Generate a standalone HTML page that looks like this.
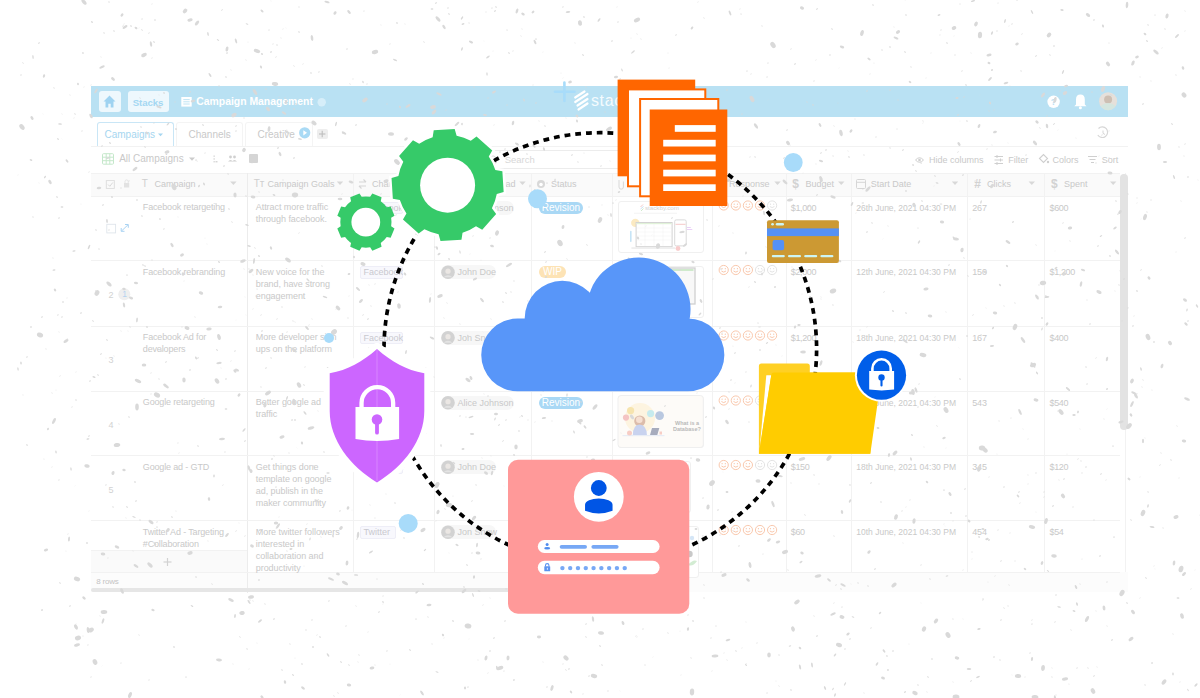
<!DOCTYPE html><html><head><meta charset="utf-8"><style>
*{margin:0;padding:0;box-sizing:border-box}
html,body{width:1200px;height:698px;overflow:hidden;background:#fff}
body{position:relative;font-family:"Liberation Sans",sans-serif}
.t{position:absolute;white-space:nowrap;line-height:1.2;z-index:1}
.b{position:absolute}
svg{position:absolute;left:0;top:0}
</style></head><body><div id="ui"><div class="b" style="left:91px;top:86px;width:1037px;height:30.5px;background:#b9e1f3"></div><div class="b" style="left:98.5px;top:90.7px;width:22px;height:21px;background:#eef8fd;border-radius:3px"></div><div class="b" style="left:127.5px;top:90.7px;width:41px;height:21px;background:#eef8fd;border-radius:3px"></div><div class="t" style="left:132.8px;top:96.5px;font-size:9.6px;color:#a3d7f2;letter-spacing:-0.1px;font-weight:700;">Stacks</div><div class="t" style="left:196.3px;top:95.8px;font-size:10.4px;color:#fff;letter-spacing:0px;font-weight:700;">Campaign Management</div><div class="t" style="left:591px;top:90.9px;font-size:16px;color:#f4fbfe;letter-spacing:0.6px;font-weight:400;">stac</div><div class="t" style="left:1050.8px;top:96.6px;font-size:9px;color:#b9e1f3;letter-spacing:0px;font-weight:700;">?</div><div class="b" style="left:96.5px;top:122px;width:77px;height:25px;border:1px solid #c9e6f6;border-bottom:none;border-radius:3px 3px 0 0;background:#fff"></div><div class="t" style="left:104.5px;top:129.0px;font-size:10px;color:#a6d6f0;letter-spacing:0px;font-weight:400;">Campaigns</div><div class="b" style="left:176px;top:122px;width:66.5px;height:24px;border:1px solid #f4f4f4;border-bottom:none;border-radius:3px 3px 0 0"></div><div class="t" style="left:188.5px;top:129.0px;font-size:10px;color:#c9c9c9;letter-spacing:0px;font-weight:400;">Channels</div><div class="b" style="left:245px;top:122px;width:68px;height:24px;border:1px solid #f4f4f4;border-bottom:none;border-radius:3px 3px 0 0"></div><div class="t" style="left:257.5px;top:129.0px;font-size:10px;color:#c9c9c9;letter-spacing:0px;font-weight:400;">Creative</div><div class="b" style="left:316.7px;top:128.7px;width:11px;height:10.5px;background:#eeeeee;border-radius:2px"></div><div class="b" style="left:91px;top:146px;width:1037px;height:1px;background:#f2f2f2"></div><div class="t" style="left:119.2px;top:153.0px;font-size:10px;color:#c9c9c9;letter-spacing:0px;font-weight:400;">All Campaigns</div><div class="b" style="left:249px;top:154px;width:8.5px;height:8.5px;background:#d5d5d5;border-radius:1px"></div><div class="b" style="left:470px;top:149.6px;width:190px;height:19.2px;border:1px solid #ececec;border-radius:3px;background:#fff"></div><div class="t" style="left:504.7px;top:153.8px;font-size:9.5px;color:#d8d8d8;letter-spacing:0px;font-weight:400;">Search</div><div class="t" style="left:929.1px;top:154.6px;font-size:9px;color:#c9c9c9;letter-spacing:0px;font-weight:400;">Hide columns</div><div class="t" style="left:1008.2px;top:154.6px;font-size:9px;color:#c9c9c9;letter-spacing:0px;font-weight:400;">Filter</div><div class="t" style="left:1052.4px;top:154.6px;font-size:9px;color:#c9c9c9;letter-spacing:0px;font-weight:400;">Colors</div><div class="t" style="left:1101.7px;top:154.6px;font-size:9px;color:#c9c9c9;letter-spacing:0px;font-weight:400;">Sort</div><div class="b" style="left:91px;top:172.5px;width:1029px;height:23px;background:#fafafa"></div><div class="b" style="left:91px;top:572px;width:1037px;height:19.5px;background:#fcfcfc"></div><div class="b" style="left:91px;top:172.5px;width:1029px;height:1px;background:#f2f2f2"></div><div class="b" style="left:91px;top:195.5px;width:1029px;height:1px;background:#f2f2f2"></div><div class="b" style="left:246.5px;top:172.5px;width:1px;height:399.5px;background:#f2f2f2"></div><div class="b" style="left:352.5px;top:172.5px;width:1px;height:399.5px;background:#f2f2f2"></div><div class="b" style="left:433.75px;top:172.5px;width:1px;height:399.5px;background:#f2f2f2"></div><div class="b" style="left:531.25px;top:172.5px;width:1px;height:399.5px;background:#f2f2f2"></div><div class="b" style="left:611.5px;top:172.5px;width:1px;height:399.5px;background:#f2f2f2"></div><div class="b" style="left:711.7px;top:172.5px;width:1px;height:399.5px;background:#f2f2f2"></div><div class="b" style="left:785.5px;top:172.5px;width:1px;height:399.5px;background:#f2f2f2"></div><div class="b" style="left:851.25px;top:172.5px;width:1px;height:399.5px;background:#f2f2f2"></div><div class="b" style="left:967px;top:172.5px;width:1px;height:399.5px;background:#f2f2f2"></div><div class="b" style="left:1044px;top:172.5px;width:1px;height:399.5px;background:#f2f2f2"></div><div class="b" style="left:1125px;top:172.5px;width:1px;height:399.5px;background:#f2f2f2"></div><div class="b" style="left:246.5px;top:172.5px;width:1.5px;height:420px;background:#ececec"></div><div class="b" style="left:91px;top:260px;width:1029px;height:1px;background:#f2f2f2"></div><div class="b" style="left:91px;top:325.5px;width:1029px;height:1px;background:#f2f2f2"></div><div class="b" style="left:91px;top:390.5px;width:1029px;height:1px;background:#f2f2f2"></div><div class="b" style="left:91px;top:455px;width:1029px;height:1px;background:#f2f2f2"></div><div class="b" style="left:91px;top:520px;width:1029px;height:1px;background:#f2f2f2"></div><div class="b" style="left:91px;top:571.5px;width:1029px;height:1px;background:#f2f2f2"></div><div class="t" style="left:154.4px;top:179.1px;font-size:9px;color:#c9c9c9;letter-spacing:0px;font-weight:400;">Campaign</div><div class="t" style="left:267.5px;top:179.1px;font-size:9px;color:#c9c9c9;letter-spacing:0px;font-weight:400;">Campaign Goals</div><div class="t" style="left:372px;top:179.1px;font-size:9px;color:#c9c9c9;letter-spacing:0px;font-weight:400;">Channels</div><div class="t" style="left:495.5px;top:179.1px;font-size:9px;color:#c9c9c9;letter-spacing:0px;font-weight:400;">Lead</div><div class="t" style="left:551px;top:179.1px;font-size:9px;color:#c9c9c9;letter-spacing:0px;font-weight:400;">Status</div><div class="t" style="left:729px;top:179.1px;font-size:9px;color:#c9c9c9;letter-spacing:0px;font-weight:400;">Response</div><div class="t" style="left:805.5px;top:179.1px;font-size:9px;color:#c9c9c9;letter-spacing:0px;font-weight:400;">Budget</div><div class="t" style="left:870.75px;top:179.1px;font-size:9px;color:#c9c9c9;letter-spacing:0px;font-weight:400;">Start Date</div><div class="t" style="left:987.1px;top:179.1px;font-size:9px;color:#c9c9c9;letter-spacing:0px;font-weight:400;">Clicks</div><div class="t" style="left:1063.9px;top:179.1px;font-size:9px;color:#c9c9c9;letter-spacing:0px;font-weight:400;">Spent</div><div class="t" style="left:141.7px;top:178.0px;font-size:10px;color:#cfcfcf;letter-spacing:0px;font-weight:400;">T</div><div class="t" style="left:253.75px;top:178.0px;font-size:10px;color:#cfcfcf;letter-spacing:0px;font-weight:400;">T&#1090;</div><div class="t" style="left:792.3px;top:177.1px;font-size:12px;color:#d2d2d2;letter-spacing:0px;font-weight:700;">$</div><div class="t" style="left:974.3px;top:177.1px;font-size:12px;color:#d2d2d2;letter-spacing:0px;font-weight:700;">#</div><div class="t" style="left:1051.1px;top:177.1px;font-size:12px;color:#d2d2d2;letter-spacing:0px;font-weight:700;">$</div><div class="t" style="left:142.8px;top:202.0px;font-size:9px;color:#c9c9c9;letter-spacing:-0.15px;font-weight:400;">Facebook retargeting</div><div class="t" style="left:255.75px;top:202.0px;font-size:9px;color:#c9c9c9;letter-spacing:-0.05px;font-weight:400;">Attract more traffic</div><div class="t" style="left:255.75px;top:214.0px;font-size:9px;color:#c9c9c9;letter-spacing:-0.05px;font-weight:400;">through facebook.</div><div class="b" style="left:360px;top:201.5px;width:42.5px;height:12.5px;background:#f8f8fd;border:1px solid #eeeef7;border-radius:2px"></div><div class="t" style="left:363.5px;top:202.9px;font-size:9px;color:#c9c9cf;letter-spacing:0px;font-weight:400;">Facebook</div><div class="b" style="left:441px;top:200.7px;width:73px;height:14px;background:#f7f7f7;border-radius:7px"></div><div class="t" style="left:457.5px;top:202.5px;font-size:9px;color:#c9c9c9;letter-spacing:0px;font-weight:400;">Alice Johnson</div><div class="b" style="left:538.5px;top:201.79999999999998px;width:44px;height:11.8px;background:#a9d8f5;border-radius:6px"></div><div class="t" style="left:541.8px;top:201.8px;font-size:10px;color:#fff;letter-spacing:0px;font-weight:400;">Revision</div><div class="t" style="left:790.75px;top:202.5px;font-size:9px;color:#c9c9c9;letter-spacing:-0.35px;font-weight:400;">$1,000</div><div class="t" style="left:856.25px;top:202.8px;font-size:8.5px;color:#c9c9c9;letter-spacing:0px;font-weight:400;">26th June, 2021 04:30 PM</div><div class="t" style="left:972.3px;top:202.5px;font-size:9px;color:#c9c9c9;letter-spacing:-0.2px;font-weight:400;">267</div><div class="t" style="left:1049.5px;top:202.5px;font-size:9px;color:#c9c9c9;letter-spacing:-0.35px;font-weight:400;">$600</div><div class="b" style="left:617.5px;top:201.0px;width:86px;height:52px;border:1px solid #f0f0f0;border-radius:3px;background:#fff"></div><div class="t" style="left:142.8px;top:266.5px;font-size:9px;color:#c9c9c9;letter-spacing:-0.15px;font-weight:400;">Facebook rebranding</div><div class="t" style="left:255.75px;top:266.5px;font-size:9px;color:#c9c9c9;letter-spacing:-0.05px;font-weight:400;">New voice for the</div><div class="t" style="left:255.75px;top:278.5px;font-size:9px;color:#c9c9c9;letter-spacing:-0.05px;font-weight:400;">brand, have strong</div><div class="t" style="left:255.75px;top:290.5px;font-size:9px;color:#c9c9c9;letter-spacing:-0.05px;font-weight:400;">engagement</div><div class="t" style="left:108.5px;top:289.6px;font-size:9px;color:#d2d2d2;letter-spacing:0px;font-weight:400;">2</div><div class="b" style="left:360px;top:266.0px;width:42.5px;height:12.5px;background:#f8f8fd;border:1px solid #eeeef7;border-radius:2px"></div><div class="t" style="left:363.5px;top:267.4px;font-size:9px;color:#c9c9cf;letter-spacing:0px;font-weight:400;">Facebook</div><div class="b" style="left:441px;top:265.2px;width:55px;height:14px;background:#f7f7f7;border-radius:7px"></div><div class="t" style="left:457.5px;top:267.0px;font-size:9px;color:#c9c9c9;letter-spacing:0px;font-weight:400;">John Doe</div><div class="b" style="left:538.5px;top:266.3px;width:27px;height:11.8px;background:#fde3b5;border-radius:6px"></div><div class="t" style="left:543px;top:266.3px;font-size:10px;color:#fff;letter-spacing:0px;font-weight:400;">WIP</div><div class="t" style="left:790.75px;top:267.0px;font-size:9px;color:#c9c9c9;letter-spacing:-0.35px;font-weight:400;">$2,000</div><div class="t" style="left:856.25px;top:267.3px;font-size:8.5px;color:#c9c9c9;letter-spacing:0px;font-weight:400;">12th June, 2021 04:30 PM</div><div class="t" style="left:972.3px;top:267.0px;font-size:9px;color:#c9c9c9;letter-spacing:-0.2px;font-weight:400;">150</div><div class="t" style="left:1049.5px;top:267.0px;font-size:9px;color:#c9c9c9;letter-spacing:-0.35px;font-weight:400;">$1,200</div><div class="b" style="left:617.5px;top:265.5px;width:86px;height:52px;border:1px solid #f0f0f0;border-radius:3px;background:#fff"></div><div class="t" style="left:142.8px;top:332.0px;font-size:9px;color:#c9c9c9;letter-spacing:-0.15px;font-weight:400;">Facebook Ad for</div><div class="t" style="left:142.8px;top:344.0px;font-size:9px;color:#c9c9c9;letter-spacing:-0.15px;font-weight:400;">developers</div><div class="t" style="left:255.75px;top:332.0px;font-size:9px;color:#c9c9c9;letter-spacing:-0.05px;font-weight:400;">More developer sign</div><div class="t" style="left:255.75px;top:344.0px;font-size:9px;color:#c9c9c9;letter-spacing:-0.05px;font-weight:400;">ups on the platform</div><div class="t" style="left:108.5px;top:355.1px;font-size:9px;color:#d2d2d2;letter-spacing:0px;font-weight:400;">3</div><div class="b" style="left:360px;top:331.5px;width:42.5px;height:12.5px;background:#f8f8fd;border:1px solid #eeeef7;border-radius:2px"></div><div class="t" style="left:363.5px;top:332.9px;font-size:9px;color:#c9c9cf;letter-spacing:0px;font-weight:400;">Facebook</div><div class="b" style="left:441px;top:330.7px;width:55px;height:14px;background:#f7f7f7;border-radius:7px"></div><div class="t" style="left:457.5px;top:332.5px;font-size:9px;color:#c9c9c9;letter-spacing:0px;font-weight:400;">Jon Snow</div><div class="t" style="left:790.75px;top:332.5px;font-size:9px;color:#c9c9c9;letter-spacing:-0.35px;font-weight:400;">$1,200</div><div class="t" style="left:856.25px;top:332.8px;font-size:8.5px;color:#c9c9c9;letter-spacing:0px;font-weight:400;">18th June, 2021 04:30 PM</div><div class="t" style="left:972.3px;top:332.5px;font-size:9px;color:#c9c9c9;letter-spacing:-0.2px;font-weight:400;">167</div><div class="t" style="left:1049.5px;top:332.5px;font-size:9px;color:#c9c9c9;letter-spacing:-0.35px;font-weight:400;">$400</div><div class="t" style="left:142.8px;top:397.0px;font-size:9px;color:#c9c9c9;letter-spacing:-0.15px;font-weight:400;">Google retargeting</div><div class="t" style="left:255.75px;top:397.0px;font-size:9px;color:#c9c9c9;letter-spacing:-0.05px;font-weight:400;">Better google ad</div><div class="t" style="left:255.75px;top:409.0px;font-size:9px;color:#c9c9c9;letter-spacing:-0.05px;font-weight:400;">traffic</div><div class="t" style="left:108.5px;top:420.1px;font-size:9px;color:#d2d2d2;letter-spacing:0px;font-weight:400;">4</div><div class="b" style="left:360px;top:396.5px;width:42.5px;height:12.5px;background:#f8f8fd;border:1px solid #eeeef7;border-radius:2px"></div><div class="t" style="left:363.5px;top:397.9px;font-size:9px;color:#c9c9cf;letter-spacing:0px;font-weight:400;">Facebook</div><div class="b" style="left:441px;top:395.7px;width:73px;height:14px;background:#f7f7f7;border-radius:7px"></div><div class="t" style="left:457.5px;top:397.5px;font-size:9px;color:#c9c9c9;letter-spacing:0px;font-weight:400;">Alice Johnson</div><div class="b" style="left:538.5px;top:396.8px;width:44px;height:11.8px;background:#a9d8f5;border-radius:6px"></div><div class="t" style="left:541.8px;top:396.8px;font-size:10px;color:#fff;letter-spacing:0px;font-weight:400;">Revision</div><div class="t" style="left:790.75px;top:397.5px;font-size:9px;color:#c9c9c9;letter-spacing:-0.35px;font-weight:400;">$1,500</div><div class="t" style="left:856.25px;top:397.8px;font-size:8.5px;color:#c9c9c9;letter-spacing:0px;font-weight:400;">18th June, 2021 04:30 PM</div><div class="t" style="left:972.3px;top:397.5px;font-size:9px;color:#c9c9c9;letter-spacing:-0.2px;font-weight:400;">543</div><div class="t" style="left:1049.5px;top:397.5px;font-size:9px;color:#c9c9c9;letter-spacing:-0.35px;font-weight:400;">$540</div><div class="b" style="left:617.5px;top:396.0px;width:86px;height:52px;border:1px solid #f0f0f0;border-radius:3px;background:#fff"></div><div class="t" style="left:142.8px;top:461.5px;font-size:9px;color:#c9c9c9;letter-spacing:-0.15px;font-weight:400;">Google ad - GTD</div><div class="t" style="left:255.75px;top:461.5px;font-size:9px;color:#c9c9c9;letter-spacing:-0.05px;font-weight:400;">Get things done</div><div class="t" style="left:255.75px;top:473.5px;font-size:9px;color:#c9c9c9;letter-spacing:-0.05px;font-weight:400;">template on google</div><div class="t" style="left:255.75px;top:485.5px;font-size:9px;color:#c9c9c9;letter-spacing:-0.05px;font-weight:400;">ad, publish in the</div><div class="t" style="left:255.75px;top:497.5px;font-size:9px;color:#c9c9c9;letter-spacing:-0.05px;font-weight:400;">maker community</div><div class="t" style="left:108.5px;top:484.6px;font-size:9px;color:#d2d2d2;letter-spacing:0px;font-weight:400;">5</div><div class="b" style="left:360px;top:461.0px;width:42.5px;height:12.5px;background:#f8f8fd;border:1px solid #eeeef7;border-radius:2px"></div><div class="t" style="left:363.5px;top:462.4px;font-size:9px;color:#c9c9cf;letter-spacing:0px;font-weight:400;">Facebook</div><div class="b" style="left:441px;top:460.2px;width:55px;height:14px;background:#f7f7f7;border-radius:7px"></div><div class="t" style="left:457.5px;top:462.0px;font-size:9px;color:#c9c9c9;letter-spacing:0px;font-weight:400;">John Doe</div><div class="t" style="left:790.75px;top:462.0px;font-size:9px;color:#c9c9c9;letter-spacing:-0.35px;font-weight:400;">$150</div><div class="t" style="left:856.25px;top:462.3px;font-size:8.5px;color:#c9c9c9;letter-spacing:0px;font-weight:400;">18th June, 2021 04:30 PM</div><div class="t" style="left:972.3px;top:462.0px;font-size:9px;color:#c9c9c9;letter-spacing:-0.2px;font-weight:400;">345</div><div class="t" style="left:1049.5px;top:462.0px;font-size:9px;color:#c9c9c9;letter-spacing:-0.35px;font-weight:400;">$120</div><div class="b" style="left:617.5px;top:460.5px;width:73.5px;height:52px;border:1px solid #f0f0f0;border-radius:3px;background:#fff"></div><div class="t" style="left:142.8px;top:526.5px;font-size:9px;color:#c9c9c9;letter-spacing:-0.15px;font-weight:400;">Twitter Ad - Targeting</div><div class="t" style="left:142.8px;top:538.5px;font-size:9px;color:#c9c9c9;letter-spacing:-0.15px;font-weight:400;">#Collaboration</div><div class="t" style="left:255.75px;top:526.5px;font-size:9px;color:#c9c9c9;letter-spacing:-0.05px;font-weight:400;">More twitter followers</div><div class="t" style="left:255.75px;top:538.5px;font-size:9px;color:#c9c9c9;letter-spacing:-0.05px;font-weight:400;">interested in</div><div class="t" style="left:255.75px;top:550.5px;font-size:9px;color:#c9c9c9;letter-spacing:-0.05px;font-weight:400;">collaboration and</div><div class="t" style="left:255.75px;top:562.5px;font-size:9px;color:#c9c9c9;letter-spacing:-0.05px;font-weight:400;">productivity</div><div class="b" style="left:360px;top:526.0px;width:36px;height:12.5px;background:#f8f8fd;border:1px solid #eeeef7;border-radius:2px"></div><div class="t" style="left:363.5px;top:527.4px;font-size:9px;color:#c9c9cf;letter-spacing:0px;font-weight:400;">Twitter</div><div class="b" style="left:441px;top:525.2px;width:55px;height:14px;background:#f7f7f7;border-radius:7px"></div><div class="t" style="left:457.5px;top:527.0px;font-size:9px;color:#c9c9c9;letter-spacing:0px;font-weight:400;">Jon Snow</div><div class="t" style="left:790.75px;top:527.0px;font-size:9px;color:#c9c9c9;letter-spacing:-0.35px;font-weight:400;">$60</div><div class="t" style="left:856.25px;top:527.3px;font-size:8.5px;color:#c9c9c9;letter-spacing:0px;font-weight:400;">10th June, 2021 04:30 PM</div><div class="t" style="left:972.3px;top:527.0px;font-size:9px;color:#c9c9c9;letter-spacing:-0.2px;font-weight:400;">454</div><div class="t" style="left:1049.5px;top:527.0px;font-size:9px;color:#c9c9c9;letter-spacing:-0.35px;font-weight:400;">$54</div><div class="b" style="left:617.5px;top:525.5px;width:81.5px;height:52px;border:1px solid #f0f0f0;border-radius:3px;background:#fff"></div><div class="t" style="left:122.2px;top:289.4px;font-size:8.5px;color:#b5d3f0;letter-spacing:0px;font-weight:400;">1</div><div class="t" style="left:675px;top:419.7px;font-size:5.5px;color:#b9b9b9;letter-spacing:0px;font-weight:700;">What is a</div><div class="t" style="left:673px;top:425.5px;font-size:5.5px;color:#b9b9b9;letter-spacing:0px;font-weight:700;">Database?</div><div class="b" style="left:91px;top:550px;width:156px;height:21.5px;background:#fafafa"></div><div class="b" style="left:91px;top:550px;width:156px;height:1px;background:#f2f2f2"></div><div class="t" style="left:96.2px;top:577.2px;font-size:8px;color:#c4c4c4;letter-spacing:-0.2px;font-weight:400;">8 rows</div><div class="b" style="left:91px;top:587.5px;width:470px;height:4.5px;background:#e6e6e6;border-radius:3px"></div><div class="b" style="left:1120px;top:174px;width:7.5px;height:256px;background:#e3e3e3;border-radius:4px"></div><svg width="1200" height="698"><path d="M109.5 95.5 L103.5 101.5 H105.5 V107.5 H108.3 V103.8 H110.7 V107.5 H113.5 V101.5 H115.5Z" fill="#9fd3f1"/><rect x="181.3" y="97" width="10.4" height="9.6" fill="#fff"/><g stroke="#b9e1f3" stroke-width="0.9"><line x1="183.3" y1="99.6" x2="189.7" y2="99.6"/><line x1="183.3" y1="101.8" x2="189.7" y2="101.8"/><line x1="183.3" y1="104" x2="189.7" y2="104"/></g><circle cx="321.7" cy="102.2" r="4.2" fill="#d6eef9"/><g stroke="#a8dcfa" stroke-width="2.6" stroke-linecap="round"><line x1="564.4" y1="82.5" x2="564.4" y2="101"/><line x1="555" y1="91.7" x2="574.5" y2="91.7"/></g><g stroke="#fff" stroke-width="2.2" stroke-linecap="round"><line x1="575.2" y1="97.5" x2="584.5" y2="91.5"/><line x1="575.2" y1="102" x2="587.5" y2="94"/><line x1="577.5" y1="105.5" x2="587.5" y2="99"/><line x1="578.5" y1="109.5" x2="587.5" y2="103.5"/></g><circle cx="1053.6" cy="101.8" r="6.2" fill="#fff"/><path d="M1080.4 94.5 Q1076 94.5 1076 99.5 V104.5 L1074.3 106.3 H1086.5 L1084.8 104.5 V99.5 Q1084.8 94.5 1080.4 94.5Z" fill="#fff"/><circle cx="1080.4" cy="107.8" r="1.5" fill="#fff"/><circle cx="1108.1" cy="101.2" r="9" fill="#e6e0da"/><circle cx="1108.1" cy="99.5" r="4" fill="#cdbfb3"/><path d="M1100.5 106 Q1108 100 1115.7 106 Q1112 110.2 1108.1 110.2 Q1104 110.2 1100.5 106Z" fill="#d5e6df"/><path d="M158 133.5 H163 L160.5 136.3Z" fill="#a6d6f0"/><circle cx="304.7" cy="132.8" r="5.6" fill="#a9daf5"/><path d="M303.3 130.2 L307 132.8 L303.3 135.4Z" fill="#fff"/><g stroke="#bdbdbd" stroke-width="1.1"><line x1="322.2" y1="130.8" x2="322.2" y2="137.2"/><line x1="319" y1="134" x2="325.4" y2="134"/></g><path d="M1098.5 128.5 A5.3 5.3 0 1 1 1097.8 135" fill="none" stroke="#d6d6d6" stroke-width="1.2"/><path d="M1103 130.5 V133.3 L1105 134.5" fill="none" stroke="#d6d6d6" stroke-width="1"/><g fill="none" stroke="#c5e8cb" stroke-width="1"><rect x="102.5" y="153.7" width="11" height="10.5" rx="1"/><line x1="106.2" y1="153.7" x2="106.2" y2="164.2"/><line x1="109.8" y1="153.7" x2="109.8" y2="164.2"/><line x1="102.5" y1="157.2" x2="113.5" y2="157.2"/><line x1="102.5" y1="160.7" x2="113.5" y2="160.7"/></g><path d="M189 157.5 H195 L192 160.8Z" fill="#cccccc"/><g fill="#d2d2d2"><rect x="213.5" y="155.5" width="1.3" height="1.3"/><rect x="213.5" y="158.3" width="1.3" height="1.3"/><rect x="213.5" y="161.1" width="1.3" height="1.3"/><rect x="215.5" y="161.1" width="2" height="1.3"/></g><g fill="#d0d0d0"><circle cx="230.5" cy="157" r="1.4"/><circle cx="234.5" cy="157" r="1.4"/><path d="M228 161.5 Q230.5 158.5 233 161.5Z M232 161.5 Q234.5 158.5 237 161.5Z"/></g><circle cx="493" cy="158.5" r="2.6" fill="none" stroke="#d8d8d8" stroke-width="1"/><path d="M915.5 160 Q919.5 155.5 923.5 160 Q919.5 164.5 915.5 160Z" fill="none" stroke="#cfcfcf" stroke-width="1"/><circle cx="919.5" cy="160" r="1.3" fill="#cfcfcf"/><g stroke="#cfcfcf" stroke-width="1"><line x1="994.5" y1="156.5" x2="1003" y2="156.5"/><line x1="994.5" y1="160" x2="1003" y2="160"/><line x1="994.5" y1="163.5" x2="1003" y2="163.5"/><line x1="997" y1="155" x2="997" y2="158"/><line x1="1000.5" y1="158.5" x2="1000.5" y2="161.5"/><line x1="997" y1="162" x2="997" y2="165"/></g><path d="M1039.5 158.5 L1043.5 154.5 L1047.5 158.5 L1043.5 162.5Z" fill="none" stroke="#cfcfcf" stroke-width="1.1"/><circle cx="1048" cy="162" r="1.2" fill="#cfcfcf"/><g stroke="#cfcfcf" stroke-width="1"><line x1="1088" y1="156.5" x2="1097" y2="156.5"/><line x1="1089.5" y1="159.5" x2="1095.5" y2="159.5"/><line x1="1091" y1="162.5" x2="1094" y2="162.5"/></g><path d="M230.20000000000002 181.5 H236.6 L233.4 185Z" fill="#d8d8d8"/><path d="M336.8 181.5 H343.2 L340 185Z" fill="#d8d8d8"/><path d="M417.8 181.5 H424.2 L421 185Z" fill="#d8d8d8"/><path d="M519.3 181.5 H525.7 L522.5 185Z" fill="#d8d8d8"/><path d="M774.3 181.5 H780.7 L777.5 185Z" fill="#d8d8d8"/><path d="M838.05 181.5 H844.45 L841.25 185Z" fill="#d8d8d8"/><path d="M951.8 181.5 H958.2 L955 185Z" fill="#d8d8d8"/><path d="M1028.6 181.5 H1035.0 L1031.8 185Z" fill="#d8d8d8"/><path d="M1110.0 181.5 H1116.4 L1113.2 185Z" fill="#d8d8d8"/><rect x="106.3" y="180.6" width="8" height="7.8" fill="none" stroke="#dcdcdc" stroke-width="0.9"/><path d="M108 184.5 L109.8 186.3 L112.8 182.5" fill="none" stroke="#cfcfcf" stroke-width="0.8"/><rect x="124" y="183" width="5.2" height="4.5" fill="#e2e2e2"/><path d="M125 183 V181.5 A1.6 1.6 0 0 1 128.2 181.5 V183" fill="none" stroke="#e2e2e2" stroke-width="0.9"/><g stroke="#d6d6d6" stroke-width="1.1" fill="none"><path d="M359 182 H366 M363.5 179.5 L366 182 M359 186 H366 M361.5 188.5 L359 186"/></g><circle cx="541" cy="184" r="4" fill="#d8d8d8"/><circle cx="541" cy="184.5" r="1.8" fill="#fff"/><path d="M619 180 V187 A2.2 2.2 0 0 0 623.4 187 V181.5" fill="none" stroke="#d8d8d8" stroke-width="1"/><rect x="856.5" y="179.5" width="9" height="9" rx="1" fill="none" stroke="#d6d6d6" stroke-width="1"/><line x1="856.5" y1="182.3" x2="865.5" y2="182.3" stroke="#d6d6d6" stroke-width="1"/><circle cx="448" cy="207.7" r="6.8" fill="#d2d2d2"/><circle cx="448" cy="206.7" r="2.6" fill="#ebe7e4"/><path d="M443.5 212.7 Q448 208.9 452.5 212.7Z" fill="#e3e3e3"/><g fill="none" stroke="#f8c2a4" stroke-width="0.9"><circle cx="723.7" cy="205.5" r="4.6"/><path d="M721.4 206.5 Q723.7 208.7 726.0 206.5"/></g><g fill="#f8c2a4"><circle cx="722.1" cy="204.2" r="0.6"/><circle cx="725.3" cy="204.2" r="0.6"/></g><g fill="none" stroke="#f8c2a4" stroke-width="0.9"><circle cx="735.8" cy="205.5" r="4.6"/><path d="M733.5 206.5 Q735.8 208.7 738.1 206.5"/></g><g fill="#f8c2a4"><circle cx="734.2" cy="204.2" r="0.6"/><circle cx="737.4" cy="204.2" r="0.6"/></g><g fill="none" stroke="#f8c2a4" stroke-width="0.9"><circle cx="747.9" cy="205.5" r="4.6"/><path d="M745.6 206.5 Q747.9 208.7 750.2 206.5"/></g><g fill="#f8c2a4"><circle cx="746.3" cy="204.2" r="0.6"/><circle cx="749.5" cy="204.2" r="0.6"/></g><g fill="none" stroke="#f8c2a4" stroke-width="0.9"><circle cx="760.0" cy="205.5" r="4.6"/><path d="M757.7 206.5 Q760.0 208.7 762.3 206.5"/></g><g fill="#f8c2a4"><circle cx="758.4" cy="204.2" r="0.6"/><circle cx="761.6" cy="204.2" r="0.6"/></g><g fill="none" stroke="#e0e0e0" stroke-width="0.9"><circle cx="772.1" cy="205.5" r="4.6"/><path d="M769.8 206.5 Q772.1 208.7 774.4 206.5"/></g><g fill="#e0e0e0"><circle cx="770.5" cy="204.2" r="0.6"/><circle cx="773.7" cy="204.2" r="0.6"/></g><circle cx="448" cy="272.2" r="6.8" fill="#d2d2d2"/><circle cx="448" cy="271.2" r="2.6" fill="#ebe7e4"/><path d="M443.5 277.2 Q448 273.4 452.5 277.2Z" fill="#e3e3e3"/><g fill="none" stroke="#f8c2a4" stroke-width="0.9"><circle cx="723.7" cy="270.0" r="4.6"/><path d="M721.4 271.0 Q723.7 273.2 726.0 271.0"/></g><g fill="#f8c2a4"><circle cx="722.1" cy="268.7" r="0.6"/><circle cx="725.3" cy="268.7" r="0.6"/></g><g fill="none" stroke="#f8c2a4" stroke-width="0.9"><circle cx="735.8" cy="270.0" r="4.6"/><path d="M733.5 271.0 Q735.8 273.2 738.1 271.0"/></g><g fill="#f8c2a4"><circle cx="734.2" cy="268.7" r="0.6"/><circle cx="737.4" cy="268.7" r="0.6"/></g><g fill="none" stroke="#f8c2a4" stroke-width="0.9"><circle cx="747.9" cy="270.0" r="4.6"/><path d="M745.6 271.0 Q747.9 273.2 750.2 271.0"/></g><g fill="#f8c2a4"><circle cx="746.3" cy="268.7" r="0.6"/><circle cx="749.5" cy="268.7" r="0.6"/></g><g fill="none" stroke="#e0e0e0" stroke-width="0.9"><circle cx="760.0" cy="270.0" r="4.6"/><path d="M757.7 271.0 Q760.0 273.2 762.3 271.0"/></g><g fill="#e0e0e0"><circle cx="758.4" cy="268.7" r="0.6"/><circle cx="761.6" cy="268.7" r="0.6"/></g><g fill="none" stroke="#e0e0e0" stroke-width="0.9"><circle cx="772.1" cy="270.0" r="4.6"/><path d="M769.8 271.0 Q772.1 273.2 774.4 271.0"/></g><g fill="#e0e0e0"><circle cx="770.5" cy="268.7" r="0.6"/><circle cx="773.7" cy="268.7" r="0.6"/></g><circle cx="448" cy="337.7" r="6.8" fill="#d2d2d2"/><circle cx="448" cy="336.7" r="2.6" fill="#ebe7e4"/><path d="M443.5 342.7 Q448 338.9 452.5 342.7Z" fill="#e3e3e3"/><g fill="none" stroke="#f8c2a4" stroke-width="0.9"><circle cx="723.7" cy="335.5" r="4.6"/><path d="M721.4 336.5 Q723.7 338.7 726.0 336.5"/></g><g fill="#f8c2a4"><circle cx="722.1" cy="334.2" r="0.6"/><circle cx="725.3" cy="334.2" r="0.6"/></g><g fill="none" stroke="#f8c2a4" stroke-width="0.9"><circle cx="735.8" cy="335.5" r="4.6"/><path d="M733.5 336.5 Q735.8 338.7 738.1 336.5"/></g><g fill="#f8c2a4"><circle cx="734.2" cy="334.2" r="0.6"/><circle cx="737.4" cy="334.2" r="0.6"/></g><g fill="none" stroke="#f8c2a4" stroke-width="0.9"><circle cx="747.9" cy="335.5" r="4.6"/><path d="M745.6 336.5 Q747.9 338.7 750.2 336.5"/></g><g fill="#f8c2a4"><circle cx="746.3" cy="334.2" r="0.6"/><circle cx="749.5" cy="334.2" r="0.6"/></g><g fill="none" stroke="#f8c2a4" stroke-width="0.9"><circle cx="760.0" cy="335.5" r="4.6"/><path d="M757.7 336.5 Q760.0 338.7 762.3 336.5"/></g><g fill="#f8c2a4"><circle cx="758.4" cy="334.2" r="0.6"/><circle cx="761.6" cy="334.2" r="0.6"/></g><g fill="none" stroke="#f8c2a4" stroke-width="0.9"><circle cx="772.1" cy="335.5" r="4.6"/><path d="M769.8 336.5 Q772.1 338.7 774.4 336.5"/></g><g fill="#f8c2a4"><circle cx="770.5" cy="334.2" r="0.6"/><circle cx="773.7" cy="334.2" r="0.6"/></g><circle cx="448" cy="402.7" r="6.8" fill="#d2d2d2"/><circle cx="448" cy="401.7" r="2.6" fill="#ebe7e4"/><path d="M443.5 407.7 Q448 403.9 452.5 407.7Z" fill="#e3e3e3"/><g fill="none" stroke="#f8c2a4" stroke-width="0.9"><circle cx="723.7" cy="400.5" r="4.6"/><path d="M721.4 401.5 Q723.7 403.7 726.0 401.5"/></g><g fill="#f8c2a4"><circle cx="722.1" cy="399.2" r="0.6"/><circle cx="725.3" cy="399.2" r="0.6"/></g><g fill="none" stroke="#f8c2a4" stroke-width="0.9"><circle cx="735.8" cy="400.5" r="4.6"/><path d="M733.5 401.5 Q735.8 403.7 738.1 401.5"/></g><g fill="#f8c2a4"><circle cx="734.2" cy="399.2" r="0.6"/><circle cx="737.4" cy="399.2" r="0.6"/></g><g fill="none" stroke="#f8c2a4" stroke-width="0.9"><circle cx="747.9" cy="400.5" r="4.6"/><path d="M745.6 401.5 Q747.9 403.7 750.2 401.5"/></g><g fill="#f8c2a4"><circle cx="746.3" cy="399.2" r="0.6"/><circle cx="749.5" cy="399.2" r="0.6"/></g><g fill="none" stroke="#e0e0e0" stroke-width="0.9"><circle cx="760.0" cy="400.5" r="4.6"/><path d="M757.7 401.5 Q760.0 403.7 762.3 401.5"/></g><g fill="#e0e0e0"><circle cx="758.4" cy="399.2" r="0.6"/><circle cx="761.6" cy="399.2" r="0.6"/></g><g fill="none" stroke="#e0e0e0" stroke-width="0.9"><circle cx="772.1" cy="400.5" r="4.6"/><path d="M769.8 401.5 Q772.1 403.7 774.4 401.5"/></g><g fill="#e0e0e0"><circle cx="770.5" cy="399.2" r="0.6"/><circle cx="773.7" cy="399.2" r="0.6"/></g><circle cx="448" cy="467.2" r="6.8" fill="#d2d2d2"/><circle cx="448" cy="466.2" r="2.6" fill="#ebe7e4"/><path d="M443.5 472.2 Q448 468.4 452.5 472.2Z" fill="#e3e3e3"/><g fill="none" stroke="#f8c2a4" stroke-width="0.9"><circle cx="723.7" cy="465.0" r="4.6"/><path d="M721.4 466.0 Q723.7 468.2 726.0 466.0"/></g><g fill="#f8c2a4"><circle cx="722.1" cy="463.7" r="0.6"/><circle cx="725.3" cy="463.7" r="0.6"/></g><g fill="none" stroke="#f8c2a4" stroke-width="0.9"><circle cx="735.8" cy="465.0" r="4.6"/><path d="M733.5 466.0 Q735.8 468.2 738.1 466.0"/></g><g fill="#f8c2a4"><circle cx="734.2" cy="463.7" r="0.6"/><circle cx="737.4" cy="463.7" r="0.6"/></g><g fill="none" stroke="#f8c2a4" stroke-width="0.9"><circle cx="747.9" cy="465.0" r="4.6"/><path d="M745.6 466.0 Q747.9 468.2 750.2 466.0"/></g><g fill="#f8c2a4"><circle cx="746.3" cy="463.7" r="0.6"/><circle cx="749.5" cy="463.7" r="0.6"/></g><g fill="none" stroke="#e0e0e0" stroke-width="0.9"><circle cx="760.0" cy="465.0" r="4.6"/><path d="M757.7 466.0 Q760.0 468.2 762.3 466.0"/></g><g fill="#e0e0e0"><circle cx="758.4" cy="463.7" r="0.6"/><circle cx="761.6" cy="463.7" r="0.6"/></g><g fill="none" stroke="#e0e0e0" stroke-width="0.9"><circle cx="772.1" cy="465.0" r="4.6"/><path d="M769.8 466.0 Q772.1 468.2 774.4 466.0"/></g><g fill="#e0e0e0"><circle cx="770.5" cy="463.7" r="0.6"/><circle cx="773.7" cy="463.7" r="0.6"/></g><circle cx="448" cy="532.2" r="6.8" fill="#d2d2d2"/><circle cx="448" cy="531.2" r="2.6" fill="#ebe7e4"/><path d="M443.5 537.2 Q448 533.4 452.5 537.2Z" fill="#e3e3e3"/><g fill="none" stroke="#f8c2a4" stroke-width="0.9"><circle cx="723.7" cy="530.0" r="4.6"/><path d="M721.4 531.0 Q723.7 533.2 726.0 531.0"/></g><g fill="#f8c2a4"><circle cx="722.1" cy="528.7" r="0.6"/><circle cx="725.3" cy="528.7" r="0.6"/></g><g fill="none" stroke="#f8c2a4" stroke-width="0.9"><circle cx="735.8" cy="530.0" r="4.6"/><path d="M733.5 531.0 Q735.8 533.2 738.1 531.0"/></g><g fill="#f8c2a4"><circle cx="734.2" cy="528.7" r="0.6"/><circle cx="737.4" cy="528.7" r="0.6"/></g><g fill="none" stroke="#f8c2a4" stroke-width="0.9"><circle cx="747.9" cy="530.0" r="4.6"/><path d="M745.6 531.0 Q747.9 533.2 750.2 531.0"/></g><g fill="#f8c2a4"><circle cx="746.3" cy="528.7" r="0.6"/><circle cx="749.5" cy="528.7" r="0.6"/></g><g fill="none" stroke="#f8c2a4" stroke-width="0.9"><circle cx="760.0" cy="530.0" r="4.6"/><path d="M757.7 531.0 Q760.0 533.2 762.3 531.0"/></g><g fill="#f8c2a4"><circle cx="758.4" cy="528.7" r="0.6"/><circle cx="761.6" cy="528.7" r="0.6"/></g><g fill="none" stroke="#f8c2a4" stroke-width="0.9"><circle cx="772.1" cy="530.0" r="4.6"/><path d="M769.8 531.0 Q772.1 533.2 774.4 531.0"/></g><g fill="#f8c2a4"><circle cx="770.5" cy="528.7" r="0.6"/><circle cx="773.7" cy="528.7" r="0.6"/></g><rect x="106.8" y="224.3" width="8.8" height="8.6" fill="none" stroke="#dfe5ec" stroke-width="0.9"/><g stroke="#a9d3f3" stroke-width="1" fill="none"><path d="M121.5 231 L128 224.8 M125 224.5 H128.3 V227.8 M121.2 228 V231.3 H124.5"/></g><circle cx="124.3" cy="294.3" r="6" fill="#efefef"/><g><text x="645" y="209.8" font-size="6.2" fill="#d2d2d2" font-family="Liberation Sans">stackby.com</text><g stroke-width="1"><line x1="640.5" y1="207" x2="643" y2="204.5" stroke="#f3c8c8"/><line x1="640.5" y1="209" x2="643.5" y2="206.5" stroke="#c8e0f3"/><line x1="641" y1="211" x2="643.5" y2="208.5" stroke="#cfeacc"/></g><rect x="634" y="212.8" width="43" height="0.8" fill="#f1f1f1"/><circle cx="635.3" cy="222.9" r="4.2" fill="#fbeac2"/><rect x="636.1" y="222.5" width="36" height="24.2" fill="#fff" stroke="#d3d3d3" stroke-width="1"/><rect x="636.6" y="223" width="35" height="1.2" fill="#e0f2d8"/><g stroke="#f3f3f3" stroke-width="0.5"><line x1="637" y1="228" x2="671.5" y2="228"/><line x1="637" y1="232" x2="671.5" y2="232"/><line x1="637" y1="236" x2="671.5" y2="236"/><line x1="637" y1="240" x2="671.5" y2="240"/><line x1="645" y1="224" x2="645" y2="246"/><line x1="654" y1="224" x2="654" y2="246"/><line x1="663" y1="224" x2="663" y2="246"/></g><rect x="631.4" y="247.3" width="43.8" height="1.5" fill="#ececec"/><rect x="674.7" y="219.9" width="11.5" height="26" rx="1.5" fill="#fff" stroke="#dadada" stroke-width="1"/><rect x="675.5" y="223.8" width="10" height="1" fill="#f5c9c9"/><circle cx="678" cy="248.5" r="2.4" fill="#f8cccc"/><rect x="630" y="230.8" width="1.6" height="11.2" rx="0.8" fill="#c6e4f6"/><rect x="686.8" y="227" width="4" height="1" fill="#ead0f7"/><rect x="686.8" y="229" width="5.5" height="1" fill="#ead0f7"/></g><rect x="667.5" y="268" width="27.5" height="36" fill="#f8f8f8" stroke="#d0d0d0" stroke-width="1.3"/><rect x="668.5" y="269" width="25" height="2" fill="#cfeacc"/><rect x="618" y="395.5" width="85.3" height="52" rx="3" fill="#fdfbf8" stroke="#efefef" stroke-width="1"/><g><circle cx="640" cy="418" r="15" fill="#fdf4e0"/><circle cx="630.6" cy="410.6" r="3.6" fill="#f6e4ae"/><circle cx="626" cy="417.6" r="3.1" fill="#f4c4c4"/><circle cx="650.6" cy="413.6" r="3.6" fill="#c6ebee"/><circle cx="659.6" cy="415.6" r="4.4" fill="#b9c8e0"/><circle cx="639.8" cy="421" r="5.6" fill="#dcbcaa"/><circle cx="639.3" cy="419.8" r="3.3" fill="#f6e0d2"/><path d="M632.8 435.5 Q633 424.5 639.5 424.5 Q646.5 424.5 647 435.5Z" fill="#c9d3ef"/><path d="M650 435 L652 428 H659.3 L657.3 435Z" fill="#a7acbd"/><rect x="622.5" y="435" width="42" height="1.2" fill="#e8edf6"/><circle cx="629.5" cy="433" r="2.5" fill="#f7cdc5"/><rect x="659.5" y="431.5" width="2.5" height="3" fill="#f7cdc5"/></g><circle cx="692" cy="538" r="2.2" fill="#d5e6f6"/><circle cx="689.5" cy="554" r="3.2" fill="#c9c9c9"/><path d="M688 565 Q693 559 697 561 Q693 567 688 565Z" fill="#d3ecd3"/><g stroke="#d2d2d2" stroke-width="1.2"><line x1="167.5" y1="558" x2="167.5" y2="566"/><line x1="163.5" y1="562" x2="171.5" y2="562"/></g></svg></div><svg width="1200" height="698" style="z-index:3"><g fill="#d9d9d9"><ellipse cx="543" cy="391" rx="0.8" ry="0.5" transform="rotate(33 543 391)"/><ellipse cx="614" cy="440" rx="1.9" ry="0.7" transform="rotate(146 614 440)"/><ellipse cx="832" cy="29" rx="0.9" ry="0.5" transform="rotate(28 832 29)"/><ellipse cx="18" cy="369" rx="1.8" ry="0.7" transform="rotate(84 18 369)"/><ellipse cx="529" cy="588" rx="0.8" ry="0.5" transform="rotate(82 529 588)"/><ellipse cx="334" cy="696" rx="0.9" ry="0.4" transform="rotate(41 334 696)"/><ellipse cx="347" cy="49" rx="1.0" ry="0.5" transform="rotate(172 347 49)"/><ellipse cx="1017" cy="0" rx="0.8" ry="0.6" transform="rotate(72 1017 0)"/><ellipse cx="88" cy="439" rx="1.5" ry="0.7" transform="rotate(174 88 439)"/><ellipse cx="910" cy="82" rx="1.4" ry="1.0" transform="rotate(32 910 82)"/><ellipse cx="671" cy="312" rx="0.6" ry="0.4" transform="rotate(21 671 312)"/><ellipse cx="505" cy="149" rx="1.0" ry="0.5" transform="rotate(159 505 149)"/><ellipse cx="253" cy="275" rx="0.6" ry="0.4" transform="rotate(38 253 275)"/><ellipse cx="310" cy="539" rx="1.5" ry="0.6" transform="rotate(105 310 539)"/><ellipse cx="292" cy="420" rx="1.1" ry="0.6" transform="rotate(103 292 420)"/><ellipse cx="1040" cy="128" rx="1.0" ry="0.4" transform="rotate(34 1040 128)"/><ellipse cx="887" cy="656" rx="1.0" ry="0.6" transform="rotate(76 887 656)"/><ellipse cx="125" cy="27" rx="2.8" ry="1.3" transform="rotate(148 125 27)"/><ellipse cx="716" cy="205" rx="0.5" ry="0.2" transform="rotate(101 716 205)"/><ellipse cx="1023" cy="429" rx="0.6" ry="0.2" transform="rotate(48 1023 429)"/><ellipse cx="535" cy="42" rx="2.5" ry="1.0" transform="rotate(65 535 42)"/><ellipse cx="1069" cy="684" rx="0.9" ry="0.3" transform="rotate(6 1069 684)"/><ellipse cx="1155" cy="15" rx="0.9" ry="0.4" transform="rotate(180 1155 15)"/><ellipse cx="90" cy="381" rx="0.9" ry="0.6" transform="rotate(143 90 381)"/><ellipse cx="1098" cy="246" rx="1.0" ry="0.5" transform="rotate(142 1098 246)"/><ellipse cx="1036" cy="400" rx="2.5" ry="1.5" transform="rotate(14 1036 400)"/><ellipse cx="767" cy="693" rx="0.7" ry="0.5" transform="rotate(105 767 693)"/><ellipse cx="529" cy="585" rx="0.5" ry="0.3" transform="rotate(87 529 585)"/><ellipse cx="276" cy="487" rx="1.1" ry="0.5" transform="rotate(2 276 487)"/><ellipse cx="361" cy="473" rx="3.2" ry="2.0" transform="rotate(80 361 473)"/><ellipse cx="1070" cy="228" rx="2.2" ry="1.5" transform="rotate(165 1070 228)"/><ellipse cx="1056" cy="268" rx="1.6" ry="0.9" transform="rotate(151 1056 268)"/><ellipse cx="1018" cy="496" rx="1.7" ry="0.9" transform="rotate(50 1018 496)"/><ellipse cx="257" cy="289" rx="0.7" ry="0.5" transform="rotate(177 257 289)"/><ellipse cx="543" cy="52" rx="0.5" ry="0.3" transform="rotate(103 543 52)"/><ellipse cx="371" cy="552" rx="2.3" ry="0.8" transform="rotate(149 371 552)"/><ellipse cx="285" cy="98" rx="0.8" ry="0.5" transform="rotate(118 285 98)"/><ellipse cx="969" cy="669" rx="2.3" ry="1.0" transform="rotate(2 969 669)"/><ellipse cx="567" cy="498" rx="2.0" ry="1.3" transform="rotate(94 567 498)"/><ellipse cx="737" cy="528" rx="1.0" ry="0.4" transform="rotate(168 737 528)"/><ellipse cx="867" cy="91" rx="1.0" ry="0.5" transform="rotate(102 867 91)"/><ellipse cx="1055" cy="556" rx="0.9" ry="0.4" transform="rotate(130 1055 556)"/><ellipse cx="982" cy="448" rx="3.2" ry="2.4" transform="rotate(176 982 448)"/><ellipse cx="644" cy="552" rx="1.0" ry="0.5" transform="rotate(15 644 552)"/><ellipse cx="529" cy="384" rx="0.5" ry="0.3" transform="rotate(12 529 384)"/><ellipse cx="960" cy="121" rx="0.6" ry="0.2" transform="rotate(93 960 121)"/><ellipse cx="868" cy="586" rx="0.8" ry="0.6" transform="rotate(15 868 586)"/><ellipse cx="266" cy="368" rx="0.9" ry="0.5" transform="rotate(152 266 368)"/><ellipse cx="672" cy="218" rx="1.0" ry="0.5" transform="rotate(153 672 218)"/><ellipse cx="1162" cy="366" rx="2.4" ry="1.3" transform="rotate(109 1162 366)"/><ellipse cx="481" cy="559" rx="0.9" ry="0.3" transform="rotate(97 481 559)"/><ellipse cx="497" cy="668" rx="2.3" ry="0.9" transform="rotate(78 497 668)"/><ellipse cx="979" cy="629" rx="1.7" ry="1.0" transform="rotate(167 979 629)"/><ellipse cx="155" cy="544" rx="1.8" ry="1.1" transform="rotate(58 155 544)"/><ellipse cx="426" cy="433" rx="0.6" ry="0.3" transform="rotate(45 426 433)"/><ellipse cx="237" cy="370" rx="2.2" ry="1.2" transform="rotate(29 237 370)"/><ellipse cx="245" cy="441" rx="1.0" ry="0.6" transform="rotate(154 245 441)"/><ellipse cx="279" cy="517" rx="0.7" ry="0.3" transform="rotate(166 279 517)"/><ellipse cx="262" cy="697" rx="1.8" ry="1.2" transform="rotate(47 262 697)"/><ellipse cx="116" cy="581" rx="0.6" ry="0.3" transform="rotate(123 116 581)"/><ellipse cx="1094" cy="676" rx="1.0" ry="0.5" transform="rotate(123 1094 676)"/><ellipse cx="227" cy="49" rx="2.5" ry="1.4" transform="rotate(102 227 49)"/><ellipse cx="176" cy="129" rx="1.1" ry="0.8" transform="rotate(17 176 129)"/><ellipse cx="918" cy="228" rx="0.8" ry="0.4" transform="rotate(2 918 228)"/><ellipse cx="841" cy="589" rx="0.9" ry="0.5" transform="rotate(35 841 589)"/><ellipse cx="198" cy="358" rx="1.0" ry="0.6" transform="rotate(155 198 358)"/><ellipse cx="755" cy="282" rx="1.1" ry="0.7" transform="rotate(46 755 282)"/><ellipse cx="1094" cy="520" rx="0.7" ry="0.5" transform="rotate(158 1094 520)"/><ellipse cx="834" cy="536" rx="0.9" ry="0.4" transform="rotate(62 834 536)"/><ellipse cx="563" cy="7" rx="0.9" ry="0.4" transform="rotate(170 563 7)"/><ellipse cx="799" cy="236" rx="0.8" ry="0.4" transform="rotate(180 799 236)"/><ellipse cx="771" cy="489" rx="0.5" ry="0.3" transform="rotate(133 771 489)"/><ellipse cx="308" cy="280" rx="2.1" ry="0.8" transform="rotate(45 308 280)"/><ellipse cx="1087" cy="384" rx="0.8" ry="0.6" transform="rotate(115 1087 384)"/><ellipse cx="971" cy="53" rx="0.5" ry="0.4" transform="rotate(29 971 53)"/><ellipse cx="566" cy="118" rx="0.5" ry="0.4" transform="rotate(76 566 118)"/><ellipse cx="632" cy="417" rx="2.7" ry="1.5" transform="rotate(51 632 417)"/><ellipse cx="860" cy="207" rx="1.4" ry="0.6" transform="rotate(136 860 207)"/><ellipse cx="468" cy="626" rx="3.4" ry="2.5" transform="rotate(13 468 626)"/><ellipse cx="1087" cy="300" rx="0.6" ry="0.4" transform="rotate(169 1087 300)"/><ellipse cx="867" cy="327" rx="0.9" ry="0.3" transform="rotate(112 867 327)"/><ellipse cx="547" cy="142" rx="0.6" ry="0.3" transform="rotate(120 547 142)"/><ellipse cx="547" cy="183" rx="1.0" ry="0.5" transform="rotate(180 547 183)"/><ellipse cx="1143" cy="513" rx="3.2" ry="2.1" transform="rotate(112 1143 513)"/><ellipse cx="431" cy="190" rx="0.9" ry="0.5" transform="rotate(136 431 190)"/><ellipse cx="228" cy="174" rx="1.0" ry="0.4" transform="rotate(11 228 174)"/><ellipse cx="325" cy="297" rx="2.4" ry="0.9" transform="rotate(16 325 297)"/><ellipse cx="812" cy="384" rx="2.3" ry="1.0" transform="rotate(62 812 384)"/><ellipse cx="894" cy="585" rx="3.0" ry="1.8" transform="rotate(138 894 585)"/><ellipse cx="256" cy="296" rx="0.7" ry="0.4" transform="rotate(178 256 296)"/><ellipse cx="390" cy="383" rx="0.8" ry="0.4" transform="rotate(17 390 383)"/><ellipse cx="1050" cy="55" rx="0.8" ry="0.5" transform="rotate(54 1050 55)"/><ellipse cx="931" cy="53" rx="0.5" ry="0.3" transform="rotate(130 931 53)"/><ellipse cx="833" cy="197" rx="2.8" ry="1.4" transform="rotate(21 833 197)"/><ellipse cx="851" cy="397" rx="1.0" ry="0.6" transform="rotate(145 851 397)"/><ellipse cx="366" cy="222" rx="1.0" ry="0.5" transform="rotate(65 366 222)"/><ellipse cx="439" cy="254" rx="1.7" ry="1.0" transform="rotate(143 439 254)"/><ellipse cx="649" cy="584" rx="2.9" ry="2.0" transform="rotate(51 649 584)"/><ellipse cx="681" cy="675" rx="0.5" ry="0.3" transform="rotate(142 681 675)"/><ellipse cx="101" cy="57" rx="0.6" ry="0.3" transform="rotate(26 101 57)"/><ellipse cx="895" cy="453" rx="2.9" ry="1.6" transform="rotate(138 895 453)"/><ellipse cx="473" cy="236" rx="0.8" ry="0.4" transform="rotate(130 473 236)"/><ellipse cx="850" cy="639" rx="0.9" ry="0.6" transform="rotate(145 850 639)"/><ellipse cx="1001" cy="620" rx="0.8" ry="0.5" transform="rotate(144 1001 620)"/><ellipse cx="506" cy="293" rx="1.1" ry="0.5" transform="rotate(30 506 293)"/><ellipse cx="245" cy="297" rx="0.5" ry="0.3" transform="rotate(21 245 297)"/><ellipse cx="778" cy="542" rx="2.3" ry="1.3" transform="rotate(164 778 542)"/><ellipse cx="44" cy="76" rx="1.8" ry="1.1" transform="rotate(107 44 76)"/><ellipse cx="269" cy="129" rx="2.9" ry="1.4" transform="rotate(99 269 129)"/><ellipse cx="981" cy="335" rx="1.0" ry="0.5" transform="rotate(99 981 335)"/><ellipse cx="1148" cy="337" rx="3.3" ry="2.2" transform="rotate(69 1148 337)"/><ellipse cx="633" cy="360" rx="0.9" ry="0.4" transform="rotate(2 633 360)"/><ellipse cx="567" cy="259" rx="0.9" ry="0.4" transform="rotate(28 567 259)"/><ellipse cx="386" cy="181" rx="0.9" ry="0.7" transform="rotate(48 386 181)"/><ellipse cx="641" cy="105" rx="3.0" ry="2.1" transform="rotate(148 641 105)"/><ellipse cx="99" cy="188" rx="2.3" ry="1.2" transform="rotate(172 99 188)"/><ellipse cx="704" cy="598" rx="0.8" ry="0.5" transform="rotate(16 704 598)"/><ellipse cx="992" cy="145" rx="0.6" ry="0.4" transform="rotate(56 992 145)"/><ellipse cx="373" cy="53" rx="0.9" ry="0.5" transform="rotate(124 373 53)"/><ellipse cx="127" cy="275" rx="1.0" ry="0.6" transform="rotate(2 127 275)"/><ellipse cx="453" cy="496" rx="0.8" ry="0.3" transform="rotate(178 453 496)"/><ellipse cx="959" cy="144" rx="2.1" ry="1.2" transform="rotate(54 959 144)"/><ellipse cx="405" cy="274" rx="1.7" ry="1.1" transform="rotate(59 405 274)"/><ellipse cx="1134" cy="393" rx="3.0" ry="1.2" transform="rotate(25 1134 393)"/><ellipse cx="113" cy="473" rx="2.1" ry="1.5" transform="rotate(107 113 473)"/><ellipse cx="108" cy="158" rx="2.2" ry="0.8" transform="rotate(166 108 158)"/><ellipse cx="512" cy="357" rx="1.0" ry="0.5" transform="rotate(60 512 357)"/><ellipse cx="495" cy="11" rx="1.1" ry="0.7" transform="rotate(119 495 11)"/><ellipse cx="730" cy="13" rx="2.7" ry="1.0" transform="rotate(68 730 13)"/><ellipse cx="611" cy="550" rx="0.6" ry="0.4" transform="rotate(163 611 550)"/><ellipse cx="658" cy="246" rx="2.8" ry="2.1" transform="rotate(93 658 246)"/><ellipse cx="858" cy="583" rx="0.9" ry="0.4" transform="rotate(15 858 583)"/><ellipse cx="294" cy="402" rx="3.3" ry="1.6" transform="rotate(83 294 402)"/><ellipse cx="149" cy="680" rx="0.8" ry="0.5" transform="rotate(101 149 680)"/><ellipse cx="317" cy="635" rx="0.9" ry="0.3" transform="rotate(148 317 635)"/><ellipse cx="346" cy="626" rx="1.0" ry="0.4" transform="rotate(99 346 626)"/><ellipse cx="92" cy="22" rx="1.1" ry="0.7" transform="rotate(55 92 22)"/><ellipse cx="805" cy="515" rx="1.0" ry="0.4" transform="rotate(36 805 515)"/><ellipse cx="562" cy="100" rx="0.6" ry="0.3" transform="rotate(47 562 100)"/><ellipse cx="682" cy="232" rx="2.7" ry="1.1" transform="rotate(173 682 232)"/><ellipse cx="720" cy="328" rx="0.9" ry="0.6" transform="rotate(135 720 328)"/><ellipse cx="583" cy="694" rx="0.7" ry="0.4" transform="rotate(102 583 694)"/><ellipse cx="1086" cy="367" rx="1.0" ry="0.5" transform="rotate(10 1086 367)"/><ellipse cx="871" cy="628" rx="1.0" ry="0.4" transform="rotate(107 871 628)"/><ellipse cx="84" cy="87" rx="0.7" ry="0.3" transform="rotate(125 84 87)"/><ellipse cx="631" cy="167" rx="1.8" ry="0.7" transform="rotate(164 631 167)"/><ellipse cx="1160" cy="465" rx="1.0" ry="0.4" transform="rotate(134 1160 465)"/><ellipse cx="680" cy="631" rx="0.6" ry="0.3" transform="rotate(171 680 631)"/><ellipse cx="390" cy="44" rx="0.7" ry="0.4" transform="rotate(105 390 44)"/><ellipse cx="369" cy="348" rx="0.8" ry="0.3" transform="rotate(53 369 348)"/><ellipse cx="1107" cy="626" rx="0.7" ry="0.4" transform="rotate(31 1107 626)"/><ellipse cx="1056" cy="695" rx="0.6" ry="0.4" transform="rotate(9 1056 695)"/><ellipse cx="127" cy="507" rx="1.0" ry="0.6" transform="rotate(24 127 507)"/><ellipse cx="835" cy="655" rx="1.8" ry="0.8" transform="rotate(128 835 655)"/><ellipse cx="236" cy="126" rx="1.0" ry="0.5" transform="rotate(119 236 126)"/><ellipse cx="1061" cy="412" rx="3.2" ry="2.0" transform="rotate(50 1061 412)"/><ellipse cx="768" cy="63" rx="0.8" ry="0.5" transform="rotate(8 768 63)"/><ellipse cx="720" cy="199" rx="0.6" ry="0.3" transform="rotate(136 720 199)"/><ellipse cx="295" cy="195" rx="3.2" ry="2.4" transform="rotate(6 295 195)"/><ellipse cx="554" cy="524" rx="0.8" ry="0.3" transform="rotate(100 554 524)"/><ellipse cx="774" cy="251" rx="0.8" ry="0.4" transform="rotate(152 774 251)"/><ellipse cx="821" cy="363" rx="2.9" ry="1.2" transform="rotate(109 821 363)"/><ellipse cx="282" cy="307" rx="1.0" ry="0.4" transform="rotate(88 282 307)"/><ellipse cx="265" cy="405" rx="2.6" ry="1.6" transform="rotate(103 265 405)"/><ellipse cx="1047" cy="126" rx="2.3" ry="1.2" transform="rotate(80 1047 126)"/><ellipse cx="316" cy="557" rx="0.8" ry="0.5" transform="rotate(142 316 557)"/><ellipse cx="286" cy="102" rx="2.0" ry="1.2" transform="rotate(95 286 102)"/><ellipse cx="318" cy="411" rx="0.6" ry="0.3" transform="rotate(29 318 411)"/><ellipse cx="829" cy="580" rx="2.2" ry="1.1" transform="rotate(39 829 580)"/><ellipse cx="1165" cy="29" rx="1.1" ry="0.4" transform="rotate(82 1165 29)"/><ellipse cx="894" cy="27" rx="0.6" ry="0.3" transform="rotate(54 894 27)"/><ellipse cx="509" cy="53" rx="1.0" ry="0.6" transform="rotate(41 509 53)"/><ellipse cx="304" cy="385" rx="1.1" ry="0.5" transform="rotate(61 304 385)"/><ellipse cx="1177" cy="426" rx="0.9" ry="0.3" transform="rotate(62 1177 426)"/><ellipse cx="834" cy="603" rx="0.8" ry="0.4" transform="rotate(152 834 603)"/><ellipse cx="457" cy="545" rx="1.7" ry="1.0" transform="rotate(29 457 545)"/><ellipse cx="244" cy="150" rx="2.2" ry="1.7" transform="rotate(122 244 150)"/><ellipse cx="1035" cy="143" rx="2.8" ry="1.4" transform="rotate(49 1035 143)"/><ellipse cx="22" cy="127" rx="3.2" ry="2.1" transform="rotate(48 22 127)"/><ellipse cx="433" cy="107" rx="2.9" ry="1.9" transform="rotate(163 433 107)"/><ellipse cx="100" cy="616" rx="0.8" ry="0.3" transform="rotate(71 100 616)"/><ellipse cx="286" cy="28" rx="0.5" ry="0.2" transform="rotate(76 286 28)"/><ellipse cx="653" cy="95" rx="2.8" ry="1.7" transform="rotate(26 653 95)"/><ellipse cx="246" cy="196" rx="0.7" ry="0.5" transform="rotate(41 246 196)"/><ellipse cx="350" cy="241" rx="1.4" ry="0.8" transform="rotate(102 350 241)"/><ellipse cx="971" cy="681" rx="1.1" ry="0.5" transform="rotate(124 971 681)"/><ellipse cx="800" cy="667" rx="2.6" ry="1.0" transform="rotate(77 800 667)"/><ellipse cx="471" cy="42" rx="2.3" ry="1.1" transform="rotate(29 471 42)"/><ellipse cx="483" cy="332" rx="0.6" ry="0.2" transform="rotate(62 483 332)"/><ellipse cx="507" cy="105" rx="0.8" ry="0.5" transform="rotate(4 507 105)"/><ellipse cx="470" cy="254" rx="0.5" ry="0.3" transform="rotate(105 470 254)"/><ellipse cx="563" cy="227" rx="2.0" ry="1.4" transform="rotate(102 563 227)"/><ellipse cx="314" cy="466" rx="0.9" ry="0.6" transform="rotate(65 314 466)"/><ellipse cx="691" cy="658" rx="0.9" ry="0.4" transform="rotate(75 691 658)"/><ellipse cx="331" cy="579" rx="3.2" ry="1.2" transform="rotate(24 331 579)"/><ellipse cx="608" cy="215" rx="0.6" ry="0.3" transform="rotate(41 608 215)"/><ellipse cx="816" cy="164" rx="0.7" ry="0.3" transform="rotate(89 816 164)"/><ellipse cx="780" cy="383" rx="1.0" ry="0.7" transform="rotate(60 780 383)"/><ellipse cx="416" cy="619" rx="0.9" ry="0.6" transform="rotate(174 416 619)"/><ellipse cx="989" cy="111" rx="0.8" ry="0.4" transform="rotate(51 989 111)"/><ellipse cx="899" cy="373" rx="2.0" ry="0.8" transform="rotate(92 899 373)"/><ellipse cx="151" cy="44" rx="2.8" ry="1.1" transform="rotate(81 151 44)"/><ellipse cx="927" cy="336" rx="1.0" ry="0.4" transform="rotate(46 927 336)"/><ellipse cx="609" cy="556" rx="0.7" ry="0.4" transform="rotate(59 609 556)"/><ellipse cx="401" cy="530" rx="0.8" ry="0.4" transform="rotate(127 401 530)"/><ellipse cx="748" cy="580" rx="2.1" ry="1.3" transform="rotate(42 748 580)"/><ellipse cx="222" cy="10" rx="1.1" ry="0.4" transform="rotate(124 222 10)"/><ellipse cx="503" cy="441" rx="1.1" ry="0.4" transform="rotate(128 503 441)"/><ellipse cx="142" cy="30" rx="1.1" ry="0.4" transform="rotate(59 142 30)"/><ellipse cx="448" cy="216" rx="0.7" ry="0.3" transform="rotate(111 448 216)"/><ellipse cx="918" cy="685" rx="0.8" ry="0.6" transform="rotate(26 918 685)"/><ellipse cx="210" cy="75" rx="2.3" ry="0.9" transform="rotate(58 210 75)"/><ellipse cx="23" cy="395" rx="0.7" ry="0.3" transform="rotate(87 23 395)"/><ellipse cx="439" cy="181" rx="3.2" ry="1.5" transform="rotate(14 439 181)"/><ellipse cx="219" cy="337" rx="3.1" ry="1.7" transform="rotate(75 219 337)"/><ellipse cx="968" cy="276" rx="0.9" ry="0.5" transform="rotate(50 968 276)"/><ellipse cx="1127" cy="603" rx="1.0" ry="0.6" transform="rotate(32 1127 603)"/><ellipse cx="32" cy="118" rx="2.1" ry="1.3" transform="rotate(56 32 118)"/><ellipse cx="617" cy="7" rx="0.5" ry="0.3" transform="rotate(146 617 7)"/><ellipse cx="951" cy="513" rx="1.0" ry="0.7" transform="rotate(177 951 513)"/><ellipse cx="121" cy="663" rx="0.7" ry="0.5" transform="rotate(4 121 663)"/><ellipse cx="692" cy="159" rx="2.7" ry="1.8" transform="rotate(66 692 159)"/><ellipse cx="766" cy="247" rx="0.7" ry="0.3" transform="rotate(60 766 247)"/><ellipse cx="890" cy="148" rx="0.9" ry="0.4" transform="rotate(19 890 148)"/><ellipse cx="172" cy="245" rx="2.4" ry="1.2" transform="rotate(58 172 245)"/><ellipse cx="645" cy="665" rx="0.7" ry="0.5" transform="rotate(20 645 665)"/><ellipse cx="1185" cy="300" rx="2.2" ry="1.4" transform="rotate(32 1185 300)"/><ellipse cx="328" cy="473" rx="1.7" ry="0.8" transform="rotate(178 328 473)"/><ellipse cx="178" cy="443" rx="0.6" ry="0.4" transform="rotate(160 178 443)"/><ellipse cx="1028" cy="439" rx="0.6" ry="0.4" transform="rotate(124 1028 439)"/><ellipse cx="544" cy="464" rx="1.8" ry="1.1" transform="rotate(103 544 464)"/><ellipse cx="618" cy="22" rx="0.9" ry="0.5" transform="rotate(168 618 22)"/><ellipse cx="182" cy="327" rx="0.7" ry="0.4" transform="rotate(178 182 327)"/><ellipse cx="483" cy="605" rx="0.8" ry="0.4" transform="rotate(151 483 605)"/><ellipse cx="779" cy="655" rx="0.8" ry="0.6" transform="rotate(12 779 655)"/><ellipse cx="1044" cy="497" rx="0.8" ry="0.4" transform="rotate(156 1044 497)"/><ellipse cx="235" cy="195" rx="2.5" ry="1.6" transform="rotate(88 235 195)"/><ellipse cx="290" cy="558" rx="0.8" ry="0.6" transform="rotate(143 290 558)"/><ellipse cx="182" cy="255" rx="2.0" ry="1.4" transform="rotate(150 182 255)"/><ellipse cx="141" cy="127" rx="0.9" ry="0.6" transform="rotate(13 141 127)"/><ellipse cx="1185" cy="144" rx="0.9" ry="0.4" transform="rotate(120 1185 144)"/><ellipse cx="517" cy="11" rx="2.6" ry="1.2" transform="rotate(109 517 11)"/><ellipse cx="834" cy="126" rx="0.8" ry="0.3" transform="rotate(21 834 126)"/><ellipse cx="1129" cy="426" rx="3.4" ry="2.1" transform="rotate(133 1129 426)"/><ellipse cx="432" cy="217" rx="2.6" ry="1.4" transform="rotate(148 432 217)"/><ellipse cx="491" cy="319" rx="0.7" ry="0.4" transform="rotate(42 491 319)"/><ellipse cx="695" cy="199" rx="3.1" ry="1.9" transform="rotate(82 695 199)"/><ellipse cx="1120" cy="271" rx="0.8" ry="0.3" transform="rotate(75 1120 271)"/><ellipse cx="338" cy="308" rx="2.8" ry="1.7" transform="rotate(44 338 308)"/><ellipse cx="494" cy="92" rx="2.2" ry="1.1" transform="rotate(148 494 92)"/><ellipse cx="1020" cy="412" rx="3.2" ry="1.2" transform="rotate(65 1020 412)"/><ellipse cx="449" cy="505" rx="3.2" ry="2.3" transform="rotate(4 449 505)"/><ellipse cx="760" cy="327" rx="0.7" ry="0.4" transform="rotate(109 760 327)"/><ellipse cx="1164" cy="682" rx="3.0" ry="1.9" transform="rotate(126 1164 682)"/><ellipse cx="482" cy="458" rx="0.6" ry="0.3" transform="rotate(26 482 458)"/><ellipse cx="474" cy="518" rx="2.7" ry="1.6" transform="rotate(134 474 518)"/><ellipse cx="304" cy="566" rx="0.6" ry="0.3" transform="rotate(3 304 566)"/><ellipse cx="1032" cy="659" rx="2.0" ry="1.1" transform="rotate(96 1032 659)"/><ellipse cx="133" cy="551" rx="0.6" ry="0.3" transform="rotate(23 133 551)"/><ellipse cx="106" cy="358" rx="0.6" ry="0.3" transform="rotate(10 106 358)"/><ellipse cx="261" cy="315" rx="1.0" ry="0.4" transform="rotate(153 261 315)"/><ellipse cx="186" cy="677" rx="0.9" ry="0.6" transform="rotate(173 186 677)"/><ellipse cx="496" cy="7" rx="0.9" ry="0.6" transform="rotate(28 496 7)"/><ellipse cx="637" cy="20" rx="3.3" ry="2.0" transform="rotate(153 637 20)"/><ellipse cx="55" cy="290" rx="1.5" ry="1.1" transform="rotate(59 55 290)"/><ellipse cx="587" cy="457" rx="0.8" ry="0.5" transform="rotate(163 587 457)"/><ellipse cx="473" cy="209" rx="2.1" ry="1.1" transform="rotate(86 473 209)"/><ellipse cx="430" cy="300" rx="3.1" ry="1.1" transform="rotate(95 430 300)"/><ellipse cx="657" cy="279" rx="2.1" ry="1.0" transform="rotate(87 657 279)"/><ellipse cx="276" cy="523" rx="2.2" ry="1.6" transform="rotate(1 276 523)"/><ellipse cx="712" cy="671" rx="0.7" ry="0.3" transform="rotate(110 712 671)"/><ellipse cx="707" cy="220" rx="1.0" ry="0.4" transform="rotate(17 707 220)"/><ellipse cx="302" cy="189" rx="1.0" ry="0.5" transform="rotate(51 302 189)"/><ellipse cx="816" cy="60" rx="0.7" ry="0.3" transform="rotate(147 816 60)"/><ellipse cx="946" cy="448" rx="0.5" ry="0.3" transform="rotate(99 946 448)"/><ellipse cx="1113" cy="446" rx="1.0" ry="0.6" transform="rotate(1 1113 446)"/><ellipse cx="884" cy="292" rx="1.1" ry="0.4" transform="rotate(141 884 292)"/><ellipse cx="529" cy="525" rx="0.8" ry="0.3" transform="rotate(58 529 525)"/><ellipse cx="882" cy="50" rx="0.9" ry="0.5" transform="rotate(20 882 50)"/><ellipse cx="142" cy="216" rx="1.1" ry="0.5" transform="rotate(75 142 216)"/><ellipse cx="644" cy="586" rx="0.8" ry="0.3" transform="rotate(78 644 586)"/><ellipse cx="453" cy="471" rx="0.9" ry="0.5" transform="rotate(140 453 471)"/><ellipse cx="126" cy="518" rx="0.6" ry="0.3" transform="rotate(29 126 518)"/><ellipse cx="420" cy="413" rx="2.5" ry="1.7" transform="rotate(64 420 413)"/><ellipse cx="701" cy="335" rx="2.8" ry="1.2" transform="rotate(47 701 335)"/><ellipse cx="876" cy="401" rx="3.0" ry="1.5" transform="rotate(129 876 401)"/><ellipse cx="519" cy="431" rx="1.0" ry="0.6" transform="rotate(88 519 431)"/><ellipse cx="278" cy="526" rx="3.1" ry="1.1" transform="rotate(126 278 526)"/><ellipse cx="682" cy="385" rx="3.3" ry="2.2" transform="rotate(145 682 385)"/><ellipse cx="117" cy="547" rx="2.4" ry="1.4" transform="rotate(22 117 547)"/><ellipse cx="918" cy="407" rx="0.9" ry="0.5" transform="rotate(171 918 407)"/><ellipse cx="862" cy="203" rx="0.7" ry="0.3" transform="rotate(4 862 203)"/><ellipse cx="645" cy="177" rx="1.6" ry="0.9" transform="rotate(49 645 177)"/><ellipse cx="342" cy="194" rx="0.6" ry="0.4" transform="rotate(154 342 194)"/><ellipse cx="731" cy="380" rx="0.9" ry="0.6" transform="rotate(140 731 380)"/><ellipse cx="312" cy="38" rx="3.0" ry="1.3" transform="rotate(82 312 38)"/><ellipse cx="445" cy="509" rx="0.8" ry="0.4" transform="rotate(42 445 509)"/><ellipse cx="1140" cy="77" rx="0.5" ry="0.4" transform="rotate(18 1140 77)"/><ellipse cx="679" cy="84" rx="3.1" ry="1.2" transform="rotate(120 679 84)"/><ellipse cx="1179" cy="478" rx="0.8" ry="0.3" transform="rotate(95 1179 478)"/><ellipse cx="221" cy="368" rx="0.6" ry="0.4" transform="rotate(75 221 368)"/><ellipse cx="583" cy="55" rx="1.1" ry="0.6" transform="rotate(24 583 55)"/><ellipse cx="360" cy="234" rx="1.1" ry="0.8" transform="rotate(167 360 234)"/><ellipse cx="1030" cy="653" rx="0.9" ry="0.5" transform="rotate(110 1030 653)"/><ellipse cx="736" cy="651" rx="1.1" ry="0.4" transform="rotate(20 736 651)"/><ellipse cx="1043" cy="668" rx="3.0" ry="1.9" transform="rotate(94 1043 668)"/><ellipse cx="696" cy="529" rx="1.4" ry="1.0" transform="rotate(176 696 529)"/><ellipse cx="1000" cy="285" rx="1.3" ry="0.9" transform="rotate(47 1000 285)"/><ellipse cx="703" cy="367" rx="0.8" ry="0.3" transform="rotate(159 703 367)"/><ellipse cx="211" cy="105" rx="1.0" ry="0.5" transform="rotate(43 211 105)"/><ellipse cx="785" cy="182" rx="3.1" ry="1.3" transform="rotate(42 785 182)"/><ellipse cx="362" cy="230" rx="1.0" ry="0.6" transform="rotate(14 362 230)"/><ellipse cx="916" cy="171" rx="1.1" ry="0.5" transform="rotate(64 916 171)"/><ellipse cx="1093" cy="691" rx="3.0" ry="2.0" transform="rotate(61 1093 691)"/><ellipse cx="949" cy="265" rx="0.9" ry="0.5" transform="rotate(147 949 265)"/><ellipse cx="78" cy="638" rx="3.1" ry="2.3" transform="rotate(168 78 638)"/><ellipse cx="410" cy="650" rx="1.1" ry="0.5" transform="rotate(24 410 650)"/><ellipse cx="814" cy="616" rx="0.8" ry="0.4" transform="rotate(22 814 616)"/><ellipse cx="328" cy="655" rx="2.0" ry="0.8" transform="rotate(55 328 655)"/><ellipse cx="219" cy="86" rx="0.8" ry="0.6" transform="rotate(95 219 86)"/><ellipse cx="1137" cy="57" rx="1.9" ry="1.3" transform="rotate(166 1137 57)"/><ellipse cx="605" cy="112" rx="0.7" ry="0.5" transform="rotate(175 605 112)"/><ellipse cx="552" cy="421" rx="0.6" ry="0.4" transform="rotate(176 552 421)"/><ellipse cx="62" cy="114" rx="0.6" ry="0.2" transform="rotate(40 62 114)"/><ellipse cx="959" cy="348" rx="0.6" ry="0.2" transform="rotate(55 959 348)"/><ellipse cx="50" cy="182" rx="2.3" ry="1.4" transform="rotate(57 50 182)"/><ellipse cx="428" cy="617" rx="0.8" ry="0.4" transform="rotate(60 428 617)"/><ellipse cx="1096" cy="163" rx="1.0" ry="0.4" transform="rotate(92 1096 163)"/><ellipse cx="1181" cy="201" rx="0.6" ry="0.4" transform="rotate(28 1181 201)"/><ellipse cx="1137" cy="198" rx="0.7" ry="0.4" transform="rotate(90 1137 198)"/><ellipse cx="1107" cy="359" rx="2.3" ry="1.1" transform="rotate(103 1107 359)"/><ellipse cx="758" cy="323" rx="0.8" ry="0.5" transform="rotate(175 758 323)"/><ellipse cx="336" cy="309" rx="0.6" ry="0.4" transform="rotate(144 336 309)"/><ellipse cx="306" cy="630" rx="0.8" ry="0.6" transform="rotate(88 306 630)"/><ellipse cx="579" cy="203" rx="0.7" ry="0.3" transform="rotate(39 579 203)"/><ellipse cx="1001" cy="561" rx="0.9" ry="0.6" transform="rotate(128 1001 561)"/><ellipse cx="972" cy="559" rx="0.7" ry="0.3" transform="rotate(166 972 559)"/><ellipse cx="27" cy="357" rx="0.9" ry="0.6" transform="rotate(168 27 357)"/><ellipse cx="773" cy="45" rx="3.4" ry="2.3" transform="rotate(56 773 45)"/><ellipse cx="223" cy="485" rx="0.9" ry="0.3" transform="rotate(131 223 485)"/><ellipse cx="70" cy="606" rx="1.0" ry="0.6" transform="rotate(170 70 606)"/><ellipse cx="767" cy="343" rx="1.3" ry="0.6" transform="rotate(143 767 343)"/><ellipse cx="274" cy="456" rx="0.8" ry="0.4" transform="rotate(49 274 456)"/><ellipse cx="225" cy="452" rx="0.7" ry="0.5" transform="rotate(164 225 452)"/><ellipse cx="349" cy="665" rx="1.0" ry="0.5" transform="rotate(50 349 665)"/><ellipse cx="627" cy="341" rx="0.8" ry="0.4" transform="rotate(134 627 341)"/><ellipse cx="300" cy="139" rx="2.0" ry="0.8" transform="rotate(9 300 139)"/><ellipse cx="426" cy="368" rx="0.7" ry="0.4" transform="rotate(42 426 368)"/><ellipse cx="569" cy="669" rx="0.9" ry="0.6" transform="rotate(100 569 669)"/><ellipse cx="769" cy="655" rx="2.4" ry="1.8" transform="rotate(95 769 655)"/><ellipse cx="227" cy="535" rx="2.5" ry="1.1" transform="rotate(130 227 535)"/><ellipse cx="872" cy="223" rx="0.9" ry="0.5" transform="rotate(78 872 223)"/><ellipse cx="128" cy="331" rx="0.5" ry="0.2" transform="rotate(48 128 331)"/><ellipse cx="833" cy="305" rx="0.8" ry="0.5" transform="rotate(73 833 305)"/><ellipse cx="780" cy="476" rx="2.8" ry="1.1" transform="rotate(10 780 476)"/><ellipse cx="568" cy="12" rx="2.3" ry="0.9" transform="rotate(172 568 12)"/><ellipse cx="1023" cy="340" rx="3.4" ry="1.3" transform="rotate(55 1023 340)"/><ellipse cx="265" cy="604" rx="0.7" ry="0.5" transform="rotate(46 265 604)"/><ellipse cx="950" cy="494" rx="2.2" ry="1.2" transform="rotate(57 950 494)"/><ellipse cx="749" cy="287" rx="0.8" ry="0.4" transform="rotate(158 749 287)"/><ellipse cx="546" cy="262" rx="1.0" ry="0.5" transform="rotate(121 546 262)"/><ellipse cx="889" cy="207" rx="0.9" ry="0.6" transform="rotate(78 889 207)"/><ellipse cx="784" cy="158" rx="1.1" ry="0.5" transform="rotate(128 784 158)"/><ellipse cx="311" cy="428" rx="3.4" ry="1.5" transform="rotate(164 311 428)"/><ellipse cx="72" cy="407" rx="0.7" ry="0.4" transform="rotate(128 72 407)"/><ellipse cx="914" cy="521" rx="2.8" ry="1.6" transform="rotate(98 914 521)"/><ellipse cx="1184" cy="95" rx="2.8" ry="2.1" transform="rotate(49 1184 95)"/><ellipse cx="681" cy="369" rx="2.6" ry="1.8" transform="rotate(119 681 369)"/><ellipse cx="347" cy="563" rx="2.6" ry="1.4" transform="rotate(95 347 563)"/><ellipse cx="423" cy="530" rx="2.8" ry="1.7" transform="rotate(149 423 530)"/><ellipse cx="456" cy="191" rx="0.5" ry="0.3" transform="rotate(118 456 191)"/><ellipse cx="178" cy="217" rx="0.6" ry="0.3" transform="rotate(21 178 217)"/><ellipse cx="103" cy="554" rx="2.3" ry="1.5" transform="rotate(5 103 554)"/><ellipse cx="983" cy="600" rx="0.9" ry="0.4" transform="rotate(158 983 600)"/><ellipse cx="262" cy="331" rx="1.0" ry="0.6" transform="rotate(110 262 331)"/><ellipse cx="1184" cy="156" rx="0.6" ry="0.4" transform="rotate(61 1184 156)"/><ellipse cx="528" cy="301" rx="0.9" ry="0.4" transform="rotate(64 528 301)"/><ellipse cx="848" cy="151" rx="0.6" ry="0.3" transform="rotate(41 848 151)"/><ellipse cx="862" cy="33" rx="3.1" ry="1.7" transform="rotate(105 862 33)"/><ellipse cx="114" cy="31" rx="0.9" ry="0.6" transform="rotate(11 114 31)"/><ellipse cx="122" cy="15" rx="1.9" ry="1.2" transform="rotate(125 122 15)"/><ellipse cx="387" cy="326" rx="0.7" ry="0.4" transform="rotate(45 387 326)"/><ellipse cx="351" cy="182" rx="2.5" ry="1.2" transform="rotate(20 351 182)"/><ellipse cx="1015" cy="327" rx="3.2" ry="2.1" transform="rotate(112 1015 327)"/><ellipse cx="791" cy="483" rx="0.7" ry="0.4" transform="rotate(84 791 483)"/><ellipse cx="635" cy="372" rx="0.6" ry="0.2" transform="rotate(54 635 372)"/><ellipse cx="343" cy="133" rx="0.9" ry="0.6" transform="rotate(134 343 133)"/><ellipse cx="546" cy="277" rx="1.1" ry="0.8" transform="rotate(150 546 277)"/><ellipse cx="89" cy="172" rx="0.8" ry="0.4" transform="rotate(155 89 172)"/><ellipse cx="620" cy="691" rx="0.5" ry="0.2" transform="rotate(70 620 691)"/><ellipse cx="767" cy="77" rx="0.8" ry="0.5" transform="rotate(107 767 77)"/><ellipse cx="699" cy="121" rx="0.9" ry="0.4" transform="rotate(80 699 121)"/><ellipse cx="652" cy="235" rx="0.5" ry="0.2" transform="rotate(118 652 235)"/><ellipse cx="257" cy="51" rx="3.3" ry="1.9" transform="rotate(18 257 51)"/><ellipse cx="764" cy="183" rx="1.0" ry="0.4" transform="rotate(6 764 183)"/><ellipse cx="957" cy="98" rx="1.6" ry="0.9" transform="rotate(172 957 98)"/><ellipse cx="386" cy="181" rx="2.6" ry="1.6" transform="rotate(168 386 181)"/><ellipse cx="52" cy="393" rx="0.7" ry="0.4" transform="rotate(33 52 393)"/><ellipse cx="594" cy="676" rx="3.2" ry="2.0" transform="rotate(12 594 676)"/><ellipse cx="224" cy="166" rx="0.9" ry="0.7" transform="rotate(121 224 166)"/><ellipse cx="753" cy="267" rx="0.5" ry="0.3" transform="rotate(69 753 267)"/><ellipse cx="637" cy="34" rx="0.7" ry="0.3" transform="rotate(27 637 34)"/><ellipse cx="711" cy="638" rx="0.8" ry="0.5" transform="rotate(102 711 638)"/><ellipse cx="287" cy="132" rx="3.1" ry="1.1" transform="rotate(34 287 132)"/><ellipse cx="561" cy="589" rx="1.0" ry="0.6" transform="rotate(9 561 589)"/><ellipse cx="990" cy="103" rx="1.4" ry="1.0" transform="rotate(69 990 103)"/><ellipse cx="104" cy="33" rx="1.0" ry="0.4" transform="rotate(20 104 33)"/><ellipse cx="344" cy="133" rx="2.6" ry="1.1" transform="rotate(30 344 133)"/><ellipse cx="643" cy="262" rx="0.8" ry="0.4" transform="rotate(85 643 262)"/><ellipse cx="48" cy="429" rx="1.3" ry="0.9" transform="rotate(106 48 429)"/><ellipse cx="471" cy="378" rx="2.1" ry="1.3" transform="rotate(67 471 378)"/><ellipse cx="848" cy="634" rx="1.9" ry="1.2" transform="rotate(141 848 634)"/><ellipse cx="839" cy="645" rx="3.1" ry="2.0" transform="rotate(20 839 645)"/><ellipse cx="1176" cy="517" rx="2.6" ry="1.9" transform="rotate(162 1176 517)"/><ellipse cx="693" cy="621" rx="0.9" ry="0.7" transform="rotate(26 693 621)"/><ellipse cx="484" cy="394" rx="0.5" ry="0.3" transform="rotate(50 484 394)"/><ellipse cx="387" cy="424" rx="1.0" ry="0.8" transform="rotate(47 387 424)"/><ellipse cx="439" cy="484" rx="0.6" ry="0.4" transform="rotate(61 439 484)"/><ellipse cx="394" cy="192" rx="0.5" ry="0.3" transform="rotate(42 394 192)"/><ellipse cx="578" cy="504" rx="0.8" ry="0.4" transform="rotate(72 578 504)"/><ellipse cx="375" cy="518" rx="0.6" ry="0.4" transform="rotate(174 375 518)"/><ellipse cx="244" cy="430" rx="2.2" ry="0.9" transform="rotate(132 244 430)"/><ellipse cx="687" cy="471" rx="1.5" ry="0.5" transform="rotate(83 687 471)"/><ellipse cx="989" cy="477" rx="0.7" ry="0.3" transform="rotate(115 989 477)"/><ellipse cx="31" cy="160" rx="1.4" ry="0.8" transform="rotate(23 31 160)"/><ellipse cx="724" cy="575" rx="2.7" ry="1.7" transform="rotate(159 724 575)"/><ellipse cx="665" cy="406" rx="1.1" ry="0.5" transform="rotate(139 665 406)"/><ellipse cx="759" cy="327" rx="0.7" ry="0.4" transform="rotate(92 759 327)"/><ellipse cx="612" cy="41" rx="0.9" ry="0.7" transform="rotate(143 612 41)"/><ellipse cx="348" cy="318" rx="0.7" ry="0.5" transform="rotate(87 348 318)"/><ellipse cx="478" cy="335" rx="0.5" ry="0.3" transform="rotate(14 478 335)"/><ellipse cx="813" cy="105" rx="0.9" ry="0.6" transform="rotate(80 813 105)"/><ellipse cx="354" cy="257" rx="1.3" ry="0.9" transform="rotate(87 354 257)"/><ellipse cx="159" cy="95" rx="0.5" ry="0.3" transform="rotate(38 159 95)"/><ellipse cx="535" cy="422" rx="0.7" ry="0.3" transform="rotate(140 535 422)"/><ellipse cx="131" cy="26" rx="1.0" ry="0.7" transform="rotate(37 131 26)"/><ellipse cx="54" cy="421" rx="3.2" ry="1.4" transform="rotate(116 54 421)"/><ellipse cx="88" cy="645" rx="0.7" ry="0.4" transform="rotate(163 88 645)"/><ellipse cx="954" cy="28" rx="2.4" ry="1.8" transform="rotate(156 954 28)"/><ellipse cx="299" cy="385" rx="2.9" ry="1.9" transform="rotate(61 299 385)"/><ellipse cx="504" cy="486" rx="0.6" ry="0.2" transform="rotate(31 504 486)"/><ellipse cx="992" cy="346" rx="2.1" ry="0.9" transform="rotate(175 992 346)"/><ellipse cx="727" cy="90" rx="0.9" ry="0.6" transform="rotate(110 727 90)"/><ellipse cx="1052" cy="677" rx="0.7" ry="0.4" transform="rotate(66 1052 677)"/><ellipse cx="777" cy="246" rx="1.0" ry="0.6" transform="rotate(152 777 246)"/><ellipse cx="463" cy="449" rx="1.5" ry="1.0" transform="rotate(166 463 449)"/><ellipse cx="363" cy="264" rx="2.6" ry="1.9" transform="rotate(15 363 264)"/><ellipse cx="306" cy="530" rx="0.7" ry="0.4" transform="rotate(36 306 530)"/><ellipse cx="349" cy="296" rx="0.5" ry="0.3" transform="rotate(144 349 296)"/><ellipse cx="391" cy="134" rx="3.0" ry="1.8" transform="rotate(3 391 134)"/><ellipse cx="544" cy="418" rx="2.2" ry="1.1" transform="rotate(175 544 418)"/><ellipse cx="432" cy="644" rx="0.6" ry="0.4" transform="rotate(16 432 644)"/><ellipse cx="669" cy="68" rx="0.6" ry="0.4" transform="rotate(104 669 68)"/><ellipse cx="1077" cy="668" rx="0.8" ry="0.5" transform="rotate(120 1077 668)"/><ellipse cx="190" cy="370" rx="0.9" ry="0.6" transform="rotate(103 190 370)"/><ellipse cx="947" cy="576" rx="1.4" ry="0.6" transform="rotate(173 947 576)"/><ellipse cx="371" cy="306" rx="0.7" ry="0.4" transform="rotate(60 371 306)"/><ellipse cx="1015" cy="561" rx="0.6" ry="0.4" transform="rotate(12 1015 561)"/><ellipse cx="321" cy="537" rx="0.7" ry="0.4" transform="rotate(37 321 537)"/><ellipse cx="555" cy="180" rx="1.6" ry="0.7" transform="rotate(96 555 180)"/><ellipse cx="698" cy="2" rx="0.7" ry="0.3" transform="rotate(149 698 2)"/><ellipse cx="1172" cy="124" rx="1.1" ry="0.5" transform="rotate(22 1172 124)"/><ellipse cx="197" cy="161" rx="0.8" ry="0.3" transform="rotate(63 197 161)"/><ellipse cx="289" cy="453" rx="0.8" ry="0.4" transform="rotate(84 289 453)"/><ellipse cx="444" cy="318" rx="0.7" ry="0.4" transform="rotate(26 444 318)"/><ellipse cx="54" cy="270" rx="1.5" ry="0.8" transform="rotate(170 54 270)"/><ellipse cx="1005" cy="21" rx="2.0" ry="0.8" transform="rotate(106 1005 21)"/><ellipse cx="1007" cy="266" rx="1.3" ry="0.9" transform="rotate(42 1007 266)"/><ellipse cx="869" cy="552" rx="2.0" ry="1.3" transform="rotate(133 869 552)"/><ellipse cx="363" cy="315" rx="1.0" ry="0.4" transform="rotate(146 363 315)"/><ellipse cx="1104" cy="419" rx="0.6" ry="0.4" transform="rotate(36 1104 419)"/><ellipse cx="966" cy="85" rx="1.0" ry="0.6" transform="rotate(37 966 85)"/><ellipse cx="1077" cy="604" rx="1.9" ry="0.9" transform="rotate(75 1077 604)"/><ellipse cx="1131" cy="415" rx="1.8" ry="1.2" transform="rotate(61 1131 415)"/><ellipse cx="273" cy="44" rx="0.8" ry="0.4" transform="rotate(102 273 44)"/><ellipse cx="349" cy="12" rx="2.3" ry="1.2" transform="rotate(49 349 12)"/><ellipse cx="62" cy="207" rx="1.4" ry="0.7" transform="rotate(4 62 207)"/><ellipse cx="1055" cy="251" rx="0.5" ry="0.2" transform="rotate(141 1055 251)"/><ellipse cx="668" cy="344" rx="0.8" ry="0.5" transform="rotate(150 668 344)"/><ellipse cx="1073" cy="507" rx="0.8" ry="0.5" transform="rotate(95 1073 507)"/><ellipse cx="983" cy="599" rx="0.9" ry="0.5" transform="rotate(163 983 599)"/><ellipse cx="59" cy="332" rx="0.6" ry="0.3" transform="rotate(26 59 332)"/><ellipse cx="905" cy="341" rx="3.2" ry="1.1" transform="rotate(40 905 341)"/><ellipse cx="880" cy="613" rx="1.5" ry="0.9" transform="rotate(132 880 613)"/><ellipse cx="40" cy="335" rx="3.2" ry="2.3" transform="rotate(22 40 335)"/><ellipse cx="535" cy="191" rx="2.0" ry="1.0" transform="rotate(85 535 191)"/><ellipse cx="522" cy="416" rx="1.0" ry="0.7" transform="rotate(41 522 416)"/><ellipse cx="293" cy="321" rx="0.7" ry="0.5" transform="rotate(56 293 321)"/><ellipse cx="23" cy="63" rx="1.0" ry="0.4" transform="rotate(43 23 63)"/><ellipse cx="291" cy="549" rx="1.5" ry="1.1" transform="rotate(175 291 549)"/><ellipse cx="860" cy="330" rx="0.8" ry="0.4" transform="rotate(95 860 330)"/><ellipse cx="795" cy="226" rx="3.3" ry="1.5" transform="rotate(41 795 226)"/><ellipse cx="1152" cy="663" rx="1.0" ry="0.7" transform="rotate(102 1152 663)"/><ellipse cx="89" cy="511" rx="0.5" ry="0.2" transform="rotate(132 89 511)"/><ellipse cx="586" cy="624" rx="0.9" ry="0.6" transform="rotate(125 586 624)"/><ellipse cx="441" cy="446" rx="0.9" ry="0.6" transform="rotate(83 441 446)"/><ellipse cx="246" cy="315" rx="0.6" ry="0.2" transform="rotate(72 246 315)"/><ellipse cx="294" cy="158" rx="0.9" ry="0.7" transform="rotate(122 294 158)"/><ellipse cx="878" cy="428" rx="1.4" ry="0.9" transform="rotate(10 878 428)"/><ellipse cx="817" cy="636" rx="1.0" ry="0.7" transform="rotate(146 817 636)"/><ellipse cx="1188" cy="321" rx="0.9" ry="0.6" transform="rotate(110 1188 321)"/><ellipse cx="436" cy="3" rx="1.1" ry="0.6" transform="rotate(153 436 3)"/><ellipse cx="927" cy="692" rx="0.7" ry="0.3" transform="rotate(59 927 692)"/><ellipse cx="422" cy="693" rx="2.8" ry="1.1" transform="rotate(55 422 693)"/><ellipse cx="474" cy="87" rx="1.0" ry="0.5" transform="rotate(176 474 87)"/><ellipse cx="235" cy="371" rx="1.9" ry="1.4" transform="rotate(52 235 371)"/><ellipse cx="586" cy="366" rx="0.5" ry="0.3" transform="rotate(51 586 366)"/><ellipse cx="979" cy="537" rx="1.0" ry="0.7" transform="rotate(10 979 537)"/><ellipse cx="157" cy="522" rx="1.0" ry="0.4" transform="rotate(102 157 522)"/><ellipse cx="749" cy="422" rx="0.8" ry="0.4" transform="rotate(177 749 422)"/><ellipse cx="462" cy="49" rx="1.8" ry="0.8" transform="rotate(109 462 49)"/><ellipse cx="384" cy="464" rx="1.0" ry="0.7" transform="rotate(46 384 464)"/><ellipse cx="989" cy="63" rx="1.5" ry="1.1" transform="rotate(23 989 63)"/><ellipse cx="861" cy="368" rx="0.5" ry="0.4" transform="rotate(147 861 368)"/><ellipse cx="596" cy="312" rx="0.5" ry="0.3" transform="rotate(167 596 312)"/><ellipse cx="814" cy="81" rx="0.7" ry="0.5" transform="rotate(104 814 81)"/><ellipse cx="496" cy="367" rx="3.2" ry="1.6" transform="rotate(139 496 367)"/><ellipse cx="440" cy="133" rx="1.0" ry="0.7" transform="rotate(106 440 133)"/><ellipse cx="75" cy="114" rx="0.9" ry="0.6" transform="rotate(53 75 114)"/><ellipse cx="280" cy="154" rx="2.3" ry="1.2" transform="rotate(66 280 154)"/><ellipse cx="1141" cy="219" rx="0.6" ry="0.2" transform="rotate(110 1141 219)"/><ellipse cx="1049" cy="35" rx="2.7" ry="1.9" transform="rotate(131 1049 35)"/><ellipse cx="294" cy="109" rx="1.1" ry="0.6" transform="rotate(9 294 109)"/><ellipse cx="443" cy="635" rx="1.4" ry="1.0" transform="rotate(64 443 635)"/><ellipse cx="99" cy="249" rx="0.9" ry="0.5" transform="rotate(17 99 249)"/><ellipse cx="641" cy="39" rx="0.7" ry="0.4" transform="rotate(44 641 39)"/><ellipse cx="472" cy="553" rx="0.8" ry="0.5" transform="rotate(171 472 553)"/><ellipse cx="833" cy="156" rx="0.7" ry="0.4" transform="rotate(16 833 156)"/><ellipse cx="833" cy="291" rx="3.3" ry="2.3" transform="rotate(159 833 291)"/><ellipse cx="468" cy="687" rx="1.1" ry="0.5" transform="rotate(1 468 687)"/><ellipse cx="152" cy="58" rx="0.8" ry="0.3" transform="rotate(116 152 58)"/><ellipse cx="164" cy="93" rx="1.0" ry="0.7" transform="rotate(25 164 93)"/><ellipse cx="365" cy="100" rx="3.1" ry="1.9" transform="rotate(146 365 100)"/><ellipse cx="586" cy="637" rx="1.0" ry="0.4" transform="rotate(62 586 637)"/><ellipse cx="68" cy="534" rx="0.7" ry="0.4" transform="rotate(156 68 534)"/><ellipse cx="1163" cy="528" rx="0.7" ry="0.4" transform="rotate(11 1163 528)"/><ellipse cx="812" cy="665" rx="2.5" ry="0.9" transform="rotate(83 812 665)"/><ellipse cx="96" cy="291" rx="1.0" ry="0.5" transform="rotate(79 96 291)"/><ellipse cx="66" cy="551" rx="0.6" ry="0.3" transform="rotate(11 66 551)"/><ellipse cx="144" cy="55" rx="3.0" ry="1.8" transform="rotate(156 144 55)"/><ellipse cx="664" cy="111" rx="0.9" ry="0.5" transform="rotate(114 664 111)"/><ellipse cx="58" cy="139" rx="1.1" ry="0.6" transform="rotate(47 58 139)"/><ellipse cx="56" cy="390" rx="0.6" ry="0.3" transform="rotate(3 56 390)"/><ellipse cx="185" cy="11" rx="2.6" ry="1.9" transform="rotate(134 185 11)"/><ellipse cx="336" cy="423" rx="0.7" ry="0.5" transform="rotate(122 336 423)"/><ellipse cx="1070" cy="241" rx="0.7" ry="0.4" transform="rotate(56 1070 241)"/><ellipse cx="136" cy="28" rx="1.5" ry="1.0" transform="rotate(26 136 28)"/><ellipse cx="906" cy="191" rx="1.0" ry="0.7" transform="rotate(176 906 191)"/><ellipse cx="724" cy="653" rx="0.7" ry="0.3" transform="rotate(103 724 653)"/><ellipse cx="297" cy="448" rx="0.6" ry="0.2" transform="rotate(66 297 448)"/><ellipse cx="521" cy="591" rx="0.9" ry="0.5" transform="rotate(122 521 591)"/><ellipse cx="669" cy="386" rx="2.2" ry="1.6" transform="rotate(170 669 386)"/><ellipse cx="352" cy="401" rx="0.6" ry="0.4" transform="rotate(15 352 401)"/><ellipse cx="274" cy="195" rx="1.5" ry="0.8" transform="rotate(31 274 195)"/><ellipse cx="771" cy="419" rx="0.9" ry="0.4" transform="rotate(84 771 419)"/><ellipse cx="826" cy="150" rx="1.1" ry="0.6" transform="rotate(99 826 150)"/><ellipse cx="922" cy="201" rx="0.9" ry="0.6" transform="rotate(33 922 201)"/><ellipse cx="1145" cy="685" rx="0.9" ry="0.4" transform="rotate(16 1145 685)"/><ellipse cx="739" cy="546" rx="0.9" ry="0.5" transform="rotate(99 739 546)"/><ellipse cx="801" cy="391" rx="0.9" ry="0.5" transform="rotate(175 801 391)"/><ellipse cx="577" cy="116" rx="1.6" ry="1.2" transform="rotate(32 577 116)"/><ellipse cx="855" cy="119" rx="0.6" ry="0.4" transform="rotate(1 855 119)"/><ellipse cx="1173" cy="634" rx="0.8" ry="0.3" transform="rotate(64 1173 634)"/><ellipse cx="529" cy="607" rx="0.8" ry="0.4" transform="rotate(143 529 607)"/><ellipse cx="719" cy="226" rx="0.7" ry="0.4" transform="rotate(156 719 226)"/><ellipse cx="56" cy="452" rx="1.6" ry="0.7" transform="rotate(79 56 452)"/><ellipse cx="506" cy="420" rx="0.8" ry="0.5" transform="rotate(145 506 420)"/><ellipse cx="285" cy="682" rx="1.8" ry="1.2" transform="rotate(79 285 682)"/><ellipse cx="821" cy="179" rx="3.1" ry="1.6" transform="rotate(72 821 179)"/><ellipse cx="693" cy="365" rx="1.1" ry="0.7" transform="rotate(17 693 365)"/><ellipse cx="1185" cy="11" rx="0.7" ry="0.2" transform="rotate(32 1185 11)"/><ellipse cx="594" cy="589" rx="1.3" ry="0.5" transform="rotate(57 594 589)"/><ellipse cx="589" cy="676" rx="0.9" ry="0.6" transform="rotate(121 589 676)"/><ellipse cx="288" cy="260" rx="3.2" ry="1.8" transform="rotate(36 288 260)"/><ellipse cx="590" cy="562" rx="0.6" ry="0.2" transform="rotate(34 590 562)"/><ellipse cx="607" cy="480" rx="0.9" ry="0.6" transform="rotate(179 607 480)"/><ellipse cx="400" cy="695" rx="0.6" ry="0.2" transform="rotate(116 400 695)"/><ellipse cx="124" cy="24" rx="0.6" ry="0.3" transform="rotate(138 124 24)"/><ellipse cx="536" cy="103" rx="0.9" ry="0.5" transform="rotate(97 536 103)"/><ellipse cx="843" cy="585" rx="2.9" ry="1.2" transform="rotate(23 843 585)"/><ellipse cx="609" cy="129" rx="3.3" ry="1.7" transform="rotate(147 609 129)"/><ellipse cx="1134" cy="316" rx="0.7" ry="0.3" transform="rotate(119 1134 316)"/><ellipse cx="1106" cy="480" rx="0.7" ry="0.4" transform="rotate(139 1106 480)"/><ellipse cx="176" cy="511" rx="0.6" ry="0.4" transform="rotate(78 176 511)"/><ellipse cx="821" cy="297" rx="0.6" ry="0.3" transform="rotate(46 821 297)"/><ellipse cx="358" cy="662" rx="0.6" ry="0.4" transform="rotate(21 358 662)"/><ellipse cx="266" cy="89" rx="1.1" ry="0.5" transform="rotate(2 266 89)"/><ellipse cx="881" cy="463" rx="0.5" ry="0.2" transform="rotate(140 881 463)"/><ellipse cx="921" cy="163" rx="0.9" ry="0.5" transform="rotate(33 921 163)"/><ellipse cx="82" cy="131" rx="0.8" ry="0.5" transform="rotate(102 82 131)"/><ellipse cx="775" cy="287" rx="1.0" ry="0.8" transform="rotate(149 775 287)"/><ellipse cx="927" cy="482" rx="1.5" ry="0.9" transform="rotate(45 927 482)"/><ellipse cx="735" cy="383" rx="0.6" ry="0.3" transform="rotate(125 735 383)"/><ellipse cx="1063" cy="223" rx="0.8" ry="0.5" transform="rotate(136 1063 223)"/><ellipse cx="921" cy="565" rx="0.8" ry="0.4" transform="rotate(117 921 565)"/><ellipse cx="377" cy="579" rx="0.8" ry="0.4" transform="rotate(2 377 579)"/><ellipse cx="334" cy="332" rx="3.2" ry="2.4" transform="rotate(142 334 332)"/><ellipse cx="335" cy="13" rx="1.9" ry="1.4" transform="rotate(121 335 13)"/><ellipse cx="988" cy="582" rx="0.6" ry="0.3" transform="rotate(89 988 582)"/><ellipse cx="981" cy="202" rx="1.8" ry="0.7" transform="rotate(105 981 202)"/><ellipse cx="703" cy="498" rx="0.9" ry="0.5" transform="rotate(157 703 498)"/><ellipse cx="216" cy="204" rx="1.1" ry="0.7" transform="rotate(8 216 204)"/><ellipse cx="1133" cy="326" rx="0.9" ry="0.6" transform="rotate(99 1133 326)"/><ellipse cx="307" cy="328" rx="2.5" ry="1.0" transform="rotate(46 307 328)"/><ellipse cx="142" cy="19" rx="0.7" ry="0.5" transform="rotate(110 142 19)"/><ellipse cx="790" cy="200" rx="3.1" ry="1.4" transform="rotate(171 790 200)"/><ellipse cx="820" cy="125" rx="2.1" ry="1.1" transform="rotate(60 820 125)"/><ellipse cx="434" cy="112" rx="3.0" ry="1.5" transform="rotate(128 434 112)"/><ellipse cx="514" cy="680" rx="1.0" ry="0.7" transform="rotate(167 514 680)"/><ellipse cx="496" cy="414" rx="2.0" ry="1.2" transform="rotate(1 496 414)"/><ellipse cx="905" cy="52" rx="1.0" ry="0.6" transform="rotate(27 905 52)"/><ellipse cx="800" cy="164" rx="1.1" ry="0.6" transform="rotate(49 800 164)"/><ellipse cx="372" cy="668" rx="2.4" ry="1.5" transform="rotate(169 372 668)"/><ellipse cx="96" cy="230" rx="0.9" ry="0.6" transform="rotate(17 96 230)"/><ellipse cx="60" cy="124" rx="1.9" ry="0.8" transform="rotate(5 60 124)"/><ellipse cx="629" cy="529" rx="2.8" ry="1.1" transform="rotate(25 629 529)"/><ellipse cx="589" cy="207" rx="0.8" ry="0.4" transform="rotate(5 589 207)"/><ellipse cx="985" cy="272" rx="2.2" ry="1.2" transform="rotate(28 985 272)"/><ellipse cx="722" cy="333" rx="0.8" ry="0.5" transform="rotate(8 722 333)"/><ellipse cx="353" cy="79" rx="0.7" ry="0.4" transform="rotate(94 353 79)"/><ellipse cx="349" cy="274" rx="1.4" ry="1.0" transform="rotate(158 349 274)"/><ellipse cx="653" cy="657" rx="0.6" ry="0.3" transform="rotate(110 653 657)"/><ellipse cx="491" cy="456" rx="0.6" ry="0.3" transform="rotate(77 491 456)"/><ellipse cx="631" cy="38" rx="0.6" ry="0.3" transform="rotate(179 631 38)"/><ellipse cx="732" cy="512" rx="0.7" ry="0.4" transform="rotate(136 732 512)"/><ellipse cx="31" cy="327" rx="0.9" ry="0.7" transform="rotate(91 31 327)"/><ellipse cx="830" cy="55" rx="0.9" ry="0.5" transform="rotate(92 830 55)"/><ellipse cx="494" cy="125" rx="0.8" ry="0.3" transform="rotate(111 494 125)"/><ellipse cx="997" cy="454" rx="0.6" ry="0.3" transform="rotate(83 997 454)"/><ellipse cx="199" cy="186" rx="1.4" ry="0.8" transform="rotate(120 199 186)"/><ellipse cx="302" cy="664" rx="1.1" ry="0.6" transform="rotate(84 302 664)"/><ellipse cx="896" cy="517" rx="2.8" ry="1.8" transform="rotate(108 896 517)"/><ellipse cx="140" cy="520" rx="0.9" ry="0.5" transform="rotate(14 140 520)"/><ellipse cx="438" cy="512" rx="2.2" ry="1.5" transform="rotate(113 438 512)"/><ellipse cx="276" cy="57" rx="0.9" ry="0.4" transform="rotate(135 276 57)"/><ellipse cx="1148" cy="25" rx="1.0" ry="0.4" transform="rotate(14 1148 25)"/><ellipse cx="1025" cy="677" rx="0.6" ry="0.4" transform="rotate(117 1025 677)"/><ellipse cx="998" cy="530" rx="0.8" ry="0.4" transform="rotate(115 998 530)"/><ellipse cx="946" cy="410" rx="3.2" ry="2.2" transform="rotate(62 946 410)"/><ellipse cx="1152" cy="390" rx="0.6" ry="0.4" transform="rotate(79 1152 390)"/><ellipse cx="259" cy="192" rx="0.8" ry="0.4" transform="rotate(10 259 192)"/><ellipse cx="945" cy="526" rx="0.5" ry="0.2" transform="rotate(83 945 526)"/><ellipse cx="356" cy="575" rx="2.2" ry="0.8" transform="rotate(5 356 575)"/><ellipse cx="727" cy="422" rx="2.5" ry="1.4" transform="rotate(55 727 422)"/><ellipse cx="268" cy="109" rx="2.5" ry="1.6" transform="rotate(50 268 109)"/><ellipse cx="729" cy="180" rx="2.5" ry="1.6" transform="rotate(144 729 180)"/><ellipse cx="637" cy="637" rx="0.7" ry="0.3" transform="rotate(113 637 637)"/><ellipse cx="154" cy="123" rx="0.7" ry="0.5" transform="rotate(145 154 123)"/><ellipse cx="638" cy="238" rx="1.5" ry="1.1" transform="rotate(54 638 238)"/><ellipse cx="930" cy="316" rx="2.3" ry="1.4" transform="rotate(4 930 316)"/><ellipse cx="1101" cy="236" rx="1.5" ry="0.6" transform="rotate(142 1101 236)"/><ellipse cx="1131" cy="639" rx="2.9" ry="1.6" transform="rotate(141 1131 639)"/><ellipse cx="761" cy="395" rx="1.5" ry="0.8" transform="rotate(52 761 395)"/><ellipse cx="1145" cy="34" rx="1.5" ry="1.1" transform="rotate(40 1145 34)"/><ellipse cx="714" cy="408" rx="1.6" ry="1.0" transform="rotate(67 714 408)"/><ellipse cx="721" cy="572" rx="0.7" ry="0.5" transform="rotate(112 721 572)"/><ellipse cx="236" cy="320" rx="0.5" ry="0.2" transform="rotate(91 236 320)"/><ellipse cx="646" cy="149" rx="2.8" ry="1.0" transform="rotate(151 646 149)"/><ellipse cx="539" cy="121" rx="0.6" ry="0.4" transform="rotate(40 539 121)"/><ellipse cx="493" cy="51" rx="0.6" ry="0.3" transform="rotate(98 493 51)"/><ellipse cx="768" cy="100" rx="0.6" ry="0.2" transform="rotate(125 768 100)"/><ellipse cx="1042" cy="563" rx="2.0" ry="1.2" transform="rotate(111 1042 563)"/><ellipse cx="751" cy="386" rx="1.5" ry="0.6" transform="rotate(105 751 386)"/><ellipse cx="104" cy="612" rx="3.3" ry="2.0" transform="rotate(1 104 612)"/><ellipse cx="460" cy="252" rx="1.8" ry="0.6" transform="rotate(81 460 252)"/><ellipse cx="578" cy="162" rx="0.8" ry="0.5" transform="rotate(64 578 162)"/><ellipse cx="903" cy="543" rx="0.7" ry="0.3" transform="rotate(75 903 543)"/><ellipse cx="136" cy="501" rx="1.0" ry="0.6" transform="rotate(164 136 501)"/><ellipse cx="871" cy="483" rx="1.1" ry="0.6" transform="rotate(119 871 483)"/><ellipse cx="660" cy="373" rx="1.7" ry="0.9" transform="rotate(56 660 373)"/><ellipse cx="857" cy="444" rx="2.6" ry="1.3" transform="rotate(122 857 444)"/><ellipse cx="563" cy="78" rx="0.6" ry="0.3" transform="rotate(110 563 78)"/><ellipse cx="735" cy="353" rx="1.0" ry="0.5" transform="rotate(146 735 353)"/><ellipse cx="801" cy="562" rx="1.7" ry="0.8" transform="rotate(147 801 562)"/><ellipse cx="1109" cy="158" rx="0.9" ry="0.5" transform="rotate(161 1109 158)"/><ellipse cx="1108" cy="64" rx="2.6" ry="1.7" transform="rotate(53 1108 64)"/><ellipse cx="368" cy="632" rx="0.6" ry="0.3" transform="rotate(133 368 632)"/><ellipse cx="1148" cy="506" rx="1.7" ry="0.8" transform="rotate(103 1148 506)"/><ellipse cx="387" cy="104" rx="1.0" ry="0.4" transform="rotate(92 387 104)"/><ellipse cx="1176" cy="252" rx="0.5" ry="0.4" transform="rotate(139 1176 252)"/><ellipse cx="883" cy="239" rx="0.5" ry="0.2" transform="rotate(115 883 239)"/><ellipse cx="1143" cy="104" rx="1.0" ry="0.6" transform="rotate(119 1143 104)"/><ellipse cx="62" cy="139" rx="0.6" ry="0.2" transform="rotate(57 62 139)"/><ellipse cx="497" cy="233" rx="2.7" ry="1.9" transform="rotate(114 497 233)"/><ellipse cx="1103" cy="89" rx="3.1" ry="1.8" transform="rotate(111 1103 89)"/><ellipse cx="1097" cy="667" rx="0.6" ry="0.3" transform="rotate(40 1097 667)"/><ellipse cx="838" cy="248" rx="0.6" ry="0.3" transform="rotate(94 838 248)"/><ellipse cx="69" cy="539" rx="2.6" ry="1.0" transform="rotate(95 69 539)"/><ellipse cx="112" cy="197" rx="0.9" ry="0.6" transform="rotate(60 112 197)"/><ellipse cx="420" cy="146" rx="1.7" ry="0.7" transform="rotate(76 420 146)"/><ellipse cx="1004" cy="306" rx="0.8" ry="0.4" transform="rotate(74 1004 306)"/><ellipse cx="869" cy="59" rx="1.9" ry="0.9" transform="rotate(36 869 59)"/><ellipse cx="692" cy="28" rx="1.7" ry="1.1" transform="rotate(124 692 28)"/><ellipse cx="1065" cy="93" rx="2.4" ry="1.6" transform="rotate(150 1065 93)"/><ellipse cx="1032" cy="12" rx="2.2" ry="0.8" transform="rotate(63 1032 12)"/><ellipse cx="153" cy="610" rx="1.7" ry="1.1" transform="rotate(20 153 610)"/><ellipse cx="527" cy="154" rx="0.9" ry="0.6" transform="rotate(64 527 154)"/><ellipse cx="1173" cy="674" rx="1.4" ry="0.8" transform="rotate(88 1173 674)"/><ellipse cx="1035" cy="697" rx="3.4" ry="2.0" transform="rotate(7 1035 697)"/><ellipse cx="249" cy="669" rx="0.9" ry="0.3" transform="rotate(169 249 669)"/><ellipse cx="357" cy="539" rx="0.8" ry="0.6" transform="rotate(150 357 539)"/><ellipse cx="473" cy="595" rx="2.0" ry="0.7" transform="rotate(72 473 595)"/><ellipse cx="575" cy="43" rx="0.7" ry="0.3" transform="rotate(77 575 43)"/><ellipse cx="694" cy="88" rx="0.9" ry="0.5" transform="rotate(178 694 88)"/><ellipse cx="307" cy="524" rx="0.8" ry="0.3" transform="rotate(147 307 524)"/><ellipse cx="1060" cy="91" rx="0.7" ry="0.5" transform="rotate(130 1060 91)"/><ellipse cx="680" cy="270" rx="1.0" ry="0.7" transform="rotate(12 680 270)"/><ellipse cx="684" cy="493" rx="3.2" ry="2.1" transform="rotate(128 684 493)"/><ellipse cx="399" cy="306" rx="2.8" ry="1.8" transform="rotate(83 399 306)"/><ellipse cx="1143" cy="441" rx="2.2" ry="1.0" transform="rotate(90 1143 441)"/><ellipse cx="905" cy="692" rx="1.1" ry="0.7" transform="rotate(133 905 692)"/><ellipse cx="109" cy="284" rx="3.2" ry="1.6" transform="rotate(44 109 284)"/><ellipse cx="98" cy="375" rx="0.9" ry="0.5" transform="rotate(28 98 375)"/><ellipse cx="59" cy="480" rx="0.8" ry="0.4" transform="rotate(163 59 480)"/><ellipse cx="67" cy="161" rx="2.0" ry="1.0" transform="rotate(53 67 161)"/><ellipse cx="911" cy="67" rx="0.7" ry="0.5" transform="rotate(64 911 67)"/><ellipse cx="747" cy="71" rx="0.9" ry="0.5" transform="rotate(7 747 71)"/><ellipse cx="647" cy="604" rx="2.6" ry="1.2" transform="rotate(18 647 604)"/><ellipse cx="89" cy="436" rx="0.9" ry="0.6" transform="rotate(153 89 436)"/><ellipse cx="322" cy="266" rx="0.9" ry="0.5" transform="rotate(62 322 266)"/><ellipse cx="109" cy="230" rx="0.9" ry="0.5" transform="rotate(164 109 230)"/><ellipse cx="444" cy="638" rx="0.6" ry="0.3" transform="rotate(144 444 638)"/><ellipse cx="352" cy="510" rx="0.5" ry="0.3" transform="rotate(177 352 510)"/><ellipse cx="450" cy="194" rx="0.9" ry="0.5" transform="rotate(112 450 194)"/><ellipse cx="468" cy="192" rx="2.8" ry="1.1" transform="rotate(21 468 192)"/><ellipse cx="608" cy="691" rx="0.9" ry="0.4" transform="rotate(92 608 691)"/><ellipse cx="21" cy="363" rx="1.6" ry="0.8" transform="rotate(86 21 363)"/><ellipse cx="262" cy="54" rx="1.1" ry="0.8" transform="rotate(25 262 54)"/><ellipse cx="242" cy="613" rx="2.7" ry="2.0" transform="rotate(167 242 613)"/><ellipse cx="1013" cy="222" rx="1.0" ry="0.8" transform="rotate(137 1013 222)"/><ellipse cx="944" cy="490" rx="1.1" ry="0.6" transform="rotate(5 944 490)"/><ellipse cx="537" cy="608" rx="1.1" ry="0.7" transform="rotate(40 537 608)"/><ellipse cx="842" cy="607" rx="0.8" ry="0.5" transform="rotate(2 842 607)"/><ellipse cx="384" cy="212" rx="1.0" ry="0.6" transform="rotate(164 384 212)"/><ellipse cx="137" cy="200" rx="0.9" ry="0.7" transform="rotate(157 137 200)"/><ellipse cx="636" cy="516" rx="0.9" ry="0.6" transform="rotate(150 636 516)"/><ellipse cx="189" cy="21" rx="0.6" ry="0.4" transform="rotate(136 189 21)"/><ellipse cx="197" cy="108" rx="0.6" ry="0.4" transform="rotate(39 197 108)"/><ellipse cx="1000" cy="660" rx="0.8" ry="0.6" transform="rotate(80 1000 660)"/><ellipse cx="494" cy="163" rx="3.2" ry="1.2" transform="rotate(160 494 163)"/><ellipse cx="386" cy="413" rx="3.1" ry="1.7" transform="rotate(144 386 413)"/><ellipse cx="43" cy="114" rx="0.5" ry="0.2" transform="rotate(68 43 114)"/><ellipse cx="464" cy="591" rx="2.9" ry="1.4" transform="rotate(138 464 591)"/><ellipse cx="791" cy="49" rx="0.8" ry="0.4" transform="rotate(124 791 49)"/><ellipse cx="483" cy="363" rx="0.6" ry="0.2" transform="rotate(49 483 363)"/><ellipse cx="1141" cy="270" rx="0.9" ry="0.5" transform="rotate(134 1141 270)"/><ellipse cx="602" cy="665" rx="0.9" ry="0.5" transform="rotate(32 602 665)"/><ellipse cx="682" cy="299" rx="0.6" ry="0.3" transform="rotate(46 682 299)"/><ellipse cx="1154" cy="342" rx="1.0" ry="0.7" transform="rotate(91 1154 342)"/><ellipse cx="152" cy="260" rx="0.8" ry="0.4" transform="rotate(176 152 260)"/><ellipse cx="639" cy="116" rx="0.8" ry="0.4" transform="rotate(89 639 116)"/><ellipse cx="492" cy="473" rx="2.3" ry="1.1" transform="rotate(105 492 473)"/><ellipse cx="556" cy="531" rx="0.9" ry="0.5" transform="rotate(20 556 531)"/><ellipse cx="876" cy="137" rx="0.7" ry="0.5" transform="rotate(98 876 137)"/><ellipse cx="1167" cy="16" rx="2.5" ry="1.5" transform="rotate(106 1167 16)"/><ellipse cx="1128" cy="308" rx="0.8" ry="0.4" transform="rotate(166 1128 308)"/><ellipse cx="271" cy="52" rx="1.0" ry="0.7" transform="rotate(110 271 52)"/><ellipse cx="613" cy="203" rx="1.0" ry="0.6" transform="rotate(177 613 203)"/><ellipse cx="960" cy="379" rx="1.0" ry="0.7" transform="rotate(32 960 379)"/><ellipse cx="1082" cy="473" rx="0.8" ry="0.5" transform="rotate(91 1082 473)"/><ellipse cx="757" cy="643" rx="0.7" ry="0.5" transform="rotate(120 757 643)"/><ellipse cx="114" cy="356" rx="0.6" ry="0.3" transform="rotate(45 114 356)"/><ellipse cx="337" cy="395" rx="0.9" ry="0.6" transform="rotate(70 337 395)"/><ellipse cx="514" cy="455" rx="1.1" ry="0.7" transform="rotate(12 514 455)"/><ellipse cx="1099" cy="156" rx="0.7" ry="0.3" transform="rotate(109 1099 156)"/><ellipse cx="644" cy="375" rx="1.0" ry="0.6" transform="rotate(127 644 375)"/><ellipse cx="993" cy="328" rx="1.5" ry="0.8" transform="rotate(123 993 328)"/><ellipse cx="282" cy="670" rx="0.8" ry="0.6" transform="rotate(28 282 670)"/><ellipse cx="302" cy="443" rx="1.6" ry="1.1" transform="rotate(80 302 443)"/><ellipse cx="694" cy="171" rx="2.8" ry="1.0" transform="rotate(96 694 171)"/><ellipse cx="390" cy="664" rx="0.5" ry="0.2" transform="rotate(178 390 664)"/><ellipse cx="444" cy="27" rx="2.4" ry="1.2" transform="rotate(55 444 27)"/><ellipse cx="569" cy="327" rx="0.8" ry="0.5" transform="rotate(133 569 327)"/><ellipse cx="544" cy="149" rx="1.9" ry="1.0" transform="rotate(74 544 149)"/><ellipse cx="253" cy="601" rx="0.9" ry="0.3" transform="rotate(78 253 601)"/><ellipse cx="159" cy="379" rx="1.1" ry="0.4" transform="rotate(83 159 379)"/><ellipse cx="800" cy="261" rx="1.0" ry="0.4" transform="rotate(70 800 261)"/><ellipse cx="836" cy="585" rx="1.0" ry="0.5" transform="rotate(128 836 585)"/><ellipse cx="620" cy="79" rx="1.0" ry="0.5" transform="rotate(140 620 79)"/><ellipse cx="46" cy="349" rx="0.7" ry="0.4" transform="rotate(78 46 349)"/><ellipse cx="911" cy="459" rx="1.8" ry="0.9" transform="rotate(76 911 459)"/><ellipse cx="605" cy="534" rx="1.9" ry="1.1" transform="rotate(1 605 534)"/><ellipse cx="762" cy="26" rx="0.7" ry="0.5" transform="rotate(56 762 26)"/><ellipse cx="21" cy="75" rx="0.9" ry="0.5" transform="rotate(159 21 75)"/><ellipse cx="196" cy="160" rx="1.0" ry="0.5" transform="rotate(162 196 160)"/><ellipse cx="758" cy="481" rx="2.5" ry="1.8" transform="rotate(3 758 481)"/><ellipse cx="396" cy="215" rx="0.9" ry="0.4" transform="rotate(127 396 215)"/><ellipse cx="1054" cy="46" rx="1.0" ry="0.6" transform="rotate(91 1054 46)"/><ellipse cx="488" cy="396" rx="0.9" ry="0.5" transform="rotate(159 488 396)"/><ellipse cx="923" cy="355" rx="3.4" ry="2.0" transform="rotate(13 923 355)"/><ellipse cx="625" cy="298" rx="3.2" ry="1.7" transform="rotate(149 625 298)"/><ellipse cx="312" cy="620" rx="0.8" ry="0.6" transform="rotate(101 312 620)"/><ellipse cx="641" cy="254" rx="2.2" ry="1.0" transform="rotate(14 641 254)"/><ellipse cx="438" cy="19" rx="3.2" ry="1.5" transform="rotate(49 438 19)"/><ellipse cx="660" cy="204" rx="3.2" ry="1.2" transform="rotate(10 660 204)"/><ellipse cx="1059" cy="480" rx="0.7" ry="0.4" transform="rotate(49 1059 480)"/><ellipse cx="648" cy="453" rx="2.5" ry="1.4" transform="rotate(157 648 453)"/><ellipse cx="576" cy="603" rx="0.7" ry="0.5" transform="rotate(104 576 603)"/><ellipse cx="637" cy="543" rx="0.9" ry="0.4" transform="rotate(68 637 543)"/><ellipse cx="883" cy="678" rx="2.0" ry="1.4" transform="rotate(19 883 678)"/><ellipse cx="1054" cy="556" rx="2.8" ry="1.7" transform="rotate(5 1054 556)"/><ellipse cx="636" cy="132" rx="0.5" ry="0.3" transform="rotate(2 636 132)"/><ellipse cx="1087" cy="619" rx="3.3" ry="1.5" transform="rotate(117 1087 619)"/><ellipse cx="916" cy="390" rx="2.8" ry="1.1" transform="rotate(68 916 390)"/><ellipse cx="1119" cy="285" rx="0.7" ry="0.5" transform="rotate(66 1119 285)"/><ellipse cx="995" cy="576" rx="0.8" ry="0.3" transform="rotate(164 995 576)"/><ellipse cx="410" cy="427" rx="1.1" ry="0.7" transform="rotate(24 410 427)"/><ellipse cx="795" cy="327" rx="1.6" ry="1.1" transform="rotate(109 795 327)"/><ellipse cx="896" cy="516" rx="0.7" ry="0.4" transform="rotate(78 896 516)"/><ellipse cx="941" cy="204" rx="1.4" ry="0.6" transform="rotate(3 941 204)"/><ellipse cx="509" cy="265" rx="3.4" ry="1.3" transform="rotate(149 509 265)"/><ellipse cx="430" cy="172" rx="1.3" ry="0.5" transform="rotate(122 430 172)"/><ellipse cx="864" cy="693" rx="0.7" ry="0.4" transform="rotate(50 864 693)"/><ellipse cx="494" cy="638" rx="1.0" ry="0.6" transform="rotate(146 494 638)"/><ellipse cx="641" cy="244" rx="0.7" ry="0.5" transform="rotate(17 641 244)"/><ellipse cx="1020" cy="503" rx="0.9" ry="0.3" transform="rotate(121 1020 503)"/><ellipse cx="1039" cy="285" rx="0.8" ry="0.5" transform="rotate(87 1039 285)"/><ellipse cx="144" cy="365" rx="2.3" ry="1.6" transform="rotate(2 144 365)"/><ellipse cx="1036" cy="245" rx="0.8" ry="0.4" transform="rotate(28 1036 245)"/><ellipse cx="505" cy="621" rx="0.9" ry="0.6" transform="rotate(165 505 621)"/><ellipse cx="193" cy="101" rx="2.4" ry="1.2" transform="rotate(165 193 101)"/><ellipse cx="750" cy="157" rx="0.8" ry="0.4" transform="rotate(105 750 157)"/><ellipse cx="74" cy="251" rx="1.7" ry="0.7" transform="rotate(169 74 251)"/><ellipse cx="1043" cy="283" rx="3.2" ry="2.2" transform="rotate(171 1043 283)"/><ellipse cx="1028" cy="475" rx="0.6" ry="0.4" transform="rotate(64 1028 475)"/><ellipse cx="44" cy="459" rx="0.6" ry="0.4" transform="rotate(79 44 459)"/><ellipse cx="57" cy="197" rx="1.0" ry="0.7" transform="rotate(30 57 197)"/><ellipse cx="254" cy="261" rx="2.9" ry="1.0" transform="rotate(97 254 261)"/><ellipse cx="160" cy="219" rx="1.1" ry="0.7" transform="rotate(77 160 219)"/><ellipse cx="1188" cy="177" rx="1.0" ry="0.6" transform="rotate(91 1188 177)"/><ellipse cx="867" cy="232" rx="1.0" ry="0.6" transform="rotate(165 867 232)"/><ellipse cx="563" cy="664" rx="0.7" ry="0.4" transform="rotate(101 563 664)"/><ellipse cx="660" cy="589" rx="2.8" ry="1.6" transform="rotate(73 660 589)"/><ellipse cx="139" cy="635" rx="0.8" ry="0.3" transform="rotate(58 139 635)"/><ellipse cx="395" cy="60" rx="2.2" ry="0.8" transform="rotate(24 395 60)"/><ellipse cx="1142" cy="387" rx="0.7" ry="0.4" transform="rotate(32 1142 387)"/><ellipse cx="893" cy="651" rx="1.0" ry="0.6" transform="rotate(94 893 651)"/><ellipse cx="829" cy="256" rx="1.0" ry="0.6" transform="rotate(7 829 256)"/><ellipse cx="992" cy="33" rx="1.9" ry="0.9" transform="rotate(111 992 33)"/><ellipse cx="853" cy="617" rx="1.4" ry="0.5" transform="rotate(23 853 617)"/><ellipse cx="211" cy="207" rx="0.7" ry="0.4" transform="rotate(141 211 207)"/><ellipse cx="217" cy="350" rx="1.1" ry="0.6" transform="rotate(54 217 350)"/><ellipse cx="760" cy="350" rx="0.9" ry="0.7" transform="rotate(176 760 350)"/><ellipse cx="1154" cy="566" rx="0.6" ry="0.3" transform="rotate(152 1154 566)"/><ellipse cx="523" cy="14" rx="1.9" ry="1.3" transform="rotate(34 523 14)"/><ellipse cx="992" cy="186" rx="2.5" ry="1.5" transform="rotate(129 992 186)"/><ellipse cx="249" cy="468" rx="2.9" ry="1.2" transform="rotate(75 249 468)"/><ellipse cx="137" cy="407" rx="3.4" ry="1.8" transform="rotate(90 137 407)"/><ellipse cx="39" cy="183" rx="0.6" ry="0.2" transform="rotate(26 39 183)"/><ellipse cx="889" cy="455" rx="1.9" ry="1.1" transform="rotate(103 889 455)"/><ellipse cx="159" cy="107" rx="2.7" ry="1.1" transform="rotate(18 159 107)"/><ellipse cx="84" cy="598" rx="2.0" ry="1.2" transform="rotate(39 84 598)"/><ellipse cx="998" cy="3" rx="0.6" ry="0.5" transform="rotate(98 998 3)"/><ellipse cx="157" cy="527" rx="1.0" ry="0.6" transform="rotate(4 157 527)"/><ellipse cx="77" cy="579" rx="3.2" ry="2.2" transform="rotate(19 77 579)"/><ellipse cx="1062" cy="10" rx="1.7" ry="1.0" transform="rotate(8 1062 10)"/><ellipse cx="1159" cy="147" rx="3.2" ry="1.9" transform="rotate(89 1159 147)"/><ellipse cx="913" cy="392" rx="3.0" ry="1.8" transform="rotate(83 913 392)"/><ellipse cx="1186" cy="324" rx="2.1" ry="1.2" transform="rotate(47 1186 324)"/><ellipse cx="863" cy="189" rx="0.8" ry="0.4" transform="rotate(118 863 189)"/><ellipse cx="299" cy="32" rx="0.9" ry="0.6" transform="rotate(48 299 32)"/><ellipse cx="201" cy="293" rx="2.3" ry="1.5" transform="rotate(19 201 293)"/><ellipse cx="209" cy="329" rx="2.7" ry="1.5" transform="rotate(173 209 329)"/><ellipse cx="1145" cy="438" rx="0.7" ry="0.3" transform="rotate(14 1145 438)"/><ellipse cx="829" cy="458" rx="3.4" ry="1.9" transform="rotate(126 829 458)"/><ellipse cx="295" cy="658" rx="0.6" ry="0.3" transform="rotate(4 295 658)"/><ellipse cx="252" cy="546" rx="2.0" ry="1.5" transform="rotate(30 252 546)"/><ellipse cx="499" cy="372" rx="0.5" ry="0.3" transform="rotate(58 499 372)"/><ellipse cx="1197" cy="306" rx="1.9" ry="0.8" transform="rotate(57 1197 306)"/><ellipse cx="830" cy="246" rx="3.0" ry="1.4" transform="rotate(49 830 246)"/><ellipse cx="1018" cy="676" rx="3.1" ry="2.0" transform="rotate(3 1018 676)"/><ellipse cx="345" cy="583" rx="3.4" ry="1.5" transform="rotate(32 345 583)"/><ellipse cx="833" cy="689" rx="1.3" ry="0.6" transform="rotate(120 833 689)"/><ellipse cx="1151" cy="81" rx="0.5" ry="0.4" transform="rotate(56 1151 81)"/><ellipse cx="449" cy="553" rx="0.5" ry="0.3" transform="rotate(27 449 553)"/><ellipse cx="989" cy="540" rx="1.1" ry="0.7" transform="rotate(129 989 540)"/><ellipse cx="432" cy="9" rx="1.4" ry="0.8" transform="rotate(179 432 9)"/><ellipse cx="534" cy="146" rx="2.1" ry="1.0" transform="rotate(48 534 146)"/><ellipse cx="1055" cy="698" rx="2.8" ry="1.1" transform="rotate(83 1055 698)"/><ellipse cx="600" cy="220" rx="3.0" ry="2.0" transform="rotate(113 600 220)"/><ellipse cx="91" cy="85" rx="0.6" ry="0.4" transform="rotate(136 91 85)"/><ellipse cx="1043" cy="95" rx="2.8" ry="1.4" transform="rotate(126 1043 95)"/><ellipse cx="198" cy="446" rx="0.9" ry="0.6" transform="rotate(34 198 446)"/><ellipse cx="940" cy="35" rx="0.5" ry="0.4" transform="rotate(160 940 35)"/><ellipse cx="263" cy="493" rx="0.8" ry="0.4" transform="rotate(158 263 493)"/><ellipse cx="320" cy="637" rx="1.0" ry="0.7" transform="rotate(33 320 637)"/><ellipse cx="791" cy="690" rx="0.9" ry="0.6" transform="rotate(70 791 690)"/><ellipse cx="457" cy="124" rx="3.0" ry="1.1" transform="rotate(137 457 124)"/><ellipse cx="192" cy="606" rx="1.5" ry="0.7" transform="rotate(37 192 606)"/><ellipse cx="1174" cy="563" rx="2.5" ry="1.3" transform="rotate(99 1174 563)"/><ellipse cx="1009" cy="585" rx="0.8" ry="0.4" transform="rotate(27 1009 585)"/><ellipse cx="287" cy="130" rx="0.7" ry="0.3" transform="rotate(20 287 130)"/><ellipse cx="83" cy="636" rx="0.6" ry="0.4" transform="rotate(2 83 636)"/><ellipse cx="941" cy="30" rx="0.8" ry="0.5" transform="rotate(103 941 30)"/><ellipse cx="842" cy="47" rx="2.3" ry="1.2" transform="rotate(19 842 47)"/><ellipse cx="154" cy="42" rx="1.1" ry="0.6" transform="rotate(36 154 42)"/><ellipse cx="733" cy="346" rx="0.7" ry="0.3" transform="rotate(8 733 346)"/><ellipse cx="290" cy="644" rx="0.8" ry="0.4" transform="rotate(64 290 644)"/><ellipse cx="611" cy="215" rx="2.1" ry="0.8" transform="rotate(86 611 215)"/><ellipse cx="636" cy="636" rx="0.8" ry="0.4" transform="rotate(153 636 636)"/><ellipse cx="143" cy="265" rx="0.9" ry="0.7" transform="rotate(33 143 265)"/><ellipse cx="1004" cy="487" rx="1.0" ry="0.5" transform="rotate(170 1004 487)"/><ellipse cx="1110" cy="256" rx="1.0" ry="0.7" transform="rotate(72 1110 256)"/><ellipse cx="441" cy="221" rx="0.9" ry="0.5" transform="rotate(121 441 221)"/><ellipse cx="875" cy="569" rx="1.1" ry="0.6" transform="rotate(148 875 569)"/><ellipse cx="236" cy="131" rx="1.0" ry="0.5" transform="rotate(168 236 131)"/><ellipse cx="997" cy="31" rx="0.8" ry="0.5" transform="rotate(155 997 31)"/><ellipse cx="364" cy="11" rx="0.7" ry="0.5" transform="rotate(2 364 11)"/><ellipse cx="1127" cy="427" rx="0.7" ry="0.3" transform="rotate(93 1127 427)"/><ellipse cx="1037" cy="373" rx="1.6" ry="0.7" transform="rotate(55 1037 373)"/><ellipse cx="566" cy="658" rx="2.9" ry="2.1" transform="rotate(42 566 658)"/><ellipse cx="358" cy="289" rx="2.5" ry="1.1" transform="rotate(42 358 289)"/><ellipse cx="967" cy="336" rx="0.9" ry="0.7" transform="rotate(175 967 336)"/><ellipse cx="134" cy="517" rx="1.8" ry="0.7" transform="rotate(27 134 517)"/><ellipse cx="280" cy="567" rx="0.8" ry="0.5" transform="rotate(106 280 567)"/><ellipse cx="93" cy="321" rx="1.1" ry="0.5" transform="rotate(58 93 321)"/><ellipse cx="698" cy="460" rx="2.3" ry="1.7" transform="rotate(9 698 460)"/><ellipse cx="1068" cy="389" rx="2.7" ry="1.0" transform="rotate(40 1068 389)"/><ellipse cx="779" cy="230" rx="0.8" ry="0.5" transform="rotate(102 779 230)"/><ellipse cx="303" cy="688" rx="2.2" ry="1.1" transform="rotate(37 303 688)"/><ellipse cx="513" cy="51" rx="0.7" ry="0.4" transform="rotate(106 513 51)"/><ellipse cx="467" cy="565" rx="1.0" ry="0.6" transform="rotate(29 467 565)"/><ellipse cx="845" cy="684" rx="1.9" ry="0.7" transform="rotate(120 845 684)"/><ellipse cx="1064" cy="479" rx="0.9" ry="0.5" transform="rotate(144 1064 479)"/><ellipse cx="187" cy="328" rx="2.5" ry="1.8" transform="rotate(16 187 328)"/><ellipse cx="881" cy="502" rx="0.9" ry="0.5" transform="rotate(85 881 502)"/><ellipse cx="528" cy="420" rx="0.8" ry="0.4" transform="rotate(93 528 420)"/><ellipse cx="851" cy="584" rx="0.6" ry="0.2" transform="rotate(22 851 584)"/><ellipse cx="101" cy="354" rx="1.0" ry="0.5" transform="rotate(157 101 354)"/><ellipse cx="432" cy="338" rx="2.5" ry="1.0" transform="rotate(27 432 338)"/><ellipse cx="348" cy="508" rx="1.8" ry="1.3" transform="rotate(105 348 508)"/><ellipse cx="956" cy="697" rx="3.4" ry="2.4" transform="rotate(1 956 697)"/><ellipse cx="1161" cy="453" rx="0.7" ry="0.4" transform="rotate(72 1161 453)"/><ellipse cx="103" cy="621" rx="2.8" ry="1.1" transform="rotate(109 103 621)"/><ellipse cx="533" cy="85" rx="0.5" ry="0.4" transform="rotate(116 533 85)"/><ellipse cx="987" cy="539" rx="1.7" ry="1.1" transform="rotate(171 987 539)"/><ellipse cx="688" cy="465" rx="0.8" ry="0.4" transform="rotate(177 688 465)"/><ellipse cx="147" cy="133" rx="1.7" ry="1.0" transform="rotate(43 147 133)"/><ellipse cx="462" cy="18" rx="1.9" ry="0.7" transform="rotate(125 462 18)"/><ellipse cx="261" cy="387" rx="0.7" ry="0.5" transform="rotate(35 261 387)"/><ellipse cx="356" cy="606" rx="0.8" ry="0.4" transform="rotate(30 356 606)"/><ellipse cx="599" cy="20" rx="2.1" ry="0.9" transform="rotate(128 599 20)"/><ellipse cx="499" cy="425" rx="1.1" ry="0.6" transform="rotate(125 499 425)"/><ellipse cx="668" cy="53" rx="0.5" ry="0.3" transform="rotate(90 668 53)"/><ellipse cx="1137" cy="291" rx="1.1" ry="0.7" transform="rotate(80 1137 291)"/><ellipse cx="518" cy="514" rx="0.9" ry="0.5" transform="rotate(99 518 514)"/><ellipse cx="257" cy="197" rx="0.5" ry="0.2" transform="rotate(37 257 197)"/><ellipse cx="979" cy="469" rx="2.7" ry="1.8" transform="rotate(115 979 469)"/><ellipse cx="858" cy="418" rx="1.0" ry="0.4" transform="rotate(69 858 418)"/><ellipse cx="1180" cy="682" rx="0.6" ry="0.4" transform="rotate(148 1180 682)"/><ellipse cx="240" cy="637" rx="1.0" ry="0.4" transform="rotate(31 240 637)"/><ellipse cx="967" cy="121" rx="1.0" ry="0.5" transform="rotate(74 967 121)"/><ellipse cx="835" cy="695" rx="1.8" ry="0.8" transform="rotate(110 835 695)"/><ellipse cx="864" cy="155" rx="0.8" ry="0.5" transform="rotate(74 864 155)"/><ellipse cx="1065" cy="679" rx="3.1" ry="1.6" transform="rotate(173 1065 679)"/><ellipse cx="1133" cy="63" rx="2.7" ry="1.5" transform="rotate(112 1133 63)"/><ellipse cx="390" cy="414" rx="2.8" ry="1.3" transform="rotate(20 390 414)"/><ellipse cx="779" cy="686" rx="0.9" ry="0.3" transform="rotate(28 779 686)"/><ellipse cx="699" cy="371" rx="2.6" ry="1.0" transform="rotate(136 699 371)"/><ellipse cx="107" cy="340" rx="1.0" ry="0.6" transform="rotate(54 107 340)"/><ellipse cx="766" cy="378" rx="0.8" ry="0.4" transform="rotate(137 766 378)"/><ellipse cx="776" cy="681" rx="0.6" ry="0.3" transform="rotate(89 776 681)"/><ellipse cx="948" cy="635" rx="3.1" ry="2.3" transform="rotate(61 948 635)"/><ellipse cx="721" cy="269" rx="0.9" ry="0.7" transform="rotate(66 721 269)"/><ellipse cx="593" cy="315" rx="1.1" ry="0.8" transform="rotate(5 593 315)"/><ellipse cx="926" cy="78" rx="0.5" ry="0.3" transform="rotate(125 926 78)"/><ellipse cx="418" cy="376" rx="1.8" ry="1.3" transform="rotate(115 418 376)"/><ellipse cx="649" cy="562" rx="0.7" ry="0.4" transform="rotate(58 649 562)"/><ellipse cx="77" cy="645" rx="3.1" ry="1.5" transform="rotate(164 77 645)"/><ellipse cx="763" cy="554" rx="0.6" ry="0.5" transform="rotate(8 763 554)"/><ellipse cx="560" cy="243" rx="3.4" ry="2.5" transform="rotate(62 560 243)"/><ellipse cx="1200" cy="515" rx="0.6" ry="0.3" transform="rotate(129 1200 515)"/><ellipse cx="249" cy="246" rx="1.9" ry="0.8" transform="rotate(17 249 246)"/><ellipse cx="488" cy="57" rx="2.1" ry="0.8" transform="rotate(146 488 57)"/><ellipse cx="227" cy="53" rx="1.1" ry="0.6" transform="rotate(104 227 53)"/><ellipse cx="88" cy="630" rx="3.1" ry="1.3" transform="rotate(87 88 630)"/><ellipse cx="344" cy="396" rx="0.7" ry="0.2" transform="rotate(20 344 396)"/><ellipse cx="946" cy="312" rx="0.7" ry="0.3" transform="rotate(73 946 312)"/><ellipse cx="902" cy="511" rx="0.7" ry="0.5" transform="rotate(115 902 511)"/><ellipse cx="964" cy="258" rx="0.8" ry="0.5" transform="rotate(49 964 258)"/><ellipse cx="942" cy="222" rx="2.1" ry="1.5" transform="rotate(5 942 222)"/><ellipse cx="226" cy="379" rx="0.9" ry="0.6" transform="rotate(108 226 379)"/><ellipse cx="184" cy="380" rx="2.4" ry="1.7" transform="rotate(84 184 380)"/><ellipse cx="912" cy="435" rx="1.1" ry="0.7" transform="rotate(54 912 435)"/><ellipse cx="1086" cy="467" rx="0.9" ry="0.5" transform="rotate(95 1086 467)"/><ellipse cx="383" cy="596" rx="0.7" ry="0.4" transform="rotate(110 383 596)"/><ellipse cx="373" cy="424" rx="0.6" ry="0.4" transform="rotate(155 373 424)"/><ellipse cx="944" cy="524" rx="0.5" ry="0.3" transform="rotate(142 944 524)"/><ellipse cx="253" cy="309" rx="0.9" ry="0.3" transform="rotate(110 253 309)"/><ellipse cx="1054" cy="124" rx="1.3" ry="0.5" transform="rotate(136 1054 124)"/><ellipse cx="231" cy="600" rx="3.0" ry="1.5" transform="rotate(24 231 600)"/><ellipse cx="595" cy="407" rx="3.2" ry="1.6" transform="rotate(130 595 407)"/><ellipse cx="1074" cy="415" rx="1.7" ry="1.0" transform="rotate(178 1074 415)"/><ellipse cx="1165" cy="162" rx="2.1" ry="1.0" transform="rotate(179 1165 162)"/><ellipse cx="460" cy="324" rx="0.6" ry="0.4" transform="rotate(43 460 324)"/><ellipse cx="283" cy="29" rx="0.7" ry="0.3" transform="rotate(134 283 29)"/><ellipse cx="276" cy="528" rx="0.5" ry="0.3" transform="rotate(142 276 528)"/><ellipse cx="953" cy="404" rx="0.8" ry="0.5" transform="rotate(138 953 404)"/><ellipse cx="219" cy="262" rx="1.1" ry="0.8" transform="rotate(47 219 262)"/><ellipse cx="506" cy="366" rx="2.1" ry="1.5" transform="rotate(68 506 366)"/><ellipse cx="1055" cy="622" rx="1.1" ry="0.4" transform="rotate(106 1055 622)"/><ellipse cx="1145" cy="217" rx="3.2" ry="1.8" transform="rotate(107 1145 217)"/><ellipse cx="716" cy="626" rx="0.8" ry="0.4" transform="rotate(174 716 626)"/><ellipse cx="776" cy="345" rx="0.5" ry="0.3" transform="rotate(38 776 345)"/><ellipse cx="470" cy="154" rx="0.6" ry="0.3" transform="rotate(130 470 154)"/><ellipse cx="122" cy="591" rx="2.9" ry="1.5" transform="rotate(66 122 591)"/><ellipse cx="593" cy="304" rx="1.6" ry="1.1" transform="rotate(114 593 304)"/><ellipse cx="383" cy="602" rx="1.0" ry="0.7" transform="rotate(51 383 602)"/><ellipse cx="1179" cy="147" rx="0.8" ry="0.5" transform="rotate(84 1179 147)"/><ellipse cx="935" cy="176" rx="1.0" ry="0.5" transform="rotate(64 935 176)"/><ellipse cx="564" cy="187" rx="0.6" ry="0.4" transform="rotate(160 564 187)"/><ellipse cx="587" cy="245" rx="1.0" ry="0.5" transform="rotate(46 587 245)"/><ellipse cx="994" cy="110" rx="0.8" ry="0.4" transform="rotate(108 994 110)"/><ellipse cx="404" cy="467" rx="1.0" ry="0.4" transform="rotate(49 404 467)"/><ellipse cx="802" cy="444" rx="0.5" ry="0.2" transform="rotate(9 802 444)"/><ellipse cx="646" cy="226" rx="0.5" ry="0.3" transform="rotate(139 646 226)"/><ellipse cx="821" cy="153" rx="1.0" ry="0.5" transform="rotate(116 821 153)"/><ellipse cx="1147" cy="41" rx="1.1" ry="0.6" transform="rotate(47 1147 41)"/><ellipse cx="166" cy="386" rx="3.3" ry="1.4" transform="rotate(37 166 386)"/><ellipse cx="803" cy="352" rx="2.9" ry="1.5" transform="rotate(179 803 352)"/><ellipse cx="1102" cy="135" rx="0.8" ry="0.5" transform="rotate(124 1102 135)"/><ellipse cx="179" cy="453" rx="0.7" ry="0.3" transform="rotate(109 179 453)"/><ellipse cx="145" cy="147" rx="0.9" ry="0.5" transform="rotate(27 145 147)"/><ellipse cx="424" cy="42" rx="1.0" ry="0.4" transform="rotate(50 424 42)"/><ellipse cx="172" cy="271" rx="0.7" ry="0.3" transform="rotate(49 172 271)"/><ellipse cx="923" cy="123" rx="0.6" ry="0.2" transform="rotate(148 923 123)"/><ellipse cx="52" cy="467" rx="0.8" ry="0.3" transform="rotate(135 52 467)"/><ellipse cx="1009" cy="26" rx="0.6" ry="0.3" transform="rotate(145 1009 26)"/><ellipse cx="1188" cy="690" rx="1.3" ry="0.5" transform="rotate(59 1188 690)"/><ellipse cx="1152" cy="527" rx="2.5" ry="1.0" transform="rotate(10 1152 527)"/><ellipse cx="229" cy="209" rx="1.1" ry="0.6" transform="rotate(78 229 209)"/><ellipse cx="664" cy="582" rx="1.1" ry="0.5" transform="rotate(104 664 582)"/><ellipse cx="1147" cy="212" rx="0.9" ry="0.4" transform="rotate(71 1147 212)"/><ellipse cx="788" cy="143" rx="2.5" ry="1.6" transform="rotate(56 788 143)"/><ellipse cx="842" cy="512" rx="2.0" ry="1.2" transform="rotate(80 842 512)"/><ellipse cx="567" cy="395" rx="1.7" ry="0.7" transform="rotate(93 567 395)"/><ellipse cx="247" cy="649" rx="1.0" ry="0.4" transform="rotate(14 247 649)"/><ellipse cx="277" cy="492" rx="0.6" ry="0.3" transform="rotate(89 277 492)"/><ellipse cx="401" cy="206" rx="0.9" ry="0.5" transform="rotate(177 401 206)"/><ellipse cx="746" cy="253" rx="1.5" ry="0.8" transform="rotate(96 746 253)"/><ellipse cx="955" cy="55" rx="0.7" ry="0.5" transform="rotate(158 955 55)"/><ellipse cx="336" cy="124" rx="2.4" ry="0.8" transform="rotate(105 336 124)"/><ellipse cx="529" cy="146" rx="1.0" ry="0.5" transform="rotate(57 529 146)"/><ellipse cx="407" cy="241" rx="0.5" ry="0.3" transform="rotate(99 407 241)"/><ellipse cx="733" cy="233" rx="0.6" ry="0.4" transform="rotate(37 733 233)"/><ellipse cx="845" cy="649" rx="1.0" ry="0.5" transform="rotate(165 845 649)"/><ellipse cx="166" cy="362" rx="1.0" ry="0.5" transform="rotate(117 166 362)"/><ellipse cx="583" cy="496" rx="1.0" ry="0.4" transform="rotate(118 583 496)"/><ellipse cx="953" cy="521" rx="0.5" ry="0.4" transform="rotate(117 953 521)"/><ellipse cx="295" cy="420" rx="1.0" ry="0.7" transform="rotate(177 295 420)"/><ellipse cx="791" cy="376" rx="1.4" ry="1.0" transform="rotate(175 791 376)"/><ellipse cx="995" cy="132" rx="2.0" ry="1.3" transform="rotate(168 995 132)"/><ellipse cx="838" cy="103" rx="0.6" ry="0.3" transform="rotate(86 838 103)"/><ellipse cx="204" cy="184" rx="1.5" ry="0.8" transform="rotate(61 204 184)"/><ellipse cx="168" cy="124" rx="1.9" ry="0.7" transform="rotate(133 168 124)"/><ellipse cx="147" cy="327" rx="1.1" ry="0.7" transform="rotate(15 147 327)"/><ellipse cx="234" cy="115" rx="2.9" ry="1.9" transform="rotate(150 234 115)"/><ellipse cx="511" cy="292" rx="0.8" ry="0.5" transform="rotate(79 511 292)"/><ellipse cx="1011" cy="418" rx="0.6" ry="0.5" transform="rotate(8 1011 418)"/><ellipse cx="482" cy="300" rx="2.7" ry="1.1" transform="rotate(50 482 300)"/><ellipse cx="375" cy="52" rx="3.2" ry="2.0" transform="rotate(167 375 52)"/><ellipse cx="711" cy="382" rx="0.7" ry="0.3" transform="rotate(105 711 382)"/><ellipse cx="953" cy="682" rx="0.6" ry="0.4" transform="rotate(29 953 682)"/><ellipse cx="1032" cy="527" rx="3.2" ry="1.7" transform="rotate(14 1032 527)"/><ellipse cx="802" cy="294" rx="0.6" ry="0.3" transform="rotate(95 802 294)"/><ellipse cx="299" cy="233" rx="0.9" ry="0.4" transform="rotate(150 299 233)"/><ellipse cx="1112" cy="640" rx="1.0" ry="0.6" transform="rotate(131 1112 640)"/><ellipse cx="790" cy="145" rx="0.6" ry="0.4" transform="rotate(34 790 145)"/><ellipse cx="282" cy="437" rx="2.6" ry="1.5" transform="rotate(163 282 437)"/><ellipse cx="33" cy="217" rx="1.0" ry="0.4" transform="rotate(85 33 217)"/><ellipse cx="826" cy="433" rx="0.6" ry="0.2" transform="rotate(28 826 433)"/><ellipse cx="610" cy="100" rx="1.3" ry="0.8" transform="rotate(120 610 100)"/><ellipse cx="893" cy="311" rx="1.1" ry="0.7" transform="rotate(49 893 311)"/><ellipse cx="517" cy="144" rx="2.3" ry="1.1" transform="rotate(32 517 144)"/><ellipse cx="708" cy="507" rx="2.6" ry="1.6" transform="rotate(99 708 507)"/><ellipse cx="994" cy="657" rx="1.1" ry="0.6" transform="rotate(93 994 657)"/><ellipse cx="247" cy="225" rx="1.9" ry="0.8" transform="rotate(19 247 225)"/><ellipse cx="668" cy="304" rx="1.1" ry="0.8" transform="rotate(20 668 304)"/><ellipse cx="790" cy="646" rx="1.3" ry="0.6" transform="rotate(170 790 646)"/><ellipse cx="1055" cy="100" rx="3.1" ry="1.5" transform="rotate(103 1055 100)"/><ellipse cx="431" cy="294" rx="0.5" ry="0.3" transform="rotate(128 431 294)"/><ellipse cx="944" cy="438" rx="1.8" ry="1.0" transform="rotate(161 944 438)"/><ellipse cx="706" cy="417" rx="1.1" ry="0.6" transform="rotate(116 706 417)"/><ellipse cx="637" cy="177" rx="2.2" ry="1.6" transform="rotate(103 637 177)"/><ellipse cx="468" cy="145" rx="0.9" ry="0.5" transform="rotate(171 468 145)"/><ellipse cx="442" cy="198" rx="0.9" ry="0.6" transform="rotate(149 442 198)"/><ellipse cx="27" cy="445" rx="1.0" ry="0.7" transform="rotate(34 27 445)"/><ellipse cx="446" cy="110" rx="0.8" ry="0.5" transform="rotate(133 446 110)"/><ellipse cx="545" cy="126" rx="0.8" ry="0.5" transform="rotate(37 545 126)"/><ellipse cx="281" cy="38" rx="0.7" ry="0.3" transform="rotate(78 281 38)"/><ellipse cx="341" cy="528" rx="2.2" ry="1.5" transform="rotate(128 341 528)"/><ellipse cx="140" cy="98" rx="0.9" ry="0.4" transform="rotate(51 140 98)"/><ellipse cx="1022" cy="34" rx="0.9" ry="0.4" transform="rotate(133 1022 34)"/><ellipse cx="1107" cy="389" rx="1.1" ry="0.8" transform="rotate(120 1107 389)"/><ellipse cx="586" cy="87" rx="0.9" ry="0.5" transform="rotate(43 586 87)"/><ellipse cx="239" cy="523" rx="0.6" ry="0.3" transform="rotate(21 239 523)"/><ellipse cx="207" cy="244" rx="0.6" ry="0.3" transform="rotate(17 207 244)"/><ellipse cx="1063" cy="72" rx="2.1" ry="0.8" transform="rotate(113 1063 72)"/><ellipse cx="87" cy="466" rx="2.7" ry="1.7" transform="rotate(12 87 466)"/><ellipse cx="1096" cy="611" rx="0.7" ry="0.3" transform="rotate(78 1096 611)"/><ellipse cx="1101" cy="474" rx="1.0" ry="0.5" transform="rotate(117 1101 474)"/><ellipse cx="1046" cy="296" rx="1.0" ry="0.7" transform="rotate(27 1046 296)"/><ellipse cx="226" cy="409" rx="1.3" ry="0.7" transform="rotate(180 226 409)"/><ellipse cx="490" cy="150" rx="0.5" ry="0.2" transform="rotate(95 490 150)"/><ellipse cx="437" cy="485" rx="3.2" ry="2.1" transform="rotate(116 437 485)"/><ellipse cx="724" cy="134" rx="0.9" ry="0.5" transform="rotate(90 724 134)"/><ellipse cx="95" cy="662" rx="3.0" ry="2.2" transform="rotate(66 95 662)"/><ellipse cx="541" cy="586" rx="1.8" ry="0.9" transform="rotate(1 541 586)"/><ellipse cx="76" cy="624" rx="0.7" ry="0.3" transform="rotate(169 76 624)"/><ellipse cx="63" cy="302" rx="0.9" ry="0.7" transform="rotate(174 63 302)"/><ellipse cx="728" cy="640" rx="2.4" ry="1.1" transform="rotate(164 728 640)"/><ellipse cx="962" cy="71" rx="1.0" ry="0.4" transform="rotate(105 962 71)"/><ellipse cx="131" cy="298" rx="2.2" ry="1.2" transform="rotate(20 131 298)"/><ellipse cx="633" cy="52" rx="2.3" ry="0.8" transform="rotate(141 633 52)"/><ellipse cx="1131" cy="520" rx="1.0" ry="0.4" transform="rotate(64 1131 520)"/><ellipse cx="577" cy="121" rx="1.6" ry="0.9" transform="rotate(78 577 121)"/><ellipse cx="151" cy="373" rx="0.7" ry="0.4" transform="rotate(108 151 373)"/><ellipse cx="404" cy="538" rx="1.0" ry="0.5" transform="rotate(86 404 538)"/><ellipse cx="103" cy="205" rx="1.0" ry="0.6" transform="rotate(137 103 205)"/><ellipse cx="516" cy="447" rx="2.4" ry="1.7" transform="rotate(90 516 447)"/><ellipse cx="1083" cy="270" rx="2.2" ry="1.0" transform="rotate(20 1083 270)"/><ellipse cx="375" cy="665" rx="0.6" ry="0.4" transform="rotate(60 375 665)"/><ellipse cx="743" cy="196" rx="0.7" ry="0.3" transform="rotate(102 743 196)"/><ellipse cx="688" cy="615" rx="0.8" ry="0.5" transform="rotate(104 688 615)"/><ellipse cx="145" cy="266" rx="1.0" ry="0.6" transform="rotate(10 145 266)"/><ellipse cx="486" cy="12" rx="0.6" ry="0.4" transform="rotate(9 486 12)"/><ellipse cx="174" cy="647" rx="1.1" ry="0.7" transform="rotate(82 174 647)"/><ellipse cx="514" cy="281" rx="0.8" ry="0.5" transform="rotate(86 514 281)"/><ellipse cx="283" cy="180" rx="0.8" ry="0.4" transform="rotate(176 283 180)"/><ellipse cx="437" cy="248" rx="1.8" ry="1.0" transform="rotate(76 437 248)"/><ellipse cx="564" cy="583" rx="0.8" ry="0.6" transform="rotate(107 564 583)"/><ellipse cx="1117" cy="252" rx="3.0" ry="1.2" transform="rotate(52 1117 252)"/><ellipse cx="1017" cy="44" rx="1.8" ry="1.3" transform="rotate(155 1017 44)"/><ellipse cx="255" cy="92" rx="3.3" ry="1.6" transform="rotate(57 255 92)"/><ellipse cx="66" cy="341" rx="2.8" ry="1.5" transform="rotate(148 66 341)"/><ellipse cx="1104" cy="608" rx="2.6" ry="1.4" transform="rotate(82 1104 608)"/><ellipse cx="296" cy="104" rx="1.0" ry="0.8" transform="rotate(48 296 104)"/><ellipse cx="246" cy="60" rx="0.7" ry="0.4" transform="rotate(35 246 60)"/><ellipse cx="841" cy="133" rx="3.2" ry="1.7" transform="rotate(80 841 133)"/><ellipse cx="601" cy="166" rx="0.8" ry="0.6" transform="rotate(119 601 166)"/><ellipse cx="1006" cy="83" rx="2.4" ry="1.1" transform="rotate(162 1006 83)"/><ellipse cx="251" cy="271" rx="2.8" ry="1.5" transform="rotate(143 251 271)"/><ellipse cx="423" cy="584" rx="1.1" ry="0.8" transform="rotate(40 423 584)"/><ellipse cx="661" cy="608" rx="0.7" ry="0.5" transform="rotate(68 661 608)"/><ellipse cx="1133" cy="612" rx="2.6" ry="1.5" transform="rotate(53 1133 612)"/><ellipse cx="1099" cy="292" rx="2.8" ry="1.6" transform="rotate(26 1099 292)"/><ellipse cx="1128" cy="194" rx="0.8" ry="0.5" transform="rotate(77 1128 194)"/><ellipse cx="665" cy="502" rx="1.5" ry="0.8" transform="rotate(28 665 502)"/><ellipse cx="954" cy="238" rx="1.9" ry="0.9" transform="rotate(48 954 238)"/><ellipse cx="253" cy="197" rx="2.4" ry="1.4" transform="rotate(4 253 197)"/><ellipse cx="983" cy="529" rx="1.5" ry="1.0" transform="rotate(8 983 529)"/><ellipse cx="729" cy="409" rx="0.8" ry="0.4" transform="rotate(136 729 409)"/><ellipse cx="121" cy="188" rx="0.9" ry="0.4" transform="rotate(174 121 188)"/><ellipse cx="257" cy="643" rx="0.6" ry="0.3" transform="rotate(76 257 643)"/><ellipse cx="1092" cy="92" rx="0.8" ry="0.5" transform="rotate(180 1092 92)"/><ellipse cx="963" cy="175" rx="1.0" ry="0.7" transform="rotate(153 963 175)"/><ellipse cx="937" cy="426" rx="1.0" ry="0.4" transform="rotate(41 937 426)"/><ellipse cx="488" cy="673" rx="0.7" ry="0.4" transform="rotate(157 488 673)"/><ellipse cx="1187" cy="399" rx="3.1" ry="1.3" transform="rotate(23 1187 399)"/><ellipse cx="1033" cy="365" rx="3.2" ry="2.0" transform="rotate(156 1033 365)"/><ellipse cx="468" cy="336" rx="1.3" ry="0.8" transform="rotate(64 468 336)"/><ellipse cx="1010" cy="533" rx="0.6" ry="0.4" transform="rotate(120 1010 533)"/><ellipse cx="309" cy="325" rx="0.8" ry="0.3" transform="rotate(128 309 325)"/><ellipse cx="958" cy="152" rx="1.1" ry="0.4" transform="rotate(144 958 152)"/><ellipse cx="727" cy="492" rx="1.4" ry="1.0" transform="rotate(178 727 492)"/><ellipse cx="855" cy="415" rx="3.4" ry="1.7" transform="rotate(77 855 415)"/><ellipse cx="235" cy="351" rx="0.8" ry="0.5" transform="rotate(150 235 351)"/><ellipse cx="244" cy="269" rx="0.8" ry="0.3" transform="rotate(44 244 269)"/><ellipse cx="429" cy="605" rx="2.5" ry="1.2" transform="rotate(174 429 605)"/><ellipse cx="833" cy="614" rx="3.0" ry="1.2" transform="rotate(153 833 614)"/><ellipse cx="921" cy="603" rx="0.5" ry="0.2" transform="rotate(22 921 603)"/><ellipse cx="76" cy="372" rx="0.6" ry="0.3" transform="rotate(144 76 372)"/><ellipse cx="1184" cy="441" rx="2.2" ry="1.5" transform="rotate(13 1184 441)"/><ellipse cx="454" cy="169" rx="2.8" ry="1.4" transform="rotate(177 454 169)"/><ellipse cx="386" cy="494" rx="0.5" ry="0.4" transform="rotate(45 386 494)"/><ellipse cx="888" cy="226" rx="0.6" ry="0.4" transform="rotate(39 888 226)"/><ellipse cx="60" cy="376" rx="0.9" ry="0.3" transform="rotate(163 60 376)"/><ellipse cx="969" cy="521" rx="1.7" ry="1.2" transform="rotate(49 969 521)"/><ellipse cx="476" cy="146" rx="2.3" ry="1.5" transform="rotate(65 476 146)"/><ellipse cx="271" cy="358" rx="1.0" ry="0.4" transform="rotate(9 271 358)"/><ellipse cx="448" cy="8" rx="0.9" ry="0.5" transform="rotate(106 448 8)"/><ellipse cx="434" cy="377" rx="0.7" ry="0.3" transform="rotate(80 434 377)"/><ellipse cx="59" cy="218" rx="0.9" ry="0.6" transform="rotate(141 59 218)"/><ellipse cx="1182" cy="616" rx="2.8" ry="1.8" transform="rotate(73 1182 616)"/><ellipse cx="985" cy="450" rx="3.1" ry="2.1" transform="rotate(42 985 450)"/><ellipse cx="1008" cy="184" rx="1.0" ry="0.4" transform="rotate(35 1008 184)"/><ellipse cx="658" cy="167" rx="1.0" ry="0.4" transform="rotate(30 658 167)"/><ellipse cx="935" cy="397" rx="0.6" ry="0.2" transform="rotate(159 935 397)"/><ellipse cx="992" cy="70" rx="1.1" ry="0.8" transform="rotate(151 992 70)"/><ellipse cx="1124" cy="279" rx="1.0" ry="0.6" transform="rotate(151 1124 279)"/><ellipse cx="909" cy="644" rx="0.6" ry="0.3" transform="rotate(89 909 644)"/><ellipse cx="1170" cy="343" rx="2.4" ry="1.8" transform="rotate(56 1170 343)"/><ellipse cx="788" cy="570" rx="0.9" ry="0.4" transform="rotate(61 788 570)"/><ellipse cx="277" cy="45" rx="0.9" ry="0.5" transform="rotate(21 277 45)"/><ellipse cx="616" cy="200" rx="0.7" ry="0.3" transform="rotate(149 616 200)"/><ellipse cx="1028" cy="484" rx="0.5" ry="0.4" transform="rotate(130 1028 484)"/><ellipse cx="74" cy="118" rx="0.6" ry="0.3" transform="rotate(154 74 118)"/><ellipse cx="800" cy="648" rx="1.5" ry="1.0" transform="rotate(44 800 648)"/><ellipse cx="1052" cy="668" rx="0.6" ry="0.3" transform="rotate(22 1052 668)"/><ellipse cx="752" cy="99" rx="3.4" ry="2.0" transform="rotate(61 752 99)"/><ellipse cx="270" cy="547" rx="0.5" ry="0.3" transform="rotate(84 270 547)"/><ellipse cx="1008" cy="143" rx="0.6" ry="0.2" transform="rotate(19 1008 143)"/><ellipse cx="576" cy="298" rx="0.5" ry="0.2" transform="rotate(89 576 298)"/><ellipse cx="293" cy="675" rx="1.1" ry="0.6" transform="rotate(42 293 675)"/><ellipse cx="571" cy="692" rx="1.5" ry="1.0" transform="rotate(54 571 692)"/><ellipse cx="97" cy="293" rx="3.0" ry="2.2" transform="rotate(121 97 293)"/><ellipse cx="1058" cy="411" rx="0.7" ry="0.4" transform="rotate(162 1058 411)"/><ellipse cx="559" cy="492" rx="0.9" ry="0.6" transform="rotate(13 559 492)"/><ellipse cx="236" cy="531" rx="1.1" ry="0.4" transform="rotate(157 236 531)"/><ellipse cx="135" cy="169" rx="2.9" ry="1.4" transform="rotate(143 135 169)"/><ellipse cx="720" cy="179" rx="1.0" ry="0.4" transform="rotate(80 720 179)"/><ellipse cx="81" cy="313" rx="1.0" ry="0.7" transform="rotate(143 81 313)"/><ellipse cx="67" cy="339" rx="1.0" ry="0.4" transform="rotate(155 67 339)"/><ellipse cx="397" cy="23" rx="1.1" ry="0.7" transform="rotate(84 397 23)"/><ellipse cx="936" cy="621" rx="2.7" ry="1.8" transform="rotate(128 936 621)"/><ellipse cx="742" cy="114" rx="0.9" ry="0.5" transform="rotate(7 742 114)"/><ellipse cx="305" cy="413" rx="2.2" ry="0.9" transform="rotate(51 305 413)"/><ellipse cx="539" cy="637" rx="2.1" ry="1.4" transform="rotate(0 539 637)"/><ellipse cx="850" cy="501" rx="1.9" ry="0.9" transform="rotate(120 850 501)"/><ellipse cx="91" cy="116" rx="2.5" ry="1.3" transform="rotate(60 91 116)"/><ellipse cx="490" cy="238" rx="0.8" ry="0.5" transform="rotate(152 490 238)"/><ellipse cx="130" cy="327" rx="1.0" ry="0.4" transform="rotate(76 130 327)"/><ellipse cx="746" cy="372" rx="0.7" ry="0.4" transform="rotate(161 746 372)"/><ellipse cx="94" cy="377" rx="1.7" ry="0.9" transform="rotate(21 94 377)"/><ellipse cx="809" cy="206" rx="1.7" ry="0.7" transform="rotate(131 809 206)"/><ellipse cx="1008" cy="606" rx="0.7" ry="0.4" transform="rotate(20 1008 606)"/><ellipse cx="1047" cy="297" rx="2.4" ry="1.0" transform="rotate(177 1047 297)"/><ellipse cx="89" cy="247" rx="2.4" ry="0.9" transform="rotate(114 89 247)"/><ellipse cx="720" cy="535" rx="0.7" ry="0.4" transform="rotate(178 720 535)"/><ellipse cx="214" cy="476" rx="1.4" ry="0.8" transform="rotate(92 214 476)"/><ellipse cx="733" cy="531" rx="0.9" ry="0.4" transform="rotate(42 733 531)"/><ellipse cx="543" cy="599" rx="0.8" ry="0.4" transform="rotate(135 543 599)"/><ellipse cx="675" cy="597" rx="1.1" ry="0.5" transform="rotate(111 675 597)"/><ellipse cx="333" cy="536" rx="1.6" ry="0.8" transform="rotate(80 333 536)"/><ellipse cx="957" cy="658" rx="2.3" ry="1.6" transform="rotate(14 957 658)"/><ellipse cx="530" cy="186" rx="1.4" ry="0.6" transform="rotate(94 530 186)"/><ellipse cx="506" cy="589" rx="1.1" ry="0.4" transform="rotate(88 506 589)"/><ellipse cx="249" cy="269" rx="0.7" ry="0.5" transform="rotate(37 249 269)"/><ellipse cx="354" cy="446" rx="2.0" ry="1.2" transform="rotate(148 354 446)"/><ellipse cx="708" cy="200" rx="0.7" ry="0.3" transform="rotate(7 708 200)"/><ellipse cx="543" cy="662" rx="0.6" ry="0.3" transform="rotate(38 543 662)"/><ellipse cx="527" cy="538" rx="0.6" ry="0.4" transform="rotate(142 527 538)"/><ellipse cx="919" cy="242" rx="1.9" ry="0.8" transform="rotate(123 919 242)"/><ellipse cx="580" cy="421" rx="2.9" ry="1.8" transform="rotate(166 580 421)"/><ellipse cx="520" cy="417" rx="0.7" ry="0.4" transform="rotate(142 520 417)"/><ellipse cx="447" cy="303" rx="0.8" ry="0.4" transform="rotate(30 447 303)"/><ellipse cx="492" cy="246" rx="2.0" ry="1.2" transform="rotate(13 492 246)"/><ellipse cx="1191" cy="589" rx="0.9" ry="0.3" transform="rotate(160 1191 589)"/><ellipse cx="1162" cy="48" rx="0.7" ry="0.4" transform="rotate(144 1162 48)"/><ellipse cx="989" cy="55" rx="2.6" ry="1.4" transform="rotate(167 989 55)"/><ellipse cx="1184" cy="574" rx="2.5" ry="1.3" transform="rotate(134 1184 574)"/><ellipse cx="1171" cy="460" rx="0.8" ry="0.6" transform="rotate(58 1171 460)"/><ellipse cx="476" cy="485" rx="0.9" ry="0.4" transform="rotate(16 476 485)"/><ellipse cx="523" cy="370" rx="2.0" ry="1.5" transform="rotate(163 523 370)"/><ellipse cx="251" cy="597" rx="3.0" ry="1.7" transform="rotate(168 251 597)"/><ellipse cx="522" cy="29" rx="0.6" ry="0.4" transform="rotate(41 522 29)"/><ellipse cx="802" cy="8" rx="2.1" ry="1.6" transform="rotate(19 802 8)"/><ellipse cx="91" cy="677" rx="0.8" ry="0.4" transform="rotate(116 91 677)"/><ellipse cx="980" cy="95" rx="0.6" ry="0.2" transform="rotate(116 980 95)"/><ellipse cx="1181" cy="569" rx="3.4" ry="2.3" transform="rotate(107 1181 569)"/><ellipse cx="96" cy="91" rx="2.7" ry="1.1" transform="rotate(123 96 91)"/><ellipse cx="616" cy="77" rx="2.1" ry="1.2" transform="rotate(170 616 77)"/><ellipse cx="227" cy="135" rx="1.3" ry="0.7" transform="rotate(74 227 135)"/><ellipse cx="782" cy="356" rx="0.6" ry="0.2" transform="rotate(155 782 356)"/><ellipse cx="1088" cy="668" rx="0.8" ry="0.4" transform="rotate(57 1088 668)"/><ellipse cx="1047" cy="324" rx="1.8" ry="1.1" transform="rotate(127 1047 324)"/><ellipse cx="584" cy="153" rx="0.6" ry="0.4" transform="rotate(83 584 153)"/><ellipse cx="868" cy="189" rx="3.4" ry="1.3" transform="rotate(133 868 189)"/><ellipse cx="359" cy="655" rx="0.8" ry="0.5" transform="rotate(51 359 655)"/><ellipse cx="454" cy="463" rx="1.7" ry="0.7" transform="rotate(46 454 463)"/><ellipse cx="888" cy="670" rx="1.0" ry="0.8" transform="rotate(80 888 670)"/><ellipse cx="1037" cy="297" rx="2.9" ry="1.3" transform="rotate(57 1037 297)"/><ellipse cx="533" cy="12" rx="1.6" ry="1.1" transform="rotate(139 533 12)"/><ellipse cx="1177" cy="36" rx="2.6" ry="0.9" transform="rotate(136 1177 36)"/><ellipse cx="1109" cy="43" rx="0.7" ry="0.4" transform="rotate(1 1109 43)"/><ellipse cx="218" cy="40" rx="1.4" ry="0.5" transform="rotate(33 218 40)"/><ellipse cx="70" cy="95" rx="0.6" ry="0.4" transform="rotate(31 70 95)"/><ellipse cx="269" cy="30" rx="0.8" ry="0.5" transform="rotate(153 269 30)"/><ellipse cx="1082" cy="559" rx="0.6" ry="0.4" transform="rotate(93 1082 559)"/><ellipse cx="350" cy="84" rx="0.8" ry="0.4" transform="rotate(47 350 84)"/><ellipse cx="387" cy="651" rx="0.9" ry="0.4" transform="rotate(163 387 651)"/><ellipse cx="1101" cy="97" rx="0.6" ry="0.4" transform="rotate(88 1101 97)"/><ellipse cx="619" cy="192" rx="1.3" ry="0.8" transform="rotate(157 619 192)"/><ellipse cx="799" cy="325" rx="1.7" ry="0.9" transform="rotate(4 799 325)"/><ellipse cx="108" cy="558" rx="0.6" ry="0.4" transform="rotate(166 108 558)"/><ellipse cx="406" cy="139" rx="2.1" ry="1.3" transform="rotate(138 406 139)"/><ellipse cx="1080" cy="429" rx="0.5" ry="0.2" transform="rotate(43 1080 429)"/><ellipse cx="129" cy="181" rx="0.8" ry="0.4" transform="rotate(115 129 181)"/><ellipse cx="821" cy="299" rx="0.8" ry="0.3" transform="rotate(83 821 299)"/><ellipse cx="602" cy="531" rx="0.9" ry="0.6" transform="rotate(90 602 531)"/><ellipse cx="205" cy="238" rx="0.5" ry="0.2" transform="rotate(180 205 238)"/><ellipse cx="1185" cy="238" rx="0.9" ry="0.6" transform="rotate(124 1185 238)"/><ellipse cx="91" cy="630" rx="3.0" ry="2.2" transform="rotate(151 91 630)"/><ellipse cx="1118" cy="214" rx="1.0" ry="0.6" transform="rotate(159 1118 214)"/><ellipse cx="792" cy="267" rx="0.6" ry="0.4" transform="rotate(67 792 267)"/><ellipse cx="953" cy="619" rx="0.7" ry="0.4" transform="rotate(71 953 619)"/><ellipse cx="970" cy="219" rx="0.6" ry="0.4" transform="rotate(100 970 219)"/><ellipse cx="814" cy="475" rx="0.9" ry="0.4" transform="rotate(19 814 475)"/><ellipse cx="247" cy="24" rx="1.4" ry="0.5" transform="rotate(18 247 24)"/><ellipse cx="261" cy="67" rx="1.6" ry="1.0" transform="rotate(68 261 67)"/><ellipse cx="821" cy="161" rx="2.2" ry="1.0" transform="rotate(16 821 161)"/><ellipse cx="1198" cy="180" rx="0.5" ry="0.2" transform="rotate(41 1198 180)"/><ellipse cx="243" cy="261" rx="2.9" ry="1.5" transform="rotate(162 243 261)"/><ellipse cx="842" cy="617" rx="2.5" ry="1.9" transform="rotate(14 842 617)"/><ellipse cx="818" cy="576" rx="3.4" ry="1.6" transform="rotate(166 818 576)"/><ellipse cx="570" cy="82" rx="1.9" ry="1.4" transform="rotate(162 570 82)"/><ellipse cx="691" cy="458" rx="1.0" ry="0.6" transform="rotate(179 691 458)"/><ellipse cx="963" cy="619" rx="0.6" ry="0.3" transform="rotate(13 963 619)"/><ellipse cx="1042" cy="318" rx="1.0" ry="0.7" transform="rotate(7 1042 318)"/><ellipse cx="121" cy="331" rx="0.7" ry="0.3" transform="rotate(44 121 331)"/><ellipse cx="151" cy="522" rx="2.9" ry="1.5" transform="rotate(35 151 522)"/><ellipse cx="87" cy="543" rx="1.1" ry="0.8" transform="rotate(1 87 543)"/><ellipse cx="161" cy="351" rx="1.8" ry="0.8" transform="rotate(176 161 351)"/><ellipse cx="592" cy="294" rx="1.0" ry="0.7" transform="rotate(55 592 294)"/><ellipse cx="294" cy="350" rx="3.2" ry="1.3" transform="rotate(42 294 350)"/><ellipse cx="462" cy="124" rx="1.3" ry="0.8" transform="rotate(99 462 124)"/><ellipse cx="172" cy="517" rx="1.0" ry="0.6" transform="rotate(20 172 517)"/><ellipse cx="400" cy="107" rx="1.4" ry="0.8" transform="rotate(60 400 107)"/><ellipse cx="939" cy="15" rx="1.5" ry="0.8" transform="rotate(161 939 15)"/><ellipse cx="1107" cy="409" rx="0.6" ry="0.3" transform="rotate(112 1107 409)"/><ellipse cx="1136" cy="396" rx="2.9" ry="1.4" transform="rotate(56 1136 396)"/><ellipse cx="651" cy="469" rx="3.1" ry="1.9" transform="rotate(157 651 469)"/><ellipse cx="802" cy="459" rx="3.3" ry="1.6" transform="rotate(164 802 459)"/><ellipse cx="312" cy="319" rx="0.8" ry="0.3" transform="rotate(71 312 319)"/><ellipse cx="157" cy="395" rx="3.3" ry="2.3" transform="rotate(31 157 395)"/><ellipse cx="1063" cy="496" rx="2.6" ry="1.8" transform="rotate(54 1063 496)"/><ellipse cx="924" cy="447" rx="0.7" ry="0.3" transform="rotate(82 924 447)"/><ellipse cx="42" cy="610" rx="1.1" ry="0.8" transform="rotate(107 42 610)"/><ellipse cx="1185" cy="31" rx="0.6" ry="0.4" transform="rotate(147 1185 31)"/><ellipse cx="536" cy="39" rx="1.1" ry="0.6" transform="rotate(2 536 39)"/><ellipse cx="1044" cy="492" rx="0.7" ry="0.5" transform="rotate(103 1044 492)"/><ellipse cx="1115" cy="291" rx="0.6" ry="0.3" transform="rotate(57 1115 291)"/><ellipse cx="212" cy="584" rx="0.9" ry="0.4" transform="rotate(50 212 584)"/><ellipse cx="222" cy="439" rx="3.0" ry="1.2" transform="rotate(176 222 439)"/><ellipse cx="394" cy="470" rx="3.1" ry="1.5" transform="rotate(96 394 470)"/><ellipse cx="544" cy="378" rx="0.7" ry="0.5" transform="rotate(158 544 378)"/><ellipse cx="612" cy="328" rx="2.6" ry="1.2" transform="rotate(67 612 328)"/><ellipse cx="1116" cy="201" rx="0.9" ry="0.6" transform="rotate(23 1116 201)"/><ellipse cx="314" cy="123" rx="2.9" ry="2.0" transform="rotate(36 314 123)"/><ellipse cx="851" cy="131" rx="1.8" ry="1.2" transform="rotate(129 851 131)"/><ellipse cx="593" cy="619" rx="2.7" ry="1.1" transform="rotate(81 593 619)"/><ellipse cx="513" cy="123" rx="2.4" ry="1.2" transform="rotate(102 513 123)"/><ellipse cx="395" cy="503" rx="1.0" ry="0.5" transform="rotate(15 395 503)"/><ellipse cx="1076" cy="138" rx="0.6" ry="0.3" transform="rotate(77 1076 138)"/><ellipse cx="62" cy="317" rx="1.0" ry="0.5" transform="rotate(101 62 317)"/><ellipse cx="471" cy="417" rx="2.6" ry="0.9" transform="rotate(165 471 417)"/><ellipse cx="67" cy="298" rx="0.7" ry="0.3" transform="rotate(95 67 298)"/><ellipse cx="978" cy="677" rx="2.0" ry="0.8" transform="rotate(157 978 677)"/><ellipse cx="964" cy="97" rx="0.9" ry="0.5" transform="rotate(135 964 97)"/><ellipse cx="255" cy="248" rx="0.9" ry="0.4" transform="rotate(35 255 248)"/><ellipse cx="810" cy="297" rx="1.1" ry="0.8" transform="rotate(159 810 297)"/><ellipse cx="954" cy="36" rx="0.6" ry="0.2" transform="rotate(162 954 36)"/><ellipse cx="208" cy="34" rx="1.9" ry="0.8" transform="rotate(82 208 34)"/><ellipse cx="1012" cy="24" rx="1.0" ry="0.4" transform="rotate(102 1012 24)"/><ellipse cx="233" cy="107" rx="1.1" ry="0.4" transform="rotate(3 233 107)"/><ellipse cx="406" cy="261" rx="0.8" ry="0.6" transform="rotate(8 406 261)"/><ellipse cx="561" cy="73" rx="0.6" ry="0.3" transform="rotate(175 561 73)"/><ellipse cx="713" cy="279" rx="1.0" ry="0.4" transform="rotate(103 713 279)"/><ellipse cx="1094" cy="20" rx="0.9" ry="0.6" transform="rotate(98 1094 20)"/><ellipse cx="102" cy="666" rx="0.6" ry="0.2" transform="rotate(120 102 666)"/><ellipse cx="479" cy="591" rx="1.5" ry="0.8" transform="rotate(30 479 591)"/><ellipse cx="195" cy="317" rx="0.7" ry="0.4" transform="rotate(47 195 317)"/><ellipse cx="830" cy="260" rx="1.8" ry="1.0" transform="rotate(1 830 260)"/><ellipse cx="1076" cy="587" rx="2.1" ry="1.0" transform="rotate(64 1076 587)"/><ellipse cx="524" cy="100" rx="1.6" ry="0.7" transform="rotate(75 524 100)"/><ellipse cx="175" cy="102" rx="0.7" ry="0.4" transform="rotate(96 175 102)"/><ellipse cx="249" cy="602" rx="2.3" ry="0.9" transform="rotate(55 249 602)"/><ellipse cx="1064" cy="274" rx="2.2" ry="1.6" transform="rotate(164 1064 274)"/><ellipse cx="552" cy="688" rx="3.0" ry="1.4" transform="rotate(109 552 688)"/><ellipse cx="572" cy="155" rx="1.0" ry="0.5" transform="rotate(147 572 155)"/><ellipse cx="838" cy="262" rx="0.7" ry="0.5" transform="rotate(64 838 262)"/><ellipse cx="260" cy="621" rx="2.4" ry="1.0" transform="rotate(139 260 621)"/><ellipse cx="130" cy="695" rx="3.2" ry="1.7" transform="rotate(109 130 695)"/><ellipse cx="1088" cy="15" rx="2.4" ry="1.6" transform="rotate(36 1088 15)"/><ellipse cx="84" cy="2" rx="3.3" ry="1.7" transform="rotate(48 84 2)"/><ellipse cx="220" cy="307" rx="2.3" ry="1.2" transform="rotate(175 220 307)"/><ellipse cx="507" cy="30" rx="0.8" ry="0.5" transform="rotate(172 507 30)"/><ellipse cx="356" cy="125" rx="1.0" ry="0.6" transform="rotate(134 356 125)"/><ellipse cx="368" cy="319" rx="1.0" ry="0.6" transform="rotate(154 368 319)"/><ellipse cx="287" cy="551" rx="0.8" ry="0.4" transform="rotate(69 287 551)"/><ellipse cx="863" cy="203" rx="1.1" ry="0.6" transform="rotate(92 863 203)"/><ellipse cx="928" cy="677" rx="1.1" ry="0.5" transform="rotate(65 928 677)"/><ellipse cx="124" cy="470" rx="1.7" ry="1.2" transform="rotate(7 124 470)"/><ellipse cx="1111" cy="95" rx="1.4" ry="0.5" transform="rotate(21 1111 95)"/><ellipse cx="668" cy="633" rx="0.7" ry="0.5" transform="rotate(43 668 633)"/><ellipse cx="458" cy="158" rx="1.1" ry="0.7" transform="rotate(73 458 158)"/><ellipse cx="340" cy="511" rx="1.1" ry="0.4" transform="rotate(161 340 511)"/><ellipse cx="107" cy="221" rx="2.1" ry="0.9" transform="rotate(86 107 221)"/><ellipse cx="328" cy="368" rx="1.5" ry="0.6" transform="rotate(38 328 368)"/><ellipse cx="1155" cy="569" rx="0.5" ry="0.2" transform="rotate(32 1155 569)"/><ellipse cx="963" cy="570" rx="0.7" ry="0.4" transform="rotate(140 963 570)"/><ellipse cx="911" cy="393" rx="2.2" ry="1.6" transform="rotate(179 911 393)"/><ellipse cx="1053" cy="506" rx="1.1" ry="0.6" transform="rotate(116 1053 506)"/><ellipse cx="729" cy="392" rx="0.8" ry="0.5" transform="rotate(69 729 392)"/><ellipse cx="746" cy="665" rx="1.3" ry="0.5" transform="rotate(41 746 665)"/><ellipse cx="584" cy="17" rx="0.9" ry="0.7" transform="rotate(53 584 17)"/><ellipse cx="504" cy="671" rx="0.7" ry="0.5" transform="rotate(4 504 671)"/><ellipse cx="138" cy="381" rx="3.4" ry="1.6" transform="rotate(24 138 381)"/><ellipse cx="1037" cy="122" rx="1.9" ry="1.3" transform="rotate(42 1037 122)"/><ellipse cx="1156" cy="52" rx="3.3" ry="1.5" transform="rotate(43 1156 52)"/><ellipse cx="438" cy="19" rx="1.0" ry="0.7" transform="rotate(92 438 19)"/><ellipse cx="727" cy="660" rx="0.8" ry="0.3" transform="rotate(31 727 660)"/><ellipse cx="915" cy="693" rx="2.9" ry="2.0" transform="rotate(27 915 693)"/><ellipse cx="460" cy="416" rx="0.8" ry="0.6" transform="rotate(161 460 416)"/><ellipse cx="349" cy="685" rx="2.2" ry="1.5" transform="rotate(9 349 685)"/><ellipse cx="1100" cy="556" rx="1.0" ry="0.6" transform="rotate(108 1100 556)"/><ellipse cx="58" cy="315" rx="1.0" ry="0.4" transform="rotate(172 58 315)"/><ellipse cx="472" cy="501" rx="1.0" ry="0.4" transform="rotate(117 472 501)"/><ellipse cx="437" cy="672" rx="1.6" ry="0.6" transform="rotate(19 437 672)"/><ellipse cx="495" cy="419" rx="1.6" ry="0.6" transform="rotate(110 495 419)"/><ellipse cx="342" cy="380" rx="0.8" ry="0.3" transform="rotate(143 342 380)"/><ellipse cx="585" cy="427" rx="2.0" ry="1.0" transform="rotate(53 585 427)"/><ellipse cx="1178" cy="598" rx="1.4" ry="0.8" transform="rotate(175 1178 598)"/><ellipse cx="42" cy="317" rx="1.0" ry="0.6" transform="rotate(143 42 317)"/><ellipse cx="381" cy="25" rx="0.5" ry="0.3" transform="rotate(54 381 25)"/><ellipse cx="853" cy="342" rx="0.6" ry="0.4" transform="rotate(27 853 342)"/><ellipse cx="135" cy="482" rx="1.1" ry="0.7" transform="rotate(85 135 482)"/><ellipse cx="164" cy="229" rx="1.0" ry="0.4" transform="rotate(172 164 229)"/><ellipse cx="313" cy="647" rx="1.1" ry="0.8" transform="rotate(5 313 647)"/><ellipse cx="795" cy="64" rx="1.0" ry="0.6" transform="rotate(117 795 64)"/><ellipse cx="995" cy="313" rx="2.2" ry="1.4" transform="rotate(6 995 313)"/><ellipse cx="338" cy="693" rx="0.9" ry="0.4" transform="rotate(46 338 693)"/><ellipse cx="965" cy="489" rx="0.9" ry="0.6" transform="rotate(149 965 489)"/><ellipse cx="490" cy="651" rx="1.1" ry="0.6" transform="rotate(93 490 651)"/><ellipse cx="619" cy="269" rx="2.1" ry="1.1" transform="rotate(117 619 269)"/><ellipse cx="167" cy="152" rx="2.5" ry="1.7" transform="rotate(162 167 152)"/><ellipse cx="755" cy="157" rx="1.0" ry="0.4" transform="rotate(11 755 157)"/><ellipse cx="155" cy="20" rx="1.0" ry="0.6" transform="rotate(90 155 20)"/><ellipse cx="71" cy="469" rx="1.8" ry="0.7" transform="rotate(85 71 469)"/><ellipse cx="569" cy="212" rx="0.5" ry="0.3" transform="rotate(42 569 212)"/><ellipse cx="629" cy="259" rx="1.6" ry="1.1" transform="rotate(50 629 259)"/><ellipse cx="477" cy="545" rx="2.2" ry="0.9" transform="rotate(99 477 545)"/><ellipse cx="700" cy="314" rx="1.8" ry="0.8" transform="rotate(136 700 314)"/><ellipse cx="463" cy="24" rx="1.5" ry="0.8" transform="rotate(163 463 24)"/><ellipse cx="405" cy="416" rx="1.0" ry="0.4" transform="rotate(25 405 416)"/><ellipse cx="271" cy="248" rx="1.7" ry="1.0" transform="rotate(65 271 248)"/><ellipse cx="756" cy="126" rx="3.0" ry="1.4" transform="rotate(54 756 126)"/><ellipse cx="151" cy="394" rx="0.7" ry="0.4" transform="rotate(95 151 394)"/><ellipse cx="1110" cy="173" rx="2.5" ry="1.5" transform="rotate(4 1110 173)"/><ellipse cx="369" cy="285" rx="0.6" ry="0.3" transform="rotate(34 369 285)"/><ellipse cx="850" cy="485" rx="0.9" ry="0.6" transform="rotate(75 850 485)"/><ellipse cx="1137" cy="203" rx="0.6" ry="0.3" transform="rotate(130 1137 203)"/><ellipse cx="704" cy="18" rx="0.8" ry="0.4" transform="rotate(45 704 18)"/><ellipse cx="898" cy="32" rx="2.3" ry="1.6" transform="rotate(144 898 32)"/><ellipse cx="923" cy="121" rx="0.8" ry="0.4" transform="rotate(72 923 121)"/><ellipse cx="464" cy="587" rx="0.9" ry="0.6" transform="rotate(50 464 587)"/><ellipse cx="231" cy="361" rx="0.7" ry="0.4" transform="rotate(159 231 361)"/><ellipse cx="275" cy="84" rx="3.2" ry="1.9" transform="rotate(9 275 84)"/><ellipse cx="934" cy="186" rx="0.6" ry="0.3" transform="rotate(167 934 186)"/><ellipse cx="581" cy="402" rx="0.9" ry="0.6" transform="rotate(20 581 402)"/><ellipse cx="174" cy="187" rx="3.3" ry="2.3" transform="rotate(66 174 187)"/><ellipse cx="472" cy="434" rx="2.2" ry="0.9" transform="rotate(178 472 434)"/><ellipse cx="250" cy="600" rx="0.7" ry="0.5" transform="rotate(77 250 600)"/><ellipse cx="183" cy="274" rx="1.8" ry="1.3" transform="rotate(83 183 274)"/><ellipse cx="906" cy="15" rx="0.9" ry="0.6" transform="rotate(71 906 15)"/><ellipse cx="1047" cy="116" rx="0.8" ry="0.6" transform="rotate(170 1047 116)"/><ellipse cx="715" cy="656" rx="3.4" ry="1.6" transform="rotate(177 715 656)"/><ellipse cx="81" cy="204" rx="0.5" ry="0.2" transform="rotate(4 81 204)"/><ellipse cx="219" cy="363" rx="2.7" ry="1.1" transform="rotate(175 219 363)"/><ellipse cx="1032" cy="624" rx="1.0" ry="0.5" transform="rotate(2 1032 624)"/><ellipse cx="109" cy="2" rx="0.9" ry="0.5" transform="rotate(15 109 2)"/><ellipse cx="486" cy="473" rx="2.2" ry="1.4" transform="rotate(31 486 473)"/><ellipse cx="425" cy="550" rx="1.5" ry="0.6" transform="rotate(138 425 550)"/><ellipse cx="898" cy="100" rx="0.8" ry="0.4" transform="rotate(8 898 100)"/><ellipse cx="468" cy="380" rx="3.0" ry="1.5" transform="rotate(37 468 380)"/><ellipse cx="960" cy="4" rx="0.7" ry="0.4" transform="rotate(5 960 4)"/><ellipse cx="622" cy="70" rx="1.5" ry="0.6" transform="rotate(67 622 70)"/><ellipse cx="1196" cy="685" rx="2.1" ry="0.9" transform="rotate(134 1196 685)"/><ellipse cx="574" cy="432" rx="1.6" ry="0.7" transform="rotate(70 574 432)"/><ellipse cx="580" cy="23" rx="2.7" ry="2.0" transform="rotate(78 580 23)"/><ellipse cx="76" cy="400" rx="0.8" ry="0.6" transform="rotate(43 76 400)"/><ellipse cx="436" cy="521" rx="0.6" ry="0.3" transform="rotate(145 436 521)"/><ellipse cx="926" cy="289" rx="2.6" ry="1.5" transform="rotate(168 926 289)"/><ellipse cx="1033" cy="365" rx="3.3" ry="1.3" transform="rotate(49 1033 365)"/><ellipse cx="676" cy="35" rx="1.0" ry="0.5" transform="rotate(120 676 35)"/><ellipse cx="593" cy="460" rx="2.1" ry="1.4" transform="rotate(173 593 460)"/><ellipse cx="219" cy="660" rx="3.0" ry="1.4" transform="rotate(6 219 660)"/><ellipse cx="487" cy="74" rx="1.8" ry="0.7" transform="rotate(87 487 74)"/><ellipse cx="610" cy="161" rx="0.6" ry="0.3" transform="rotate(36 610 161)"/><ellipse cx="503" cy="302" rx="1.0" ry="0.6" transform="rotate(22 503 302)"/><ellipse cx="601" cy="375" rx="2.1" ry="1.0" transform="rotate(106 601 375)"/><ellipse cx="1187" cy="310" rx="1.6" ry="0.7" transform="rotate(100 1187 310)"/><ellipse cx="763" cy="270" rx="0.7" ry="0.5" transform="rotate(93 763 270)"/><ellipse cx="279" cy="97" rx="0.7" ry="0.4" transform="rotate(129 279 97)"/><ellipse cx="53" cy="258" rx="0.6" ry="0.4" transform="rotate(59 53 258)"/><ellipse cx="1143" cy="380" rx="0.8" ry="0.4" transform="rotate(48 1143 380)"/><ellipse cx="319" cy="72" rx="0.9" ry="0.4" transform="rotate(170 319 72)"/><ellipse cx="621" cy="433" rx="0.5" ry="0.3" transform="rotate(77 621 433)"/><ellipse cx="1137" cy="394" rx="0.9" ry="0.3" transform="rotate(157 1137 394)"/><ellipse cx="1090" cy="324" rx="0.8" ry="0.6" transform="rotate(139 1090 324)"/><ellipse cx="419" cy="149" rx="2.9" ry="1.6" transform="rotate(46 419 149)"/><ellipse cx="298" cy="99" rx="0.6" ry="0.3" transform="rotate(21 298 99)"/><ellipse cx="1140" cy="598" rx="0.8" ry="0.3" transform="rotate(113 1140 598)"/><ellipse cx="1148" cy="492" rx="1.0" ry="0.4" transform="rotate(13 1148 492)"/><ellipse cx="168" cy="530" rx="2.2" ry="1.6" transform="rotate(123 168 530)"/><ellipse cx="486" cy="658" rx="2.5" ry="1.4" transform="rotate(106 486 658)"/><ellipse cx="669" cy="554" rx="3.2" ry="1.7" transform="rotate(139 669 554)"/><ellipse cx="259" cy="256" rx="1.1" ry="0.7" transform="rotate(56 259 256)"/><ellipse cx="500" cy="152" rx="1.0" ry="0.5" transform="rotate(4 500 152)"/><ellipse cx="422" cy="194" rx="2.0" ry="1.4" transform="rotate(7 422 194)"/><ellipse cx="405" cy="390" rx="0.9" ry="0.5" transform="rotate(125 405 390)"/><ellipse cx="361" cy="301" rx="2.4" ry="1.3" transform="rotate(137 361 301)"/><ellipse cx="272" cy="459" rx="1.0" ry="0.7" transform="rotate(97 272 459)"/><ellipse cx="338" cy="574" rx="2.0" ry="1.4" transform="rotate(25 338 574)"/><ellipse cx="1036" cy="473" rx="1.0" ry="0.4" transform="rotate(92 1036 473)"/><ellipse cx="852" cy="204" rx="2.2" ry="0.9" transform="rotate(117 852 204)"/><ellipse cx="958" cy="115" rx="1.0" ry="0.6" transform="rotate(133 958 115)"/><ellipse cx="375" cy="284" rx="0.7" ry="0.4" transform="rotate(124 375 284)"/><ellipse cx="1122" cy="593" rx="3.3" ry="2.3" transform="rotate(119 1122 593)"/><ellipse cx="405" cy="24" rx="0.6" ry="0.3" transform="rotate(52 405 24)"/><ellipse cx="1056" cy="595" rx="0.9" ry="0.5" transform="rotate(95 1056 595)"/><ellipse cx="567" cy="609" rx="0.8" ry="0.5" transform="rotate(159 567 609)"/><ellipse cx="236" cy="41" rx="2.5" ry="1.0" transform="rotate(73 236 41)"/><ellipse cx="797" cy="602" rx="3.1" ry="1.9" transform="rotate(145 797 602)"/><ellipse cx="741" cy="14" rx="0.8" ry="0.5" transform="rotate(172 741 14)"/><ellipse cx="546" cy="364" rx="1.5" ry="1.1" transform="rotate(36 546 364)"/><ellipse cx="123" cy="26" rx="0.9" ry="0.5" transform="rotate(123 123 26)"/><ellipse cx="973" cy="1" rx="2.1" ry="0.8" transform="rotate(162 973 1)"/><ellipse cx="379" cy="439" rx="0.9" ry="0.3" transform="rotate(17 379 439)"/><ellipse cx="515" cy="526" rx="0.5" ry="0.3" transform="rotate(171 515 526)"/><ellipse cx="196" cy="358" rx="1.5" ry="0.9" transform="rotate(68 196 358)"/><ellipse cx="708" cy="179" rx="2.9" ry="2.0" transform="rotate(163 708 179)"/><ellipse cx="367" cy="84" rx="0.7" ry="0.5" transform="rotate(117 367 84)"/><ellipse cx="1140" cy="477" rx="0.5" ry="0.3" transform="rotate(136 1140 477)"/><ellipse cx="137" cy="320" rx="2.4" ry="0.9" transform="rotate(96 137 320)"/><ellipse cx="547" cy="687" rx="0.9" ry="0.5" transform="rotate(170 547 687)"/><ellipse cx="1046" cy="521" rx="3.1" ry="1.7" transform="rotate(105 1046 521)"/><ellipse cx="441" cy="445" rx="0.9" ry="0.6" transform="rotate(75 441 445)"/><ellipse cx="764" cy="213" rx="2.2" ry="0.9" transform="rotate(84 764 213)"/><ellipse cx="521" cy="36" rx="0.9" ry="0.3" transform="rotate(36 521 36)"/><ellipse cx="385" cy="331" rx="0.6" ry="0.4" transform="rotate(123 385 331)"/><ellipse cx="999" cy="421" rx="0.6" ry="0.4" transform="rotate(16 999 421)"/><ellipse cx="656" cy="312" rx="0.8" ry="0.5" transform="rotate(48 656 312)"/><ellipse cx="1195" cy="570" rx="0.6" ry="0.3" transform="rotate(167 1195 570)"/><ellipse cx="1026" cy="155" rx="0.9" ry="0.5" transform="rotate(110 1026 155)"/><ellipse cx="239" cy="395" rx="1.9" ry="1.2" transform="rotate(124 239 395)"/><ellipse cx="851" cy="428" rx="1.0" ry="0.4" transform="rotate(26 851 428)"/><ellipse cx="233" cy="664" rx="0.6" ry="0.3" transform="rotate(56 233 664)"/><ellipse cx="46" cy="550" rx="2.2" ry="1.3" transform="rotate(164 46 550)"/><ellipse cx="770" cy="386" rx="1.0" ry="0.7" transform="rotate(54 770 386)"/><ellipse cx="110" cy="143" rx="1.1" ry="0.7" transform="rotate(45 110 143)"/><ellipse cx="672" cy="476" rx="0.6" ry="0.3" transform="rotate(158 672 476)"/><ellipse cx="440" cy="296" rx="2.9" ry="1.7" transform="rotate(159 440 296)"/><ellipse cx="803" cy="173" rx="0.5" ry="0.3" transform="rotate(158 803 173)"/><ellipse cx="149" cy="33" rx="0.9" ry="0.4" transform="rotate(126 149 33)"/><ellipse cx="1115" cy="228" rx="2.0" ry="1.0" transform="rotate(143 1115 228)"/><ellipse cx="713" cy="127" rx="3.1" ry="1.7" transform="rotate(137 713 127)"/><ellipse cx="601" cy="633" rx="3.0" ry="1.8" transform="rotate(8 601 633)"/><ellipse cx="363" cy="82" rx="1.4" ry="0.7" transform="rotate(73 363 82)"/><ellipse cx="532" cy="466" rx="0.5" ry="0.3" transform="rotate(176 532 466)"/><ellipse cx="303" cy="64" rx="0.8" ry="0.3" transform="rotate(160 303 64)"/><ellipse cx="778" cy="434" rx="0.9" ry="0.7" transform="rotate(57 778 434)"/><ellipse cx="136" cy="566" rx="2.7" ry="1.3" transform="rotate(32 136 566)"/><ellipse cx="1078" cy="412" rx="1.4" ry="0.9" transform="rotate(106 1078 412)"/><ellipse cx="1120" cy="212" rx="2.2" ry="1.4" transform="rotate(124 1120 212)"/><ellipse cx="217" cy="381" rx="2.9" ry="2.0" transform="rotate(59 217 381)"/><ellipse cx="197" cy="23" rx="2.9" ry="1.5" transform="rotate(128 197 23)"/><ellipse cx="580" cy="423" rx="1.7" ry="0.9" transform="rotate(42 580 423)"/><ellipse cx="1012" cy="675" rx="0.5" ry="0.3" transform="rotate(17 1012 675)"/><ellipse cx="184" cy="281" rx="0.5" ry="0.3" transform="rotate(122 184 281)"/><ellipse cx="742" cy="648" rx="0.6" ry="0.4" transform="rotate(151 742 648)"/><ellipse cx="1127" cy="5" rx="3.2" ry="1.3" transform="rotate(92 1127 5)"/><ellipse cx="654" cy="330" rx="2.3" ry="1.6" transform="rotate(129 654 330)"/><ellipse cx="60" cy="583" rx="1.0" ry="0.5" transform="rotate(63 60 583)"/><ellipse cx="196" cy="577" rx="1.1" ry="0.5" transform="rotate(17 196 577)"/><ellipse cx="919" cy="384" rx="0.8" ry="0.5" transform="rotate(129 919 384)"/><ellipse cx="209" cy="499" rx="1.9" ry="1.2" transform="rotate(80 209 499)"/><ellipse cx="807" cy="102" rx="0.8" ry="0.4" transform="rotate(58 807 102)"/><ellipse cx="1183" cy="68" rx="1.9" ry="1.2" transform="rotate(71 1183 68)"/><ellipse cx="136" cy="283" rx="2.1" ry="1.2" transform="rotate(5 136 283)"/><ellipse cx="488" cy="218" rx="2.1" ry="1.4" transform="rotate(170 488 218)"/><ellipse cx="287" cy="332" rx="0.8" ry="0.4" transform="rotate(121 287 332)"/><ellipse cx="947" cy="43" rx="1.0" ry="0.6" transform="rotate(38 947 43)"/><ellipse cx="1121" cy="422" rx="2.7" ry="1.2" transform="rotate(164 1121 422)"/><ellipse cx="1078" cy="459" rx="0.9" ry="0.4" transform="rotate(131 1078 459)"/><ellipse cx="259" cy="580" rx="1.0" ry="0.7" transform="rotate(165 259 580)"/><ellipse cx="274" cy="619" rx="1.0" ry="0.7" transform="rotate(144 274 619)"/><ellipse cx="566" cy="670" rx="1.0" ry="0.4" transform="rotate(30 566 670)"/><ellipse cx="1081" cy="461" rx="0.8" ry="0.5" transform="rotate(83 1081 461)"/><ellipse cx="1080" cy="584" rx="0.8" ry="0.3" transform="rotate(61 1080 584)"/><ellipse cx="986" cy="308" rx="0.6" ry="0.2" transform="rotate(47 986 308)"/><ellipse cx="910" cy="500" rx="0.7" ry="0.4" transform="rotate(118 910 500)"/><ellipse cx="251" cy="471" rx="2.0" ry="1.5" transform="rotate(73 251 471)"/><ellipse cx="773" cy="504" rx="3.3" ry="1.2" transform="rotate(69 773 504)"/><ellipse cx="1096" cy="358" rx="0.9" ry="0.3" transform="rotate(141 1096 358)"/><ellipse cx="317" cy="501" rx="3.0" ry="1.1" transform="rotate(24 317 501)"/><ellipse cx="750" cy="565" rx="3.1" ry="1.4" transform="rotate(82 750 565)"/><ellipse cx="1149" cy="278" rx="1.8" ry="1.3" transform="rotate(55 1149 278)"/><ellipse cx="712" cy="353" rx="1.0" ry="0.8" transform="rotate(46 712 353)"/><ellipse cx="840" cy="261" rx="1.5" ry="1.0" transform="rotate(44 840 261)"/><ellipse cx="129" cy="417" rx="0.8" ry="0.6" transform="rotate(30 129 417)"/><ellipse cx="403" cy="253" rx="0.5" ry="0.3" transform="rotate(19 403 253)"/><ellipse cx="1122" cy="321" rx="0.8" ry="0.4" transform="rotate(95 1122 321)"/><ellipse cx="358" cy="380" rx="1.0" ry="0.6" transform="rotate(73 358 380)"/><ellipse cx="703" cy="536" rx="1.0" ry="0.5" transform="rotate(10 703 536)"/><ellipse cx="324" cy="452" rx="0.9" ry="0.5" transform="rotate(72 324 452)"/><ellipse cx="930" cy="579" rx="0.9" ry="0.5" transform="rotate(67 930 579)"/><ellipse cx="819" cy="484" rx="0.7" ry="0.4" transform="rotate(92 819 484)"/><ellipse cx="106" cy="485" rx="0.9" ry="0.4" transform="rotate(169 106 485)"/><ellipse cx="1071" cy="630" rx="0.9" ry="0.4" transform="rotate(22 1071 630)"/><ellipse cx="1107" cy="582" rx="0.8" ry="0.5" transform="rotate(170 1107 582)"/><ellipse cx="408" cy="106" rx="2.8" ry="1.3" transform="rotate(149 408 106)"/><ellipse cx="1010" cy="86" rx="0.5" ry="0.4" transform="rotate(85 1010 86)"/><ellipse cx="449" cy="259" rx="1.1" ry="0.7" transform="rotate(20 449 259)"/><ellipse cx="1021" cy="71" rx="0.9" ry="0.4" transform="rotate(17 1021 71)"/><ellipse cx="688" cy="629" rx="1.8" ry="1.1" transform="rotate(100 688 629)"/><ellipse cx="711" cy="359" rx="0.7" ry="0.4" transform="rotate(96 711 359)"/><ellipse cx="553" cy="467" rx="0.8" ry="0.6" transform="rotate(31 553 467)"/><ellipse cx="478" cy="553" rx="2.4" ry="1.5" transform="rotate(4 478 553)"/><ellipse cx="975" cy="181" rx="0.8" ry="0.5" transform="rotate(111 975 181)"/><ellipse cx="849" cy="157" rx="1.0" ry="0.6" transform="rotate(73 849 157)"/><ellipse cx="1042" cy="329" rx="1.6" ry="0.6" transform="rotate(107 1042 329)"/><ellipse cx="905" cy="0" rx="0.6" ry="0.3" transform="rotate(70 905 0)"/><ellipse cx="341" cy="662" rx="1.1" ry="0.6" transform="rotate(24 341 662)"/><ellipse cx="54" cy="88" rx="0.9" ry="0.4" transform="rotate(78 54 88)"/><ellipse cx="45" cy="177" rx="1.5" ry="0.7" transform="rotate(128 45 177)"/><ellipse cx="113" cy="79" rx="2.2" ry="1.4" transform="rotate(40 113 79)"/><ellipse cx="378" cy="199" rx="0.8" ry="0.3" transform="rotate(126 378 199)"/><ellipse cx="746" cy="622" rx="0.5" ry="0.3" transform="rotate(45 746 622)"/><ellipse cx="769" cy="540" rx="2.2" ry="1.3" transform="rotate(139 769 540)"/><ellipse cx="897" cy="129" rx="0.7" ry="0.4" transform="rotate(5 897 129)"/><ellipse cx="1008" cy="242" rx="2.8" ry="1.3" transform="rotate(35 1008 242)"/><ellipse cx="465" cy="688" rx="1.4" ry="1.0" transform="rotate(87 465 688)"/><ellipse cx="469" cy="639" rx="0.5" ry="0.3" transform="rotate(160 469 639)"/><ellipse cx="913" cy="165" rx="1.1" ry="0.7" transform="rotate(9 913 165)"/><ellipse cx="76" cy="627" rx="2.8" ry="1.7" transform="rotate(60 76 627)"/><ellipse cx="475" cy="279" rx="2.3" ry="1.2" transform="rotate(157 475 279)"/><ellipse cx="802" cy="553" rx="1.8" ry="1.3" transform="rotate(26 802 553)"/><ellipse cx="980" cy="35" rx="3.3" ry="2.1" transform="rotate(93 980 35)"/><ellipse cx="1176" cy="75" rx="0.8" ry="0.4" transform="rotate(71 1176 75)"/><ellipse cx="139" cy="28" rx="0.6" ry="0.3" transform="rotate(114 139 28)"/><ellipse cx="903" cy="150" rx="1.1" ry="0.5" transform="rotate(149 903 150)"/><ellipse cx="937" cy="183" rx="1.5" ry="0.7" transform="rotate(15 937 183)"/><ellipse cx="785" cy="552" rx="3.1" ry="1.9" transform="rotate(161 785 552)"/><ellipse cx="245" cy="536" rx="0.8" ry="0.4" transform="rotate(127 245 536)"/><ellipse cx="623" cy="623" rx="2.1" ry="1.3" transform="rotate(68 623 623)"/><ellipse cx="740" cy="9" rx="0.8" ry="0.3" transform="rotate(105 740 9)"/><ellipse cx="33" cy="57" rx="1.9" ry="0.7" transform="rotate(85 33 57)"/><ellipse cx="370" cy="505" rx="0.6" ry="0.3" transform="rotate(27 370 505)"/><ellipse cx="389" cy="442" rx="3.4" ry="1.7" transform="rotate(174 389 442)"/><ellipse cx="18" cy="175" rx="0.6" ry="0.2" transform="rotate(164 18 175)"/><ellipse cx="906" cy="313" rx="0.9" ry="0.7" transform="rotate(31 906 313)"/><ellipse cx="873" cy="5" rx="0.9" ry="0.6" transform="rotate(40 873 5)"/><ellipse cx="1067" cy="454" rx="0.6" ry="0.3" transform="rotate(1 1067 454)"/><ellipse cx="896" cy="38" rx="2.6" ry="1.1" transform="rotate(23 896 38)"/><ellipse cx="439" cy="94" rx="3.0" ry="1.1" transform="rotate(27 439 94)"/><ellipse cx="508" cy="658" rx="2.4" ry="1.5" transform="rotate(94 508 658)"/><ellipse cx="478" cy="660" rx="0.5" ry="0.4" transform="rotate(167 478 660)"/><ellipse cx="1015" cy="303" rx="0.8" ry="0.4" transform="rotate(64 1015 303)"/><ellipse cx="979" cy="126" rx="2.2" ry="1.2" transform="rotate(112 979 126)"/><ellipse cx="500" cy="668" rx="3.4" ry="2.0" transform="rotate(159 500 668)"/><ellipse cx="303" cy="220" rx="0.7" ry="0.5" transform="rotate(36 303 220)"/><ellipse cx="626" cy="481" rx="0.8" ry="0.5" transform="rotate(115 626 481)"/><ellipse cx="299" cy="7" rx="0.8" ry="0.4" transform="rotate(176 299 7)"/><ellipse cx="1066" cy="86" rx="2.1" ry="1.1" transform="rotate(158 1066 86)"/><ellipse cx="1174" cy="177" rx="2.2" ry="0.8" transform="rotate(71 1174 177)"/><ellipse cx="406" cy="352" rx="2.1" ry="0.8" transform="rotate(103 406 352)"/><ellipse cx="205" cy="153" rx="0.8" ry="0.4" transform="rotate(110 205 153)"/><ellipse cx="244" cy="118" rx="0.7" ry="0.5" transform="rotate(25 244 118)"/><ellipse cx="492" cy="8" rx="0.8" ry="0.5" transform="rotate(7 492 8)"/><ellipse cx="697" cy="393" rx="0.6" ry="0.4" transform="rotate(144 697 393)"/><ellipse cx="39" cy="43" rx="1.0" ry="0.6" transform="rotate(152 39 43)"/><ellipse cx="444" cy="497" rx="0.6" ry="0.3" transform="rotate(40 444 497)"/><ellipse cx="1019" cy="492" rx="0.9" ry="0.6" transform="rotate(154 1019 492)"/><ellipse cx="1004" cy="608" rx="0.9" ry="0.4" transform="rotate(50 1004 608)"/><ellipse cx="956" cy="239" rx="3.0" ry="1.5" transform="rotate(7 956 239)"/><ellipse cx="723" cy="472" rx="0.5" ry="0.2" transform="rotate(88 723 472)"/><ellipse cx="260" cy="530" rx="1.4" ry="0.9" transform="rotate(163 260 530)"/><ellipse cx="914" cy="205" rx="2.2" ry="1.6" transform="rotate(65 914 205)"/><ellipse cx="751" cy="74" rx="0.7" ry="0.4" transform="rotate(121 751 74)"/><ellipse cx="252" cy="163" rx="0.7" ry="0.3" transform="rotate(178 252 163)"/><ellipse cx="685" cy="245" rx="2.5" ry="0.9" transform="rotate(142 685 245)"/><ellipse cx="797" cy="225" rx="2.3" ry="1.4" transform="rotate(32 797 225)"/><ellipse cx="541" cy="395" rx="0.7" ry="0.4" transform="rotate(17 541 395)"/><ellipse cx="551" cy="311" rx="0.7" ry="0.3" transform="rotate(111 551 311)"/><ellipse cx="490" cy="598" rx="0.6" ry="0.3" transform="rotate(47 490 598)"/><ellipse cx="397" cy="162" rx="3.4" ry="2.2" transform="rotate(45 397 162)"/><ellipse cx="973" cy="315" rx="1.0" ry="0.4" transform="rotate(140 973 315)"/><ellipse cx="469" cy="23" rx="0.7" ry="0.4" transform="rotate(16 469 23)"/><ellipse cx="868" cy="446" rx="1.5" ry="1.0" transform="rotate(104 868 446)"/><ellipse cx="839" cy="68" rx="0.5" ry="0.2" transform="rotate(110 839 68)"/><ellipse cx="605" cy="377" rx="0.7" ry="0.4" transform="rotate(24 605 377)"/><ellipse cx="1074" cy="611" rx="1.5" ry="0.8" transform="rotate(20 1074 611)"/><ellipse cx="693" cy="262" rx="1.7" ry="1.0" transform="rotate(21 693 262)"/><ellipse cx="435" cy="247" rx="1.0" ry="0.6" transform="rotate(177 435 247)"/><ellipse cx="117" cy="445" rx="3.3" ry="2.0" transform="rotate(170 117 445)"/><ellipse cx="284" cy="113" rx="2.5" ry="1.2" transform="rotate(28 284 113)"/><ellipse cx="235" cy="616" rx="2.1" ry="0.9" transform="rotate(95 235 616)"/><ellipse cx="884" cy="651" rx="1.9" ry="1.0" transform="rotate(52 884 651)"/><ellipse cx="667" cy="309" rx="0.9" ry="0.6" transform="rotate(161 667 309)"/><ellipse cx="329" cy="601" rx="1.0" ry="0.4" transform="rotate(169 329 601)"/><ellipse cx="787" cy="130" rx="0.9" ry="0.6" transform="rotate(123 787 130)"/><ellipse cx="704" cy="585" rx="0.8" ry="0.5" transform="rotate(45 704 585)"/><ellipse cx="226" cy="77" rx="0.9" ry="0.6" transform="rotate(51 226 77)"/><ellipse cx="379" cy="612" rx="1.0" ry="0.5" transform="rotate(148 379 612)"/><ellipse cx="1132" cy="404" rx="3.3" ry="1.2" transform="rotate(115 1132 404)"/><ellipse cx="906" cy="507" rx="0.6" ry="0.3" transform="rotate(136 906 507)"/><ellipse cx="987" cy="149" rx="0.8" ry="0.4" transform="rotate(114 987 149)"/><ellipse cx="706" cy="93" rx="0.9" ry="0.5" transform="rotate(153 706 93)"/><ellipse cx="712" cy="483" rx="3.3" ry="2.4" transform="rotate(130 712 483)"/><ellipse cx="874" cy="63" rx="0.7" ry="0.3" transform="rotate(9 874 63)"/><ellipse cx="600" cy="646" rx="1.1" ry="0.6" transform="rotate(29 600 646)"/><ellipse cx="474" cy="577" rx="1.7" ry="1.1" transform="rotate(95 474 577)"/><ellipse cx="278" cy="148" rx="1.0" ry="0.7" transform="rotate(130 278 148)"/><ellipse cx="83" cy="53" rx="1.0" ry="0.7" transform="rotate(77 83 53)"/><ellipse cx="746" cy="664" rx="0.8" ry="0.4" transform="rotate(118 746 664)"/><ellipse cx="488" cy="98" rx="0.8" ry="0.5" transform="rotate(152 488 98)"/><ellipse cx="669" cy="606" rx="2.3" ry="1.2" transform="rotate(26 669 606)"/><ellipse cx="119" cy="424" rx="0.7" ry="0.4" transform="rotate(64 119 424)"/><ellipse cx="1103" cy="26" rx="1.6" ry="1.0" transform="rotate(73 1103 26)"/><ellipse cx="1109" cy="131" rx="0.8" ry="0.4" transform="rotate(103 1109 131)"/><ellipse cx="1146" cy="578" rx="1.1" ry="0.5" transform="rotate(61 1146 578)"/><ellipse cx="1081" cy="284" rx="2.8" ry="1.2" transform="rotate(101 1081 284)"/><ellipse cx="124" cy="305" rx="2.5" ry="1.1" transform="rotate(79 124 305)"/><ellipse cx="817" cy="9" rx="1.1" ry="0.6" transform="rotate(159 817 9)"/><ellipse cx="1059" cy="607" rx="1.9" ry="0.7" transform="rotate(13 1059 607)"/><ellipse cx="528" cy="498" rx="0.6" ry="0.3" transform="rotate(6 528 498)"/><ellipse cx="602" cy="205" rx="0.7" ry="0.3" transform="rotate(91 602 205)"/><ellipse cx="1032" cy="620" rx="0.9" ry="0.3" transform="rotate(126 1032 620)"/><ellipse cx="358" cy="535" rx="3.3" ry="1.2" transform="rotate(95 358 535)"/><ellipse cx="990" cy="79" rx="2.5" ry="0.9" transform="rotate(134 990 79)"/><ellipse cx="701" cy="301" rx="2.1" ry="1.1" transform="rotate(63 701 301)"/><ellipse cx="295" cy="322" rx="0.7" ry="0.3" transform="rotate(26 295 322)"/><ellipse cx="366" cy="390" rx="0.9" ry="0.6" transform="rotate(1 366 390)"/><ellipse cx="311" cy="73" rx="0.9" ry="0.6" transform="rotate(72 311 73)"/><ellipse cx="1129" cy="479" rx="1.7" ry="1.1" transform="rotate(39 1129 479)"/><ellipse cx="860" cy="384" rx="0.8" ry="0.4" transform="rotate(160 860 384)"/><ellipse cx="231" cy="70" rx="0.7" ry="0.3" transform="rotate(71 231 70)"/><ellipse cx="277" cy="319" rx="0.8" ry="0.4" transform="rotate(126 277 319)"/><ellipse cx="485" cy="194" rx="0.9" ry="0.7" transform="rotate(65 485 194)"/><ellipse cx="664" cy="121" rx="0.8" ry="0.4" transform="rotate(23 664 121)"/><ellipse cx="487" cy="167" rx="1.1" ry="0.7" transform="rotate(97 487 167)"/><ellipse cx="113" cy="507" rx="0.9" ry="0.5" transform="rotate(81 113 507)"/><ellipse cx="78" cy="84" rx="1.3" ry="0.9" transform="rotate(79 78 84)"/><ellipse cx="825" cy="688" rx="2.0" ry="0.9" transform="rotate(67 825 688)"/><ellipse cx="102" cy="67" rx="3.0" ry="1.2" transform="rotate(153 102 67)"/><ellipse cx="262" cy="11" rx="1.8" ry="1.0" transform="rotate(41 262 11)"/><ellipse cx="208" cy="541" rx="0.7" ry="0.3" transform="rotate(83 208 541)"/><ellipse cx="340" cy="199" rx="2.4" ry="1.2" transform="rotate(178 340 199)"/><ellipse cx="449" cy="14" rx="1.0" ry="0.6" transform="rotate(39 449 14)"/><ellipse cx="381" cy="194" rx="0.8" ry="0.5" transform="rotate(135 381 194)"/><ellipse cx="485" cy="115" rx="2.0" ry="0.9" transform="rotate(7 485 115)"/><ellipse cx="683" cy="317" rx="1.1" ry="0.5" transform="rotate(62 683 317)"/><ellipse cx="856" cy="213" rx="0.6" ry="0.3" transform="rotate(135 856 213)"/><ellipse cx="327" cy="2" rx="2.7" ry="1.0" transform="rotate(17 327 2)"/><ellipse cx="877" cy="664" rx="2.0" ry="0.9" transform="rotate(124 877 664)"/><ellipse cx="417" cy="592" rx="2.1" ry="0.9" transform="rotate(142 417 592)"/><ellipse cx="75" cy="486" rx="0.6" ry="0.2" transform="rotate(120 75 486)"/><ellipse cx="190" cy="92" rx="1.0" ry="0.7" transform="rotate(134 190 92)"/><ellipse cx="453" cy="621" rx="1.0" ry="0.7" transform="rotate(67 453 621)"/><ellipse cx="1132" cy="381" rx="2.5" ry="1.7" transform="rotate(117 1132 381)"/><ellipse cx="152" cy="4" rx="0.6" ry="0.4" transform="rotate(135 152 4)"/><ellipse cx="793" cy="629" rx="2.8" ry="1.8" transform="rotate(68 793 629)"/><ellipse cx="481" cy="260" rx="0.5" ry="0.3" transform="rotate(177 481 260)"/><ellipse cx="294" cy="66" rx="1.0" ry="0.3" transform="rotate(37 294 66)"/><ellipse cx="817" cy="195" rx="1.1" ry="0.5" transform="rotate(151 817 195)"/><ellipse cx="287" cy="398" rx="2.1" ry="0.8" transform="rotate(110 287 398)"/><ellipse cx="962" cy="250" rx="2.3" ry="1.6" transform="rotate(104 962 250)"/><ellipse cx="426" cy="192" rx="0.7" ry="0.5" transform="rotate(65 426 192)"/><ellipse cx="718" cy="510" rx="0.9" ry="0.6" transform="rotate(134 718 510)"/><ellipse cx="190" cy="20" rx="2.7" ry="1.6" transform="rotate(168 190 20)"/><ellipse cx="1025" cy="569" rx="1.4" ry="0.9" transform="rotate(35 1025 569)"/><ellipse cx="545" cy="252" rx="1.1" ry="0.6" transform="rotate(128 545 252)"/><ellipse cx="112" cy="197" rx="0.9" ry="0.6" transform="rotate(89 112 197)"/><ellipse cx="466" cy="417" rx="0.8" ry="0.4" transform="rotate(1 466 417)"/><ellipse cx="529" cy="573" rx="0.6" ry="0.2" transform="rotate(142 529 573)"/><ellipse cx="966" cy="516" rx="0.9" ry="0.6" transform="rotate(107 966 516)"/><ellipse cx="1114" cy="537" rx="1.1" ry="0.6" transform="rotate(176 1114 537)"/><ellipse cx="124" cy="289" rx="1.8" ry="1.2" transform="rotate(16 124 289)"/><ellipse cx="150" cy="565" rx="3.3" ry="1.6" transform="rotate(44 150 565)"/><ellipse cx="972" cy="552" rx="0.7" ry="0.4" transform="rotate(8 972 552)"/><ellipse cx="1036" cy="56" rx="1.1" ry="0.5" transform="rotate(124 1036 56)"/><ellipse cx="1058" cy="130" rx="0.6" ry="0.3" transform="rotate(111 1058 130)"/><ellipse cx="102" cy="146" rx="0.9" ry="0.6" transform="rotate(152 102 146)"/><ellipse cx="268" cy="393" rx="3.3" ry="1.7" transform="rotate(146 268 393)"/><ellipse cx="1151" cy="200" rx="0.8" ry="0.4" transform="rotate(5 1151 200)"/><ellipse cx="271" cy="1" rx="0.6" ry="0.2" transform="rotate(25 271 1)"/><ellipse cx="692" cy="692" rx="3.4" ry="2.2" transform="rotate(94 692 692)"/><ellipse cx="305" cy="367" rx="0.7" ry="0.4" transform="rotate(116 305 367)"/><ellipse cx="932" cy="659" rx="1.0" ry="0.6" transform="rotate(88 932 659)"/><ellipse cx="190" cy="553" rx="2.7" ry="1.8" transform="rotate(169 190 553)"/><ellipse cx="762" cy="274" rx="1.4" ry="0.8" transform="rotate(92 762 274)"/><ellipse cx="585" cy="540" rx="2.3" ry="1.2" transform="rotate(8 585 540)"/><ellipse cx="1141" cy="369" rx="1.8" ry="0.8" transform="rotate(74 1141 369)"/><ellipse cx="643" cy="629" rx="0.8" ry="0.6" transform="rotate(169 643 629)"/><ellipse cx="850" cy="433" rx="3.2" ry="2.0" transform="rotate(62 850 433)"/><ellipse cx="890" cy="90" rx="1.0" ry="0.6" transform="rotate(176 890 90)"/><ellipse cx="203" cy="125" rx="1.1" ry="0.6" transform="rotate(32 203 125)"/><ellipse cx="924" cy="629" rx="2.8" ry="2.0" transform="rotate(112 924 629)"/><ellipse cx="232" cy="222" rx="1.0" ry="0.4" transform="rotate(50 232 222)"/><ellipse cx="383" cy="604" rx="0.5" ry="0.2" transform="rotate(138 383 604)"/><ellipse cx="1036" cy="512" rx="0.6" ry="0.3" transform="rotate(83 1036 512)"/><ellipse cx="890" cy="47" rx="1.1" ry="0.6" transform="rotate(86 890 47)"/><ellipse cx="545" cy="317" rx="1.3" ry="0.5" transform="rotate(112 545 317)"/><ellipse cx="484" cy="41" rx="0.5" ry="0.2" transform="rotate(86 484 41)"/><ellipse cx="398" cy="292" rx="0.7" ry="0.3" transform="rotate(116 398 292)"/><ellipse cx="976" cy="24" rx="2.5" ry="1.7" transform="rotate(116 976 24)"/><ellipse cx="870" cy="74" rx="0.7" ry="0.3" transform="rotate(101 870 74)"/><ellipse cx="248" cy="42" rx="0.6" ry="0.3" transform="rotate(92 248 42)"/><ellipse cx="1048" cy="571" rx="1.4" ry="0.5" transform="rotate(32 1048 571)"/></g></svg><svg width="1200" height="698" style="z-index:4"><circle cx="600.3" cy="349" r="216.3" fill="none" stroke="#000" stroke-width="3.7" stroke-dasharray="5.8 4.986" stroke-dashoffset="9.356"/><circle cx="793.25" cy="162.5" r="9.4" fill="#a8dbfa"/><circle cx="537.5" cy="198.75" r="9.5" fill="#a8dbfa"/><circle cx="408.2" cy="523.4" r="9.5" fill="#a8dbfa"/><circle cx="329" cy="338" r="5" fill="#a8dbfa"/><path d="M432.66 137.28L433.73 130.23L454.69 128.95L456.61 135.82A50 50 0 0 1 470.78 140.70L476.52 136.46L492.25 150.38L488.75 156.60A50 50 0 0 1 495.32 170.06L502.37 171.13L503.65 192.09L496.78 194.01A50 50 0 0 1 491.90 208.18L496.14 213.92L482.22 229.65L476.00 226.15A50 50 0 0 1 462.54 232.72L461.47 239.77L440.51 241.05L438.59 234.18A50 50 0 0 1 424.42 229.30L418.68 233.54L402.95 219.62L406.45 213.40A50 50 0 0 1 399.88 199.94L392.83 198.87L391.55 177.91L398.42 175.99A50 50 0 0 1 403.30 161.82L399.06 156.08L412.98 140.35L419.20 143.85A50 50 0 0 1 432.66 137.28Z" fill="#fff" stroke="#fff" stroke-width="5"/><path d="M432.66 137.28L433.73 130.23L454.69 128.95L456.61 135.82A50 50 0 0 1 470.78 140.70L476.52 136.46L492.25 150.38L488.75 156.60A50 50 0 0 1 495.32 170.06L502.37 171.13L503.65 192.09L496.78 194.01A50 50 0 0 1 491.90 208.18L496.14 213.92L482.22 229.65L476.00 226.15A50 50 0 0 1 462.54 232.72L461.47 239.77L440.51 241.05L438.59 234.18A50 50 0 0 1 424.42 229.30L418.68 233.54L402.95 219.62L406.45 213.40A50 50 0 0 1 399.88 199.94L392.83 198.87L391.55 177.91L398.42 175.99A50 50 0 0 1 403.30 161.82L399.06 156.08L412.98 140.35L419.20 143.85A50 50 0 0 1 432.66 137.28Z" fill="#36ca69"/><circle cx="447.6" cy="185.2" r="27.5" fill="#fff"/><path d="M370.13 196.85L372.33 193.51L381.57 197.34L380.76 201.25A25.6 25.6 0 0 1 386.75 207.24L390.66 206.43L394.49 215.67L391.15 217.87A25.6 25.6 0 0 1 391.15 226.33L394.49 228.53L390.66 237.77L386.75 236.96A25.6 25.6 0 0 1 380.76 242.95L381.57 246.86L372.33 250.69L370.13 247.35A25.6 25.6 0 0 1 361.67 247.35L359.47 250.69L350.23 246.86L351.04 242.95A25.6 25.6 0 0 1 345.05 236.96L341.14 237.77L337.31 228.53L340.65 226.33A25.6 25.6 0 0 1 340.65 217.87L337.31 215.67L341.14 206.43L345.05 207.24A25.6 25.6 0 0 1 351.04 201.25L350.23 197.34L359.47 193.51L361.67 196.85A25.6 25.6 0 0 1 370.13 196.85Z" fill="#36ca69"/><circle cx="365.8" cy="222.1" r="14.4" fill="#fff"/><rect x="617.6" y="79.6" width="77.6" height="96.7" fill="#ff6600"/><rect x="628" y="89.4" width="77.3" height="96.9" fill="#fff" stroke="#ff6600" stroke-width="2"/><rect x="640.1" y="99" width="78.2" height="97.3" fill="#fff" stroke="#ff6600" stroke-width="2"/><rect x="649.7" y="109.5" width="77.6" height="96.5" fill="#ff6600"/><g fill="#fff"><rect x="674.8" y="125.1" width="40.9" height="6.7"/><rect x="663.2" y="139.8" width="52.5" height="6.7"/><rect x="663.2" y="154.6" width="52.5" height="6.7"/><rect x="663.2" y="169.7" width="52.5" height="6.7"/><rect x="663.2" y="184.3" width="52.5" height="6.7"/></g><rect x="767" y="220.3" width="71.9" height="42.8" rx="2" fill="#cc9933"/><rect x="767" y="228.4" width="71.9" height="7.7" fill="#5591f5"/><rect x="772.6" y="239.9" width="11.5" height="10.3" rx="2" fill="#5591f5"/><g fill="#cdf5f3"><rect x="771.8" y="255" width="13" height="2.3" rx="1.1"/><rect x="788" y="255" width="13" height="2.3" rx="1.1"/><rect x="804.2" y="255" width="13" height="2.3" rx="1.1"/><rect x="820.4" y="255" width="13" height="2.3" rx="1.1"/><rect x="771.2" y="222.9" width="2.7" height="2.6" rx="1.3"/><rect x="775.8" y="222.9" width="8.2" height="2.6" rx="1.3"/></g><path d="M517.6 318.6 H688 A36.35 36.35 0 0 1 688 391.3 H517.6 A36.35 36.35 0 0 1 517.6 318.6ZM524.6999999999999 318.4A37.6 37.6 0 1 1 599.9 318.4A37.6 37.6 0 1 1 524.6999999999999 318.4ZM587.05 309.2A51.75 51.75 0 1 1 690.55 309.2A51.75 51.75 0 1 1 587.05 309.2Z" fill="#5896f9" fill-rule="nonzero"/><path d="M377 349 C362 362 348 370 329.7 373.3 L329.7 411 C329.7 440 350 466 377 482.4 C404 466 424.3 440 424.3 411 L424.3 373.3 C406 370 392 362 377 349Z" fill="#fff" stroke="#fff" stroke-width="12" stroke-linejoin="round"/><path d="M377 349 C362 362 348 370 329.7 373.3 L329.7 411 C329.7 440 350 466 377 482.4 C404 466 424.3 440 424.3 411 L424.3 373.3 C406 370 392 362 377 349Z" fill="#cc66ff"/><line x1="377" y1="350" x2="377" y2="481" stroke="#e09cff" stroke-width="0.6"/><path d="M361.55 407.5 V403 A15.8 15.8 0 0 1 393.15 403 V407.5" fill="none" stroke="#fff" stroke-width="4.3"/><path d="M355.5 407.1 H399.1 V439 Q377 443 355.5 439Z" fill="#fff"/><circle cx="377" cy="419.6" r="5.3" fill="#cc66ff"/><rect x="375.1" y="419.6" width="3.8" height="15" rx="1.9" fill="#cc66ff"/><path d="M758.9 366 Q758.9 363.5 761.4 363.5 H807.3 Q809.8 363.5 809.8 366 V372.5 H875 L870.3 453.8 H758.9Z" fill="#ffd024"/><path d="M766.3 375.2 H771.2 L759.7 448 Z" fill="#fff"/><path d="M773.8 372.5 H882 L870.3 453.8 H758.9 L771.4 374.6 Q771.7 372.5 773.8 372.5Z" fill="#ffcc00"/><circle cx="881.5" cy="375.2" r="26.6" fill="#fff"/><circle cx="881.5" cy="375.2" r="24.6" fill="#005ee9"/><path d="M872.4 371.5 V368.45 A9.15 9.15 0 0 1 890.7 368.45 V371.5" fill="none" stroke="#fff" stroke-width="2.6"/><path d="M869.2 370.9 H894.1 V389.6 Q881.6 391.2 869.2 389.6Z" fill="#fff"/><circle cx="881.5" cy="377.4" r="3.2" fill="#005ee9"/><rect x="880.45" y="377.4" width="2.1" height="9.2" rx="1.05" fill="#005ee9"/><rect x="508" y="459.7" width="181.3" height="154" rx="10" fill="#ff9999"/><circle cx="598.8" cy="496.8" r="24.9" fill="#fff"/><circle cx="598.8" cy="488" r="7.9" fill="#0055e5"/><path d="M585.05 504.8 A13.75 6.3 0 0 1 612.55 504.8 V510.8 Q598.8 516.2 585.05 510.8Z" fill="#0055e5"/><rect x="537.8" y="540.1" width="121.8" height="12.9" rx="6.45" fill="#fff"/><rect x="537.8" y="560.8" width="121.8" height="13.4" rx="6.7" fill="#fff"/><rect x="559.7" y="545" width="27.3" height="3.7" rx="1.85" fill="#77a8f5"/><rect x="591.4" y="545" width="27.2" height="3.7" rx="1.85" fill="#77a8f5"/><circle cx="547.1" cy="544.4" r="1.5" fill="#4f8cef"/><path d="M544.2 548.3 A3 1.4 0 0 1 550.2 548.3 A3 1.3 0 0 1 544.2 548.3Z" fill="#4f8cef"/><circle cx="562.40" cy="568.1" r="2.2" fill="#77a8f5"/><circle cx="570.19" cy="568.1" r="2.2" fill="#77a8f5"/><circle cx="577.98" cy="568.1" r="2.2" fill="#77a8f5"/><circle cx="585.77" cy="568.1" r="2.2" fill="#77a8f5"/><circle cx="593.56" cy="568.1" r="2.2" fill="#77a8f5"/><circle cx="601.35" cy="568.1" r="2.2" fill="#77a8f5"/><circle cx="609.14" cy="568.1" r="2.2" fill="#77a8f5"/><circle cx="616.93" cy="568.1" r="2.2" fill="#77a8f5"/><circle cx="624.72" cy="568.1" r="2.2" fill="#77a8f5"/><path d="M545.5 566.5 V565.3 A1.7 1.7 0 0 1 548.9 565.3 V566.5" fill="none" stroke="#5b93f0" stroke-width="1.1"/><rect x="544.3" y="566.3" width="5.9" height="5" rx="0.5" fill="#5b93f0"/><rect x="546.9" y="567.8" width="0.8" height="2" fill="#fff"/></svg></body></html>
